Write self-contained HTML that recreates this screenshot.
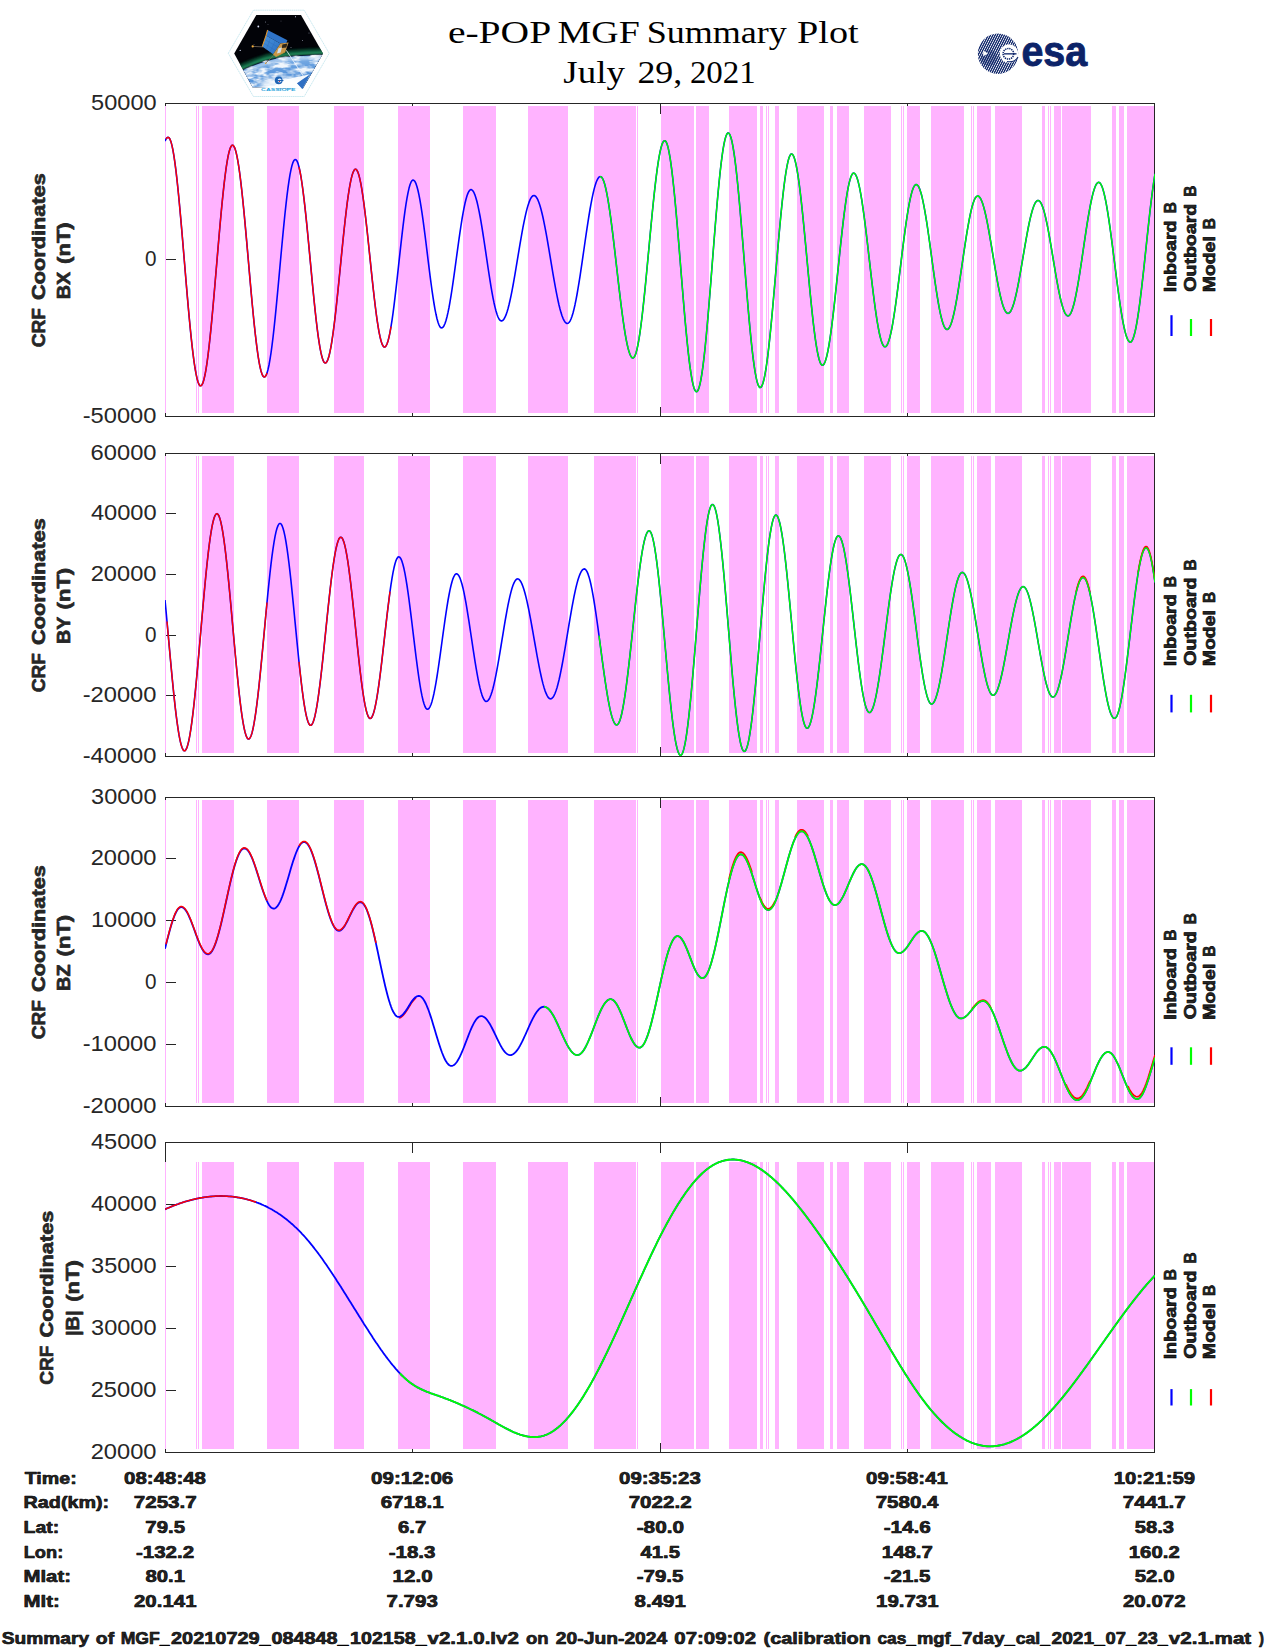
<!DOCTYPE html>
<html lang="en"><head><meta charset="utf-8"><title>e-POP MGF Summary Plot</title>
<style>html,body{margin:0;padding:0;background:#fff}body{width:1275px;height:1650px;overflow:hidden}svg{display:block}text{font-family:"Liberation Sans",sans-serif;fill:#262626}.b{font-weight:bold}.ser{font-family:"Liberation Serif",serif;fill:#000}.c{fill:none;stroke-linejoin:round;stroke-linecap:butt}</style></head><body>
<svg width="1275" height="1650" viewBox="0 0 1275 1650">
<rect width="1275" height="1650" fill="#fff"/>
<defs>
<clipPath id="cp0"><rect x="165" y="103.0" width="990" height="314.0"/></clipPath>
<clipPath id="cp1"><rect x="165" y="453.0" width="990" height="304.0"/></clipPath>
<clipPath id="cp2"><rect x="165" y="797.0" width="990" height="310.0"/></clipPath>
<clipPath id="cp3"><rect x="165" y="1142.0" width="990" height="311.0"/></clipPath>
</defs>
<g id="panel1">
<g stroke="#262626" stroke-width="1" fill="none" shape-rendering="crispEdges"><rect x="165.5" y="103.5" width="989.0" height="313.0"/><path d="M412.5,103.5v10M412.5,416.5v-10M660.5,103.5v10M660.5,416.5v-10M907.5,103.5v10M907.5,416.5v-10M165.5,259.5h10.5"/></g>
<path d="M165,106.0h1V413.0h-1zM196,106.0h1V413.0h-1zM198,106.0h1V413.0h-1zM202,106.0h32V413.0h-32zM267,106.0h32V413.0h-32zM334,106.0h30V413.0h-30zM398,106.0h32V413.0h-32zM463,106.0h33V413.0h-33zM528,106.0h40V413.0h-40zM594,106.0h42V413.0h-42zM637,106.0h1V413.0h-1zM661,106.0h33V413.0h-33zM696,106.0h13V413.0h-13zM729,106.0h28V413.0h-28zM760,106.0h3V413.0h-3zM766,106.0h1V413.0h-1zM768,106.0h1V413.0h-1zM775,106.0h4V413.0h-4zM797,106.0h27V413.0h-27zM830,106.0h3V413.0h-3zM837,106.0h12V413.0h-12zM864,106.0h27V413.0h-27zM901,106.0h1V413.0h-1zM903,106.0h1V413.0h-1zM907,106.0h13V413.0h-13zM931,106.0h33V413.0h-33zM971,106.0h1V413.0h-1zM973,106.0h1V413.0h-1zM977,106.0h14V413.0h-14zM995,106.0h27V413.0h-27zM1042,106.0h3V413.0h-3zM1048,106.0h1V413.0h-1zM1050,106.0h1V413.0h-1zM1054,106.0h7V413.0h-7zM1062,106.0h29V413.0h-29zM1112,106.0h4V413.0h-4zM1119,106.0h5V413.0h-5zM1127,106.0h27V413.0h-27z" fill="#ffb3ff" shape-rendering="crispEdges"/>
<g clip-path="url(#cp0)">
<path class="c" stroke="#0000ff" stroke-width="1.6" d="M165.0,141.1 L166.0,139.1 L167.0,137.8 L168.0,137.3 L169.0,137.7 L170.0,139.2 L171.0,141.9 L172.0,145.6 L173.0,150.5 L174.0,156.4 L175.0,163.4 L176.0,171.2 L177.0,179.9 L178.0,189.3 L179.0,199.5 L180.0,210.2 L181.0,221.4 L182.0,232.9 L183.0,244.8 L184.0,256.8 L185.0,268.8 L186.0,280.8 L187.0,292.6 L188.0,304.1 L189.0,315.2 L190.0,325.8 L191.0,335.8 L192.0,345.1 L193.0,353.6 L194.0,361.3 L195.0,368.0 L196.0,373.7 L197.0,378.4 L198.0,382.0 L199.0,384.4 L200.0,385.7 L201.0,385.8 L202.0,384.8 L203.0,382.6 L204.0,379.2 L205.0,374.8 L206.0,369.3 L207.0,362.8 L208.0,355.3 L209.0,347.0 L210.0,337.9 L211.0,328.1 L212.0,317.7 L213.0,306.7 L214.0,295.4 L215.0,283.8 L216.0,272.0 L217.0,260.2 L218.0,248.4 L219.0,236.7 L220.0,225.4 L221.0,214.4 L222.0,203.9 L223.0,194.1 L224.0,184.9 L225.0,176.5 L226.0,168.9 L227.0,162.3 L228.0,156.7 L229.0,152.2 L230.0,148.7 L231.0,146.4 L232.0,145.2 L233.0,145.2 L234.0,146.4 L235.0,148.6 L236.0,152.0 L237.0,156.4 L238.0,161.8 L239.0,168.2 L240.0,175.5 L241.0,183.7 L242.0,192.5 L243.0,202.1 L244.0,212.2 L245.0,222.9 L246.0,233.9 L247.0,245.1 L248.0,256.5 L249.0,268.0 L250.0,279.4 L251.0,290.6 L252.0,301.5 L253.0,312.0 L254.0,322.1 L255.0,331.5 L256.0,340.2 L257.0,348.2 L258.0,355.3 L259.0,361.6 L260.0,366.8 L261.0,371.0 L262.0,374.1 L263.0,376.1 L264.0,377.0 L265.0,376.8 L266.0,375.5 L267.0,373.1 L268.0,369.5 L269.0,365.0 L270.0,359.4 L271.0,353.0 L272.0,345.6 L273.0,337.5 L274.0,328.6 L275.0,319.1 L276.0,309.1 L277.0,298.7 L278.0,288.0 L279.0,277.1 L280.0,266.0 L281.0,255.0 L282.0,244.2 L283.0,233.6 L284.0,223.3 L285.0,213.5 L286.0,204.3 L287.0,195.7 L288.0,187.9 L289.0,180.8 L290.0,174.7 L291.0,169.6 L292.0,165.4 L293.0,162.3 L294.0,160.3 L295.0,159.5 L296.0,159.7 L297.0,161.0 L298.0,163.4 L299.0,167.0 L300.0,171.5 L301.0,177.0 L302.0,183.5 L303.0,190.8 L304.0,198.8 L305.0,207.6 L306.0,216.9 L307.0,226.7 L308.0,237.0 L309.0,247.4 L310.0,258.1 L311.0,268.7 L312.0,279.3 L313.0,289.7 L314.0,299.7 L315.0,309.4 L316.0,318.5 L317.0,327.0 L318.0,334.8 L319.0,341.7 L320.0,347.8 L321.0,352.9 L322.0,357.1 L323.0,360.2 L324.0,362.2 L325.0,363.0 L326.0,362.8 L327.0,361.6 L328.0,359.3 L329.0,356.0 L330.0,351.7 L331.0,346.6 L332.0,340.5 L333.0,333.6 L334.0,326.0 L335.0,317.8 L336.0,309.0 L337.0,299.7 L338.0,290.1 L339.0,280.2 L340.0,270.2 L341.0,260.1 L342.0,250.1 L343.0,240.2 L344.0,230.7 L345.0,221.5 L346.0,212.8 L347.0,204.7 L348.0,197.2 L349.0,190.5 L350.0,184.6 L351.0,179.6 L352.0,175.6 L353.0,172.5 L354.0,170.4 L355.0,169.3 L356.0,169.3 L357.0,170.4 L358.0,172.4 L359.0,175.5 L360.0,179.6 L361.0,184.5 L362.0,190.4 L363.0,197.0 L364.0,204.3 L365.0,212.3 L366.0,220.8 L367.0,229.7 L368.0,239.0 L369.0,248.5 L370.0,258.1 L371.0,267.8 L372.0,277.3 L373.0,286.6 L374.0,295.5 L375.0,304.0 L376.0,312.0 L377.0,319.3 L378.0,325.9 L379.0,331.8 L380.0,336.7 L381.0,340.8 L382.0,343.9 L383.0,345.9 L384.0,347.0 L385.0,347.0 L386.0,346.0 L387.0,344.0 L388.0,341.0 L389.0,337.1 L390.0,332.3 L391.0,326.7 L392.0,320.3 L393.0,313.3 L394.0,305.6 L395.0,297.4 L396.0,288.8 L397.0,280.0 L398.0,270.9 L399.0,261.7 L400.0,252.6 L401.0,243.6 L402.0,234.8 L403.0,226.4 L404.0,218.4 L405.0,210.9 L406.0,204.1 L407.0,198.1 L408.0,192.8 L409.0,188.3 L410.0,184.8 L411.0,182.2 L412.0,180.6 L413.0,180.0 L414.0,180.4 L415.0,181.6 L416.0,183.7 L417.0,186.7 L418.0,190.5 L419.0,195.1 L420.0,200.4 L421.0,206.3 L422.0,212.8 L423.0,219.9 L424.0,227.3 L425.0,235.0 L426.0,243.0 L427.0,251.1 L428.0,259.3 L429.0,267.4 L430.0,275.3 L431.0,283.0 L432.0,290.3 L433.0,297.2 L434.0,303.5 L435.0,309.3 L436.0,314.3 L437.0,318.7 L438.0,322.2 L439.0,325.0 L440.0,326.9 L441.0,327.8 L442.0,327.9 L443.0,327.2 L444.0,325.7 L445.0,323.5 L446.0,320.5 L447.0,316.8 L448.0,312.4 L449.0,307.5 L450.0,301.9 L451.0,295.9 L452.0,289.5 L453.0,282.7 L454.0,275.6 L455.0,268.4 L456.0,261.0 L457.0,253.6 L458.0,246.3 L459.0,239.1 L460.0,232.1 L461.0,225.5 L462.0,219.2 L463.0,213.4 L464.0,208.1 L465.0,203.3 L466.0,199.2 L467.0,195.8 L468.0,193.1 L469.0,191.2 L470.0,190.0 L471.0,189.6 L472.0,190.0 L473.0,191.0 L474.0,192.7 L475.0,195.1 L476.0,198.2 L477.0,201.8 L478.0,206.1 L479.0,210.8 L480.0,216.0 L481.0,221.7 L482.0,227.7 L483.0,234.0 L484.0,240.5 L485.0,247.2 L486.0,253.9 L487.0,260.7 L488.0,267.5 L489.0,274.0 L490.0,280.4 L491.0,286.6 L492.0,292.4 L493.0,297.8 L494.0,302.7 L495.0,307.1 L496.0,311.0 L497.0,314.3 L498.0,317.0 L499.0,319.0 L500.0,320.3 L501.0,320.9 L502.0,320.9 L503.0,320.3 L504.0,319.0 L505.0,317.2 L506.0,314.9 L507.0,312.0 L508.0,308.7 L509.0,304.8 L510.0,300.5 L511.0,295.9 L512.0,290.8 L513.0,285.5 L514.0,279.9 L515.0,274.1 L516.0,268.2 L517.0,262.2 L518.0,256.1 L519.0,250.1 L520.0,244.1 L521.0,238.3 L522.0,232.6 L523.0,227.2 L524.0,222.1 L525.0,217.3 L526.0,212.9 L527.0,208.9 L528.0,205.4 L529.0,202.4 L530.0,199.9 L531.0,197.9 L532.0,196.6 L533.0,195.7 L534.0,195.5 L535.0,195.8 L536.0,196.7 L537.0,198.2 L538.0,200.2 L539.0,202.7 L540.0,205.7 L541.0,209.2 L542.0,213.2 L543.0,217.5 L544.0,222.3 L545.0,227.3 L546.0,232.7 L547.0,238.2 L548.0,244.0 L549.0,249.9 L550.0,255.9 L551.0,261.9 L552.0,267.9 L553.0,273.8 L554.0,279.6 L555.0,285.2 L556.0,290.6 L557.0,295.7 L558.0,300.5 L559.0,305.0 L560.0,309.0 L561.0,312.6 L562.0,315.7 L563.0,318.3 L564.0,320.4 L565.0,322.0 L566.0,323.0 L567.0,323.5 L568.0,323.3 L569.0,322.5 L570.0,321.1 L571.0,319.0 L572.0,316.3 L573.0,313.0 L574.0,309.1 L575.0,304.7 L576.0,299.8 L577.0,294.5 L578.0,288.7 L579.0,282.7 L580.0,276.3 L581.0,269.6 L582.0,262.8 L583.0,255.9 L584.0,249.0 L585.0,242.0 L586.0,235.1 L587.0,228.4 L588.0,221.8 L589.0,215.5 L590.0,209.5 L591.0,203.9 L592.0,198.6 L593.0,193.9 L594.0,189.6 L595.0,185.9 L596.0,182.8 L597.0,180.3 L598.0,178.4 L599.0,177.1 L600.0,176.6 L601.0,176.7 L602.0,177.6 L603.0,179.4 L604.0,181.9 L605.0,185.3 L606.0,189.5 L607.0,194.4 L608.0,199.9 L609.0,206.1 L610.0,212.8 L611.0,220.1 L612.0,227.8 L613.0,235.9 L614.0,244.3 L615.0,252.8 L616.0,261.6 L617.0,270.3 L618.0,279.1 L619.0,287.7 L620.0,296.1 L621.0,304.3 L622.0,312.1 L623.0,319.5 L624.0,326.4 L625.0,332.8 L626.0,338.6 L627.0,343.6 L628.0,348.0 L629.0,351.6 L630.0,354.5 L631.0,356.5 L632.0,357.7 L633.0,358.0 L634.0,357.4 L635.0,355.7 L636.0,352.9 L637.0,349.2 L638.0,344.5 L639.0,338.9 L640.0,332.3 L641.0,325.0 L642.0,317.0 L643.0,308.2 L644.0,298.9 L645.0,289.2 L646.0,279.0 L647.0,268.5 L648.0,257.9 L649.0,247.2 L650.0,236.4 L651.0,225.9 L652.0,215.5 L653.0,205.5 L654.0,195.9 L655.0,186.8 L656.0,178.3 L657.0,170.6 L658.0,163.6 L659.0,157.4 L660.0,152.1 L661.0,147.8 L662.0,144.4 L663.0,142.1 L664.0,140.9 L665.0,140.7 L666.0,141.6 L667.0,143.8 L668.0,147.2 L669.0,151.8 L670.0,157.4 L671.0,164.2 L672.0,171.9 L673.0,180.5 L674.0,190.0 L675.0,200.2 L676.0,211.1 L677.0,222.5 L678.0,234.3 L679.0,246.4 L680.0,258.8 L681.0,271.2 L682.0,283.5 L683.0,295.7 L684.0,307.6 L685.0,319.1 L686.0,330.1 L687.0,340.4 L688.0,350.1 L689.0,358.9 L690.0,366.8 L691.0,373.7 L692.0,379.6 L693.0,384.4 L694.0,388.0 L695.0,390.4 L696.0,391.6 L697.0,391.6 L698.0,390.4 L699.0,387.8 L700.0,384.1 L701.0,379.1 L702.0,373.0 L703.0,365.9 L704.0,357.7 L705.0,348.5 L706.0,338.5 L707.0,327.8 L708.0,316.4 L709.0,304.5 L710.0,292.2 L711.0,279.6 L712.0,266.8 L713.0,254.0 L714.0,241.3 L715.0,228.7 L716.0,216.5 L717.0,204.8 L718.0,193.6 L719.0,183.1 L720.0,173.3 L721.0,164.5 L722.0,156.6 L723.0,149.7 L724.0,144.0 L725.0,139.4 L726.0,136.0 L727.0,133.8 L728.0,132.9 L729.0,133.3 L730.0,134.9 L731.0,137.7 L732.0,141.7 L733.0,146.8 L734.0,153.0 L735.0,160.2 L736.0,168.4 L737.0,177.5 L738.0,187.4 L739.0,198.0 L740.0,209.2 L741.0,220.9 L742.0,233.0 L743.0,245.3 L744.0,257.7 L745.0,270.2 L746.0,282.6 L747.0,294.8 L748.0,306.7 L749.0,318.1 L750.0,328.9 L751.0,339.1 L752.0,348.5 L753.0,357.1 L754.0,364.7 L755.0,371.4 L756.0,376.9 L757.0,381.4 L758.0,384.6 L759.0,386.7 L760.0,387.6 L761.0,387.2 L762.0,385.7 L763.0,383.0 L764.0,379.3 L765.0,374.4 L766.0,368.5 L767.0,361.6 L768.0,353.8 L769.0,345.2 L770.0,335.8 L771.0,325.8 L772.0,315.2 L773.0,304.2 L774.0,292.8 L775.0,281.3 L776.0,269.6 L777.0,257.9 L778.0,246.4 L779.0,235.1 L780.0,224.2 L781.0,213.7 L782.0,203.8 L783.0,194.6 L784.0,186.1 L785.0,178.5 L786.0,171.8 L787.0,166.1 L788.0,161.4 L789.0,157.8 L790.0,155.4 L791.0,154.1 L792.0,154.0 L793.0,155.0 L794.0,157.1 L795.0,160.2 L796.0,164.4 L797.0,169.5 L798.0,175.6 L799.0,182.6 L800.0,190.4 L801.0,198.9 L802.0,208.0 L803.0,217.7 L804.0,227.8 L805.0,238.2 L806.0,248.8 L807.0,259.6 L808.0,270.4 L809.0,281.0 L810.0,291.4 L811.0,301.5 L812.0,311.2 L813.0,320.3 L814.0,328.8 L815.0,336.6 L816.0,343.6 L817.0,349.7 L818.0,354.8 L819.0,359.0 L820.0,362.1 L821.0,364.2 L822.0,365.2 L823.0,365.1 L824.0,364.1 L825.0,362.0 L826.0,359.1 L827.0,355.2 L828.0,350.5 L829.0,345.0 L830.0,338.7 L831.0,331.7 L832.0,324.0 L833.0,315.9 L834.0,307.2 L835.0,298.2 L836.0,288.8 L837.0,279.3 L838.0,269.7 L839.0,260.1 L840.0,250.5 L841.0,241.2 L842.0,232.1 L843.0,223.4 L844.0,215.2 L845.0,207.5 L846.0,200.4 L847.0,194.0 L848.0,188.4 L849.0,183.6 L850.0,179.7 L851.0,176.6 L852.0,174.5 L853.0,173.3 L854.0,173.1 L855.0,173.8 L856.0,175.4 L857.0,177.8 L858.0,181.1 L859.0,185.1 L860.0,189.9 L861.0,195.4 L862.0,201.5 L863.0,208.3 L864.0,215.5 L865.0,223.2 L866.0,231.3 L867.0,239.7 L868.0,248.2 L869.0,256.9 L870.0,265.6 L871.0,274.3 L872.0,282.8 L873.0,291.1 L874.0,299.0 L875.0,306.6 L876.0,313.7 L877.0,320.3 L878.0,326.2 L879.0,331.5 L880.0,336.1 L881.0,339.9 L882.0,342.9 L883.0,345.1 L884.0,346.4 L885.0,346.8 L886.0,346.4 L887.0,345.2 L888.0,343.1 L889.0,340.3 L890.0,336.7 L891.0,332.4 L892.0,327.5 L893.0,321.9 L894.0,315.7 L895.0,309.0 L896.0,301.9 L897.0,294.4 L898.0,286.7 L899.0,278.7 L900.0,270.5 L901.0,262.4 L902.0,254.2 L903.0,246.2 L904.0,238.4 L905.0,230.9 L906.0,223.7 L907.0,216.9 L908.0,210.6 L909.0,204.9 L910.0,199.8 L911.0,195.4 L912.0,191.6 L913.0,188.7 L914.0,186.5 L915.0,185.1 L916.0,184.5 L917.0,184.7 L918.0,185.7 L919.0,187.4 L920.0,189.9 L921.0,193.0 L922.0,196.8 L923.0,201.3 L924.0,206.3 L925.0,211.8 L926.0,217.8 L927.0,224.2 L928.0,231.0 L929.0,238.0 L930.0,245.2 L931.0,252.6 L932.0,260.0 L933.0,267.3 L934.0,274.6 L935.0,281.6 L936.0,288.5 L937.0,294.9 L938.0,301.0 L939.0,306.7 L940.0,311.8 L941.0,316.3 L942.0,320.3 L943.0,323.5 L944.0,326.1 L945.0,328.0 L946.0,329.1 L947.0,329.5 L948.0,329.2 L949.0,328.1 L950.0,326.4 L951.0,324.0 L952.0,321.0 L953.0,317.3 L954.0,313.1 L955.0,308.4 L956.0,303.1 L957.0,297.5 L958.0,291.5 L959.0,285.2 L960.0,278.6 L961.0,271.9 L962.0,265.1 L963.0,258.3 L964.0,251.5 L965.0,244.9 L966.0,238.4 L967.0,232.2 L968.0,226.3 L969.0,220.8 L970.0,215.7 L971.0,211.1 L972.0,207.0 L973.0,203.6 L974.0,200.7 L975.0,198.5 L976.0,197.0 L977.0,196.2 L978.0,196.0 L979.0,196.5 L980.0,197.7 L981.0,199.4 L982.0,201.7 L983.0,204.6 L984.0,208.1 L985.0,212.0 L986.0,216.4 L987.0,221.2 L988.0,226.4 L989.0,231.9 L990.0,237.6 L991.0,243.5 L992.0,249.5 L993.0,255.6 L994.0,261.7 L995.0,267.7 L996.0,273.5 L997.0,279.2 L998.0,284.6 L999.0,289.6 L1000.0,294.3 L1001.0,298.6 L1002.0,302.4 L1003.0,305.7 L1004.0,308.4 L1005.0,310.6 L1006.0,312.1 L1007.0,313.1 L1008.0,313.4 L1009.0,313.1 L1010.0,312.2 L1011.0,310.7 L1012.0,308.5 L1013.0,305.9 L1014.0,302.7 L1015.0,299.0 L1016.0,294.8 L1017.0,290.3 L1018.0,285.3 L1019.0,280.1 L1020.0,274.6 L1021.0,268.9 L1022.0,263.1 L1023.0,257.2 L1024.0,251.3 L1025.0,245.5 L1026.0,239.8 L1027.0,234.3 L1028.0,229.0 L1029.0,224.0 L1030.0,219.4 L1031.0,215.2 L1032.0,211.5 L1033.0,208.2 L1034.0,205.5 L1035.0,203.3 L1036.0,201.8 L1037.0,200.8 L1038.0,200.4 L1039.0,200.7 L1040.0,201.5 L1041.0,203.1 L1042.0,205.2 L1043.0,207.9 L1044.0,211.1 L1045.0,214.9 L1046.0,219.2 L1047.0,223.9 L1048.0,228.9 L1049.0,234.3 L1050.0,240.0 L1051.0,245.8 L1052.0,251.8 L1053.0,257.8 L1054.0,263.9 L1055.0,269.9 L1056.0,275.8 L1057.0,281.4 L1058.0,286.8 L1059.0,291.9 L1060.0,296.7 L1061.0,301.0 L1062.0,304.8 L1063.0,308.1 L1064.0,310.9 L1065.0,313.1 L1066.0,314.6 L1067.0,315.6 L1068.0,315.9 L1069.0,315.6 L1070.0,314.5 L1071.0,312.8 L1072.0,310.4 L1073.0,307.3 L1074.0,303.7 L1075.0,299.5 L1076.0,294.7 L1077.0,289.5 L1078.0,283.9 L1079.0,277.9 L1080.0,271.6 L1081.0,265.0 L1082.0,258.3 L1083.0,251.5 L1084.0,244.7 L1085.0,237.9 L1086.0,231.2 L1087.0,224.7 L1088.0,218.5 L1089.0,212.6 L1090.0,207.1 L1091.0,202.0 L1092.0,197.4 L1093.0,193.3 L1094.0,189.9 L1095.0,187.0 L1096.0,184.8 L1097.0,183.3 L1098.0,182.5 L1099.0,182.3 L1100.0,183.0 L1101.0,184.4 L1102.0,186.6 L1103.0,189.5 L1104.0,193.1 L1105.0,197.5 L1106.0,202.4 L1107.0,208.0 L1108.0,214.1 L1109.0,220.7 L1110.0,227.7 L1111.0,235.0 L1112.0,242.6 L1113.0,250.4 L1114.0,258.3 L1115.0,266.2 L1116.0,274.1 L1117.0,281.9 L1118.0,289.5 L1119.0,296.8 L1120.0,303.8 L1121.0,310.4 L1122.0,316.5 L1123.0,322.1 L1124.0,327.0 L1125.0,331.4 L1126.0,335.0 L1127.0,337.9 L1128.0,340.1 L1129.0,341.5 L1130.0,342.2 L1131.0,342.0 L1132.0,340.8 L1133.0,338.8 L1134.0,335.8 L1135.0,332.0 L1136.0,327.3 L1137.0,321.8 L1138.0,315.6 L1139.0,308.8 L1140.0,301.3 L1141.0,293.2 L1142.0,284.7 L1143.0,275.9 L1144.0,266.8 L1145.0,257.4 L1146.0,248.0 L1147.0,238.6 L1148.0,229.3 L1149.0,220.1 L1150.0,211.2 L1151.0,202.7 L1152.0,194.6 L1153.0,187.1 L1154.0,180.1 L1155.0,173.8"/>
<path class="c" stroke="#ff0000" stroke-width="1.4" d="M166.0,139.1 L167.0,137.8 L168.0,137.3 L169.0,137.7 L170.0,139.2 L171.0,141.9 L172.0,145.6 L173.0,150.5 L174.0,156.4 L175.0,163.4 L176.0,171.2 L177.0,179.9 L178.0,189.3 L179.0,199.5 L180.0,210.2 L181.0,221.4 L182.0,232.9 L183.0,244.8 L184.0,256.8 L185.0,268.8 L186.0,280.8 L187.0,292.6 L188.0,304.1 L189.0,315.2 L190.0,325.8 L191.0,335.8 L192.0,345.1 L193.0,353.6 L194.0,361.3 L195.0,368.0 L196.0,373.7 L197.0,378.4 L198.0,382.0 L199.0,384.4 L200.0,385.7 L201.0,385.8 L202.0,384.8 L203.0,382.6 L204.0,379.2 L205.0,374.8 L206.0,369.3 L207.0,362.8 L208.0,355.3 L209.0,347.0 L210.0,337.9 L211.0,328.1 L212.0,317.7 L213.0,306.7 L214.0,295.4 L215.0,283.8 L216.0,272.0 L217.0,260.2 L218.0,248.4 L219.0,236.7 L220.0,225.4 L221.0,214.4 L222.0,203.9 L223.0,194.1 L224.0,184.9 L225.0,176.5 L226.0,168.9 L227.0,162.3 L228.0,156.7 L229.0,152.2 L230.0,148.7 L231.0,146.4 L232.0,145.2 L233.0,145.2 L234.0,146.4 L235.0,148.6 L236.0,152.0 L237.0,156.4 L238.0,161.8 L239.0,168.2 L240.0,175.5 L241.0,183.7 L242.0,192.5 L243.0,202.1 L244.0,212.2 L245.0,222.9 L246.0,233.9 L247.0,245.1 L248.0,256.5 L249.0,268.0 L250.0,279.4 L251.0,290.6 L252.0,301.5 L253.0,312.0 L254.0,322.1 L255.0,331.5 L256.0,340.2 L257.0,348.2 L258.0,355.3 L259.0,361.6 L260.0,366.8 L261.0,371.0 L262.0,374.1 L263.0,376.1 L264.0,377.0 L265.0,376.8 L266.0,375.5 L267.0,373.1"/>
<path class="c" stroke="#ff0000" stroke-width="1.4" d="M299.0,167.0 L300.0,171.5 L301.0,177.0 L302.0,183.5 L303.0,190.8 L304.0,198.8 L305.0,207.6 L306.0,216.9 L307.0,226.7 L308.0,237.0 L309.0,247.4 L310.0,258.1 L311.0,268.7 L312.0,279.3 L313.0,289.7 L314.0,299.7 L315.0,309.4 L316.0,318.5 L317.0,327.0 L318.0,334.8 L319.0,341.7 L320.0,347.8 L321.0,352.9 L322.0,357.1 L323.0,360.2 L324.0,362.2 L325.0,363.0 L326.0,362.8 L327.0,361.6 L328.0,359.3 L329.0,356.0 L330.0,351.7 L331.0,346.6 L332.0,340.5 L333.0,333.6 L334.0,326.0 L335.0,317.8 L336.0,309.0 L337.0,299.7 L338.0,290.1 L339.0,280.2 L340.0,270.2 L341.0,260.1 L342.0,250.1 L343.0,240.2 L344.0,230.7 L345.0,221.5 L346.0,212.8 L347.0,204.7 L348.0,197.2 L349.0,190.5 L350.0,184.6 L351.0,179.6 L352.0,175.6 L353.0,172.5 L354.0,170.4 L355.0,169.3 L356.0,169.3 L357.0,170.4 L358.0,172.4 L359.0,175.5 L360.0,179.6 L361.0,184.5 L362.0,190.4 L363.0,197.0 L364.0,204.3 L365.0,212.3 L366.0,220.8 L367.0,229.7 L368.0,239.0 L369.0,248.5 L370.0,258.1 L371.0,267.8 L372.0,277.3 L373.0,286.6 L374.0,295.5 L375.0,304.0 L376.0,312.0 L377.0,319.3 L378.0,325.9 L379.0,331.8 L380.0,336.7 L381.0,340.8 L382.0,343.9 L383.0,345.9 L384.0,347.0 L385.0,347.0 L386.0,346.0 L387.0,344.0 L388.0,341.0 L389.0,337.1 L390.0,332.3 L391.0,326.7"/>
<path class="c" stroke="#00ff00" stroke-width="1.4" d="M600.0,176.6 L601.0,176.7 L602.0,177.6 L603.0,179.4 L604.0,181.9 L605.0,185.3 L606.0,189.5 L607.0,194.4 L608.0,199.9 L609.0,206.1 L610.0,212.8 L611.0,220.1 L612.0,227.8 L613.0,235.9 L614.0,244.3 L615.0,252.8 L616.0,261.6 L617.0,270.3 L618.0,279.1 L619.0,287.7 L620.0,296.1 L621.0,304.3 L622.0,312.1 L623.0,319.5 L624.0,326.4 L625.0,332.8 L626.0,338.6 L627.0,343.6 L628.0,348.0 L629.0,351.6 L630.0,354.5 L631.0,356.5 L632.0,357.7 L633.0,358.0 L634.0,357.4 L635.0,355.7 L636.0,352.9 L637.0,349.2 L638.0,344.5 L639.0,338.9 L640.0,332.3 L641.0,325.0 L642.0,317.0 L643.0,308.2 L644.0,298.9 L645.0,289.2 L646.0,279.0 L647.0,268.5 L648.0,257.9 L649.0,247.2 L650.0,236.4 L651.0,225.9 L652.0,215.5 L653.0,205.5 L654.0,195.9 L655.0,186.8 L656.0,178.3 L657.0,170.6 L658.0,163.6 L659.0,157.4 L660.0,152.1 L661.0,147.8 L662.0,144.4 L663.0,142.1 L664.0,140.9 L665.0,140.7 L666.0,141.6 L667.0,143.8 L668.0,147.2 L669.0,151.8 L670.0,157.4 L671.0,164.2 L672.0,171.9 L673.0,180.5 L674.0,190.0 L675.0,200.2 L676.0,211.1 L677.0,222.5 L678.0,234.3 L679.0,246.4 L680.0,258.8 L681.0,271.2 L682.0,283.5 L683.0,295.7 L684.0,307.6 L685.0,319.1 L686.0,330.1 L687.0,340.4 L688.0,350.1 L689.0,358.9 L690.0,366.8 L691.0,373.7 L692.0,379.6 L693.0,384.4 L694.0,388.0 L695.0,390.4 L696.0,391.6 L697.0,391.6 L698.0,390.4 L699.0,387.8 L700.0,384.1 L701.0,379.1 L702.0,373.0 L703.0,365.9 L704.0,357.7 L705.0,348.5 L706.0,338.5 L707.0,327.8 L708.0,316.4 L709.0,304.5 L710.0,292.2 L711.0,279.6 L712.0,266.8 L713.0,254.0 L714.0,241.3 L715.0,228.7 L716.0,216.5 L717.0,204.8 L718.0,193.6 L719.0,183.1 L720.0,173.3 L721.0,164.5 L722.0,156.6 L723.0,149.7 L724.0,144.0 L725.0,139.4 L726.0,136.0 L727.0,133.8 L728.0,132.9 L729.0,133.3 L730.0,134.9 L731.0,137.7 L732.0,141.7 L733.0,146.8 L734.0,153.0 L735.0,160.2 L736.0,168.4 L737.0,177.5 L738.0,187.4 L739.0,198.0 L740.0,209.2 L741.0,220.9 L742.0,233.0 L743.0,245.3 L744.0,257.7 L745.0,270.2 L746.0,282.6 L747.0,294.8 L748.0,306.7 L749.0,318.1 L750.0,328.9 L751.0,339.1 L752.0,348.5 L753.0,357.1 L754.0,364.7 L755.0,371.4 L756.0,376.9 L757.0,381.4 L758.0,384.6 L759.0,386.7 L760.0,387.6 L761.0,387.2 L762.0,385.7 L763.0,383.0 L764.0,379.3 L765.0,374.4 L766.0,368.5 L767.0,361.6 L768.0,353.8 L769.0,345.2 L770.0,335.8 L771.0,325.8 L772.0,315.2 L773.0,304.2 L774.0,292.8 L775.0,281.3 L776.0,269.6 L777.0,257.9 L778.0,246.4 L779.0,235.1 L780.0,224.2 L781.0,213.7 L782.0,203.8 L783.0,194.6 L784.0,186.1 L785.0,178.5 L786.0,171.8 L787.0,166.1 L788.0,161.4 L789.0,157.8 L790.0,155.4 L791.0,154.1 L792.0,154.0 L793.0,155.0 L794.0,157.1 L795.0,160.2 L796.0,164.4 L797.0,169.5 L798.0,175.6 L799.0,182.6 L800.0,190.4 L801.0,198.9 L802.0,208.0 L803.0,217.7 L804.0,227.8 L805.0,238.2 L806.0,248.8 L807.0,259.6 L808.0,270.4 L809.0,281.0 L810.0,291.4 L811.0,301.5 L812.0,311.2 L813.0,320.3 L814.0,328.8 L815.0,336.6 L816.0,343.6 L817.0,349.7 L818.0,354.8 L819.0,359.0 L820.0,362.1 L821.0,364.2 L822.0,365.2 L823.0,365.1 L824.0,364.1 L825.0,362.0 L826.0,359.1 L827.0,355.2 L828.0,350.5 L829.0,345.0 L830.0,338.7 L831.0,331.7 L832.0,324.0 L833.0,315.9 L834.0,307.2 L835.0,298.2 L836.0,288.8 L837.0,279.3 L838.0,269.7 L839.0,260.1 L840.0,250.5 L841.0,241.2 L842.0,232.1 L843.0,223.4 L844.0,215.2 L845.0,207.5 L846.0,200.4 L847.0,194.0 L848.0,188.4 L849.0,183.6 L850.0,179.7 L851.0,176.6 L852.0,174.5 L853.0,173.3 L854.0,173.1 L855.0,173.8 L856.0,175.4 L857.0,177.8 L858.0,181.1 L859.0,185.1 L860.0,189.9 L861.0,195.4 L862.0,201.5 L863.0,208.3 L864.0,215.5 L865.0,223.2 L866.0,231.3 L867.0,239.7 L868.0,248.2 L869.0,256.9 L870.0,265.6 L871.0,274.3 L872.0,282.8 L873.0,291.1 L874.0,299.0 L875.0,306.6 L876.0,313.7 L877.0,320.3 L878.0,326.2 L879.0,331.5 L880.0,336.1 L881.0,339.9 L882.0,342.9 L883.0,345.1 L884.0,346.4 L885.0,346.8 L886.0,346.4 L887.0,345.2 L888.0,343.1 L889.0,340.3 L890.0,336.7 L891.0,332.4 L892.0,327.5 L893.0,321.9 L894.0,315.7 L895.0,309.0 L896.0,301.9 L897.0,294.4 L898.0,286.7 L899.0,278.7 L900.0,270.5 L901.0,262.4 L902.0,254.2 L903.0,246.2 L904.0,238.4 L905.0,230.9 L906.0,223.7 L907.0,216.9 L908.0,210.6 L909.0,204.9 L910.0,199.8 L911.0,195.4 L912.0,191.6 L913.0,188.7 L914.0,186.5 L915.0,185.1 L916.0,184.5 L917.0,184.7 L918.0,185.7 L919.0,187.4 L920.0,189.9 L921.0,193.0 L922.0,196.8 L923.0,201.3 L924.0,206.3 L925.0,211.8 L926.0,217.8 L927.0,224.2 L928.0,231.0 L929.0,238.0 L930.0,245.2 L931.0,252.6 L932.0,260.0 L933.0,267.3 L934.0,274.6 L935.0,281.6 L936.0,288.5 L937.0,294.9 L938.0,301.0 L939.0,306.7 L940.0,311.8 L941.0,316.3 L942.0,320.3 L943.0,323.5 L944.0,326.1 L945.0,328.0 L946.0,329.1 L947.0,329.5 L948.0,329.2 L949.0,328.1 L950.0,326.4 L951.0,324.0 L952.0,321.0 L953.0,317.3 L954.0,313.1 L955.0,308.4 L956.0,303.1 L957.0,297.5 L958.0,291.5 L959.0,285.2 L960.0,278.6 L961.0,271.9 L962.0,265.1 L963.0,258.3 L964.0,251.5 L965.0,244.9 L966.0,238.4 L967.0,232.2 L968.0,226.3 L969.0,220.8 L970.0,215.7 L971.0,211.1 L972.0,207.0 L973.0,203.6 L974.0,200.7 L975.0,198.5 L976.0,197.0 L977.0,196.2 L978.0,196.0 L979.0,196.5 L980.0,197.7 L981.0,199.4 L982.0,201.7 L983.0,204.6 L984.0,208.1 L985.0,212.0 L986.0,216.4 L987.0,221.2 L988.0,226.4 L989.0,231.9 L990.0,237.6 L991.0,243.5 L992.0,249.5 L993.0,255.6 L994.0,261.7 L995.0,267.7 L996.0,273.5 L997.0,279.2 L998.0,284.6 L999.0,289.6 L1000.0,294.3 L1001.0,298.6 L1002.0,302.4 L1003.0,305.7 L1004.0,308.4 L1005.0,310.6 L1006.0,312.1 L1007.0,313.1 L1008.0,313.4 L1009.0,313.1 L1010.0,312.2 L1011.0,310.7 L1012.0,308.5 L1013.0,305.9 L1014.0,302.7 L1015.0,299.0 L1016.0,294.8 L1017.0,290.3 L1018.0,285.3 L1019.0,280.1 L1020.0,274.6 L1021.0,268.9 L1022.0,263.1 L1023.0,257.2 L1024.0,251.3 L1025.0,245.5 L1026.0,239.8 L1027.0,234.3 L1028.0,229.0 L1029.0,224.0 L1030.0,219.4 L1031.0,215.2 L1032.0,211.5 L1033.0,208.2 L1034.0,205.5 L1035.0,203.3 L1036.0,201.8 L1037.0,200.8 L1038.0,200.4 L1039.0,200.7 L1040.0,201.5 L1041.0,203.1 L1042.0,205.2 L1043.0,207.9 L1044.0,211.1 L1045.0,214.9 L1046.0,219.2 L1047.0,223.9 L1048.0,228.9 L1049.0,234.3 L1050.0,240.0 L1051.0,245.8 L1052.0,251.8 L1053.0,257.8 L1054.0,263.9 L1055.0,269.9 L1056.0,275.8 L1057.0,281.4 L1058.0,286.8 L1059.0,291.9 L1060.0,296.7 L1061.0,301.0 L1062.0,304.8 L1063.0,308.1 L1064.0,310.9 L1065.0,313.1 L1066.0,314.6 L1067.0,315.6 L1068.0,315.9 L1069.0,315.6 L1070.0,314.5 L1071.0,312.8 L1072.0,310.4 L1073.0,307.3 L1074.0,303.7 L1075.0,299.5 L1076.0,294.7 L1077.0,289.5 L1078.0,283.9 L1079.0,277.9 L1080.0,271.6 L1081.0,265.0 L1082.0,258.3 L1083.0,251.5 L1084.0,244.7 L1085.0,237.9 L1086.0,231.2 L1087.0,224.7 L1088.0,218.5 L1089.0,212.6 L1090.0,207.1 L1091.0,202.0 L1092.0,197.4 L1093.0,193.3 L1094.0,189.9 L1095.0,187.0 L1096.0,184.8 L1097.0,183.3 L1098.0,182.5 L1099.0,182.3 L1100.0,183.0 L1101.0,184.4 L1102.0,186.6 L1103.0,189.5 L1104.0,193.1 L1105.0,197.5 L1106.0,202.4 L1107.0,208.0 L1108.0,214.1 L1109.0,220.7 L1110.0,227.7 L1111.0,235.0 L1112.0,242.6 L1113.0,250.4 L1114.0,258.3 L1115.0,266.2 L1116.0,274.1 L1117.0,281.9 L1118.0,289.5 L1119.0,296.8 L1120.0,303.8 L1121.0,310.4 L1122.0,316.5 L1123.0,322.1 L1124.0,327.0 L1125.0,331.4 L1126.0,335.0 L1127.0,337.9 L1128.0,340.1 L1129.0,341.5 L1130.0,342.2 L1131.0,342.0 L1132.0,340.8 L1133.0,338.8 L1134.0,335.8 L1135.0,332.0 L1136.0,327.3 L1137.0,321.8 L1138.0,315.6 L1139.0,308.8 L1140.0,301.3 L1141.0,293.2 L1142.0,284.7 L1143.0,275.9 L1144.0,266.8 L1145.0,257.4 L1146.0,248.0 L1147.0,238.6 L1148.0,229.3 L1149.0,220.1 L1150.0,211.2 L1151.0,202.7 L1152.0,194.6 L1153.0,187.1 L1154.0,180.1 L1155.0,173.8"/>
</g>
<text x="91.1" y="109.9" font-size="22.47" textLength="65.5" lengthAdjust="spacingAndGlyphs">50000</text>
<text x="144.9" y="265.9" font-size="22.47" textLength="11.5" lengthAdjust="spacingAndGlyphs">0</text>
<text x="82.7" y="422.9" font-size="22.47" textLength="73.8" lengthAdjust="spacingAndGlyphs">-50000</text>
<g transform="translate(44.5,260.3) rotate(-90)"><text x="-87.0" y="0.0" font-size="18.75" textLength="39.3" lengthAdjust="spacingAndGlyphs" class="b" stroke="#262626" stroke-width="0.67" stroke-linejoin="round">CRF</text><text x="-39.6" y="0.0" font-size="18.75" textLength="126.7" lengthAdjust="spacingAndGlyphs" class="b" stroke="#262626" stroke-width="0.67" stroke-linejoin="round">Coordinates</text></g>
<g transform="translate(70.3,260.8) rotate(-90)"><text x="-38.5" y="0.0" font-size="18.75" textLength="27.5" lengthAdjust="spacingAndGlyphs" class="b" stroke="#262626" stroke-width="0.67" stroke-linejoin="round">BX</text><text x="-3.1" y="0.0" font-size="18.75" textLength="41.6" lengthAdjust="spacingAndGlyphs" class="b" stroke="#262626" stroke-width="0.67" stroke-linejoin="round">(nT)</text></g>
<g transform="translate(1176.2,292.8) rotate(-90)"><text x="0.5" y="0.0" font-size="16.67" textLength="71.9" lengthAdjust="spacingAndGlyphs" class="b" fill="#000" stroke="#000" stroke-width="0.60" stroke-linejoin="round">Inboard</text><text x="79.5" y="0.0" font-size="16.67" textLength="11.1" lengthAdjust="spacingAndGlyphs" class="b" fill="#000" stroke="#000" stroke-width="0.60" stroke-linejoin="round">B</text></g>
<g transform="translate(1196.2,292.1) rotate(-90)"><text x="0.3" y="0.0" font-size="16.67" textLength="88.1" lengthAdjust="spacingAndGlyphs" class="b" fill="#000" stroke="#000" stroke-width="0.60" stroke-linejoin="round">Outboard</text><text x="95.4" y="0.0" font-size="16.67" textLength="11.1" lengthAdjust="spacingAndGlyphs" class="b" fill="#000" stroke="#000" stroke-width="0.60" stroke-linejoin="round">B</text></g>
<g transform="translate(1215.4,292.8) rotate(-90)"><text x="0.5" y="0.0" font-size="16.67" textLength="56.1" lengthAdjust="spacingAndGlyphs" class="b" fill="#000" stroke="#000" stroke-width="0.60" stroke-linejoin="round">Model</text><text x="63.6" y="0.0" font-size="16.67" textLength="11.1" lengthAdjust="spacingAndGlyphs" class="b" fill="#000" stroke="#000" stroke-width="0.60" stroke-linejoin="round">B</text></g>
<path d="M1171.5,315.2V336.0" stroke="#0000ff" stroke-width="2.2"/>
<path d="M1191,319.0V336.0" stroke="#00ff00" stroke-width="2.2"/>
<path d="M1211,319.0V336.0" stroke="#ff0000" stroke-width="2.2"/>
</g>
<g id="panel2">
<g stroke="#262626" stroke-width="1" fill="none" shape-rendering="crispEdges"><rect x="165.5" y="453.5" width="989.0" height="303.0"/><path d="M412.5,453.5v10M412.5,756.5v-10M660.5,453.5v10M660.5,756.5v-10M907.5,453.5v10M907.5,756.5v-10M165.5,513.5h10.5M165.5,574.5h10.5M165.5,635.5h10.5M165.5,695.5h10.5"/></g>
<path d="M165,456.0h1V753.0h-1zM196,456.0h1V753.0h-1zM198,456.0h1V753.0h-1zM202,456.0h32V753.0h-32zM267,456.0h32V753.0h-32zM334,456.0h30V753.0h-30zM398,456.0h32V753.0h-32zM463,456.0h33V753.0h-33zM528,456.0h40V753.0h-40zM594,456.0h42V753.0h-42zM637,456.0h1V753.0h-1zM661,456.0h33V753.0h-33zM696,456.0h13V753.0h-13zM729,456.0h28V753.0h-28zM760,456.0h3V753.0h-3zM766,456.0h1V753.0h-1zM768,456.0h1V753.0h-1zM775,456.0h4V753.0h-4zM797,456.0h27V753.0h-27zM830,456.0h3V753.0h-3zM837,456.0h12V753.0h-12zM864,456.0h27V753.0h-27zM901,456.0h1V753.0h-1zM903,456.0h1V753.0h-1zM907,456.0h13V753.0h-13zM931,456.0h33V753.0h-33zM971,456.0h1V753.0h-1zM973,456.0h1V753.0h-1zM977,456.0h14V753.0h-14zM995,456.0h27V753.0h-27zM1042,456.0h3V753.0h-3zM1048,456.0h1V753.0h-1zM1050,456.0h1V753.0h-1zM1054,456.0h7V753.0h-7zM1062,456.0h29V753.0h-29zM1112,456.0h4V753.0h-4zM1119,456.0h5V753.0h-5zM1127,456.0h27V753.0h-27z" fill="#ffb3ff" shape-rendering="crispEdges"/>
<g clip-path="url(#cp1)">
<path class="c" stroke="#0000ff" stroke-width="1.6" d="M165.0,600.1 L166.0,610.7 L167.0,621.5 L168.0,632.6 L169.0,643.6 L170.0,654.7 L171.0,665.5 L172.0,676.1 L173.0,686.3 L174.0,696.1 L175.0,705.3 L176.0,713.9 L177.0,721.7 L178.0,728.7 L179.0,734.9 L180.0,740.1 L181.0,744.3 L182.0,747.5 L183.0,749.7 L184.0,750.8 L185.0,750.8 L186.0,749.6 L187.0,747.4 L188.0,744.1 L189.0,739.8 L190.0,734.4 L191.0,728.1 L192.0,720.9 L193.0,712.8 L194.0,704.0 L195.0,694.5 L196.0,684.5 L197.0,673.9 L198.0,663.0 L199.0,651.7 L200.0,640.3 L201.0,628.8 L202.0,617.3 L203.0,606.0 L204.0,594.9 L205.0,584.2 L206.0,573.9 L207.0,564.2 L208.0,555.1 L209.0,546.7 L210.0,539.2 L211.0,532.5 L212.0,526.7 L213.0,522.0 L214.0,518.3 L215.0,515.6 L216.0,514.1 L217.0,513.6 L218.0,514.3 L219.0,516.0 L220.0,518.9 L221.0,522.8 L222.0,527.7 L223.0,533.6 L224.0,540.4 L225.0,548.0 L226.0,556.4 L227.0,565.5 L228.0,575.2 L229.0,585.4 L230.0,596.0 L231.0,606.9 L232.0,618.0 L233.0,629.1 L234.0,640.3 L235.0,651.3 L236.0,662.0 L237.0,672.4 L238.0,682.4 L239.0,691.8 L240.0,700.6 L241.0,708.6 L242.0,715.8 L243.0,722.2 L244.0,727.6 L245.0,732.0 L246.0,735.4 L247.0,737.7 L248.0,738.9 L249.0,739.0 L250.0,738.0 L251.0,736.0 L252.0,732.9 L253.0,728.8 L254.0,723.7 L255.0,717.7 L256.0,710.9 L257.0,703.2 L258.0,694.8 L259.0,685.8 L260.0,676.2 L261.0,666.2 L262.0,655.8 L263.0,645.2 L264.0,634.5 L265.0,623.7 L266.0,613.0 L267.0,602.5 L268.0,592.2 L269.0,582.4 L270.0,573.0 L271.0,564.2 L272.0,556.1 L273.0,548.8 L274.0,542.3 L275.0,536.6 L276.0,531.9 L277.0,528.2 L278.0,525.6 L279.0,523.9 L280.0,523.4 L281.0,523.9 L282.0,525.5 L283.0,528.2 L284.0,531.8 L285.0,536.4 L286.0,542.0 L287.0,548.4 L288.0,555.6 L289.0,563.5 L290.0,572.1 L291.0,581.2 L292.0,590.8 L293.0,600.8 L294.0,611.0 L295.0,621.3 L296.0,631.7 L297.0,641.9 L298.0,652.0 L299.0,661.9 L300.0,671.3 L301.0,680.2 L302.0,688.5 L303.0,696.2 L304.0,703.1 L305.0,709.2 L306.0,714.3 L307.0,718.6 L308.0,721.8 L309.0,724.0 L310.0,725.2 L311.0,725.3 L312.0,724.4 L313.0,722.5 L314.0,719.6 L315.0,715.7 L316.0,710.9 L317.0,705.3 L318.0,698.9 L319.0,691.7 L320.0,683.9 L321.0,675.5 L322.0,666.6 L323.0,657.4 L324.0,647.9 L325.0,638.1 L326.0,628.4 L327.0,618.6 L328.0,609.0 L329.0,599.6 L330.0,590.6 L331.0,582.0 L332.0,574.0 L333.0,566.5 L334.0,559.8 L335.0,553.8 L336.0,548.7 L337.0,544.5 L338.0,541.2 L339.0,538.8 L340.0,537.5 L341.0,537.2 L342.0,537.9 L343.0,539.7 L344.0,542.4 L345.0,546.2 L346.0,550.8 L347.0,556.4 L348.0,562.7 L349.0,569.8 L350.0,577.6 L351.0,585.9 L352.0,594.7 L353.0,603.9 L354.0,613.4 L355.0,623.0 L356.0,632.7 L357.0,642.3 L358.0,651.8 L359.0,661.0 L360.0,669.8 L361.0,678.1 L362.0,685.9 L363.0,693.0 L364.0,699.3 L365.0,704.9 L366.0,709.5 L367.0,713.3 L368.0,716.0 L369.0,717.8 L370.0,718.5 L371.0,718.2 L372.0,716.9 L373.0,714.7 L374.0,711.6 L375.0,707.5 L376.0,702.6 L377.0,697.0 L378.0,690.6 L379.0,683.6 L380.0,676.0 L381.0,668.0 L382.0,659.6 L383.0,650.9 L384.0,642.1 L385.0,633.2 L386.0,624.4 L387.0,615.7 L388.0,607.3 L389.0,599.3 L390.0,591.7 L391.0,584.7 L392.0,578.3 L393.0,572.7 L394.0,567.8 L395.0,563.7 L396.0,560.6 L397.0,558.4 L398.0,557.1 L399.0,556.8 L400.0,557.5 L401.0,559.0 L402.0,561.4 L403.0,564.7 L404.0,568.8 L405.0,573.7 L406.0,579.3 L407.0,585.5 L408.0,592.3 L409.0,599.6 L410.0,607.3 L411.0,615.3 L412.0,623.5 L413.0,631.8 L414.0,640.1 L415.0,648.4 L416.0,656.5 L417.0,664.2 L418.0,671.7 L419.0,678.6 L420.0,685.0 L421.0,690.8 L422.0,695.9 L423.0,700.2 L424.0,703.8 L425.0,706.5 L426.0,708.3 L427.0,709.2 L428.0,709.2 L429.0,708.4 L430.0,706.8 L431.0,704.5 L432.0,701.4 L433.0,697.6 L434.0,693.2 L435.0,688.1 L436.0,682.6 L437.0,676.5 L438.0,670.0 L439.0,663.2 L440.0,656.1 L441.0,648.9 L442.0,641.5 L443.0,634.2 L444.0,627.0 L445.0,619.9 L446.0,613.1 L447.0,606.6 L448.0,600.5 L449.0,595.0 L450.0,589.9 L451.0,585.5 L452.0,581.7 L453.0,578.6 L454.0,576.3 L455.0,574.7 L456.0,573.9 L457.0,573.9 L458.0,574.6 L459.0,576.0 L460.0,578.1 L461.0,580.9 L462.0,584.2 L463.0,588.2 L464.0,592.7 L465.0,597.8 L466.0,603.2 L467.0,609.1 L468.0,615.3 L469.0,621.7 L470.0,628.3 L471.0,635.0 L472.0,641.7 L473.0,648.4 L474.0,654.9 L475.0,661.3 L476.0,667.4 L477.0,673.2 L478.0,678.6 L479.0,683.5 L480.0,687.9 L481.0,691.8 L482.0,695.1 L483.0,697.7 L484.0,699.6 L485.0,700.9 L486.0,701.5 L487.0,701.3 L488.0,700.6 L489.0,699.3 L490.0,697.3 L491.0,694.8 L492.0,691.7 L493.0,688.2 L494.0,684.1 L495.0,679.6 L496.0,674.7 L497.0,669.4 L498.0,663.9 L499.0,658.1 L500.0,652.1 L501.0,646.0 L502.0,639.9 L503.0,633.8 L504.0,627.7 L505.0,621.7 L506.0,616.0 L507.0,610.4 L508.0,605.2 L509.0,600.4 L510.0,595.9 L511.0,591.9 L512.0,588.3 L513.0,585.3 L514.0,582.9 L515.0,581.0 L516.0,579.7 L517.0,579.0 L518.0,578.9 L519.0,579.4 L520.0,580.5 L521.0,582.0 L522.0,584.1 L523.0,586.7 L524.0,589.7 L525.0,593.2 L526.0,597.1 L527.0,601.4 L528.0,606.0 L529.0,610.9 L530.0,616.1 L531.0,621.4 L532.0,627.0 L533.0,632.6 L534.0,638.3 L535.0,644.0 L536.0,649.7 L537.0,655.3 L538.0,660.7 L539.0,665.9 L540.0,670.9 L541.0,675.5 L542.0,679.9 L543.0,683.9 L544.0,687.4 L545.0,690.6 L546.0,693.2 L547.0,695.4 L548.0,697.1 L549.0,698.2 L550.0,698.8 L551.0,698.9 L552.0,698.3 L553.0,697.3 L554.0,695.7 L555.0,693.5 L556.0,690.8 L557.0,687.7 L558.0,684.0 L559.0,680.0 L560.0,675.5 L561.0,670.7 L562.0,665.5 L563.0,660.1 L564.0,654.4 L565.0,648.6 L566.0,642.7 L567.0,636.6 L568.0,630.6 L569.0,624.5 L570.0,618.6 L571.0,612.8 L572.0,607.1 L573.0,601.8 L574.0,596.6 L575.0,591.8 L576.0,587.4 L577.0,583.4 L578.0,579.8 L579.0,576.7 L580.0,574.1 L581.0,572.0 L582.0,570.4 L583.0,569.4 L584.0,568.9 L585.0,569.1 L586.0,570.0 L587.0,571.6 L588.0,573.9 L589.0,576.9 L590.0,580.5 L591.0,584.8 L592.0,589.7 L593.0,595.1 L594.0,601.0 L595.0,607.3 L596.0,614.0 L597.0,621.0 L598.0,628.2 L599.0,635.6 L600.0,643.2 L601.0,650.7 L602.0,658.3 L603.0,665.7 L604.0,672.9 L605.0,679.9 L606.0,686.6 L607.0,692.9 L608.0,698.8 L609.0,704.2 L610.0,709.1 L611.0,713.4 L612.0,717.0 L613.0,720.0 L614.0,722.3 L615.0,723.9 L616.0,724.8 L617.0,725.0 L618.0,724.2 L619.0,722.6 L620.0,720.1 L621.0,716.7 L622.0,712.5 L623.0,707.4 L624.0,701.7 L625.0,695.2 L626.0,688.1 L627.0,680.4 L628.0,672.3 L629.0,663.7 L630.0,654.8 L631.0,645.6 L632.0,636.3 L633.0,626.9 L634.0,617.5 L635.0,608.2 L636.0,599.1 L637.0,590.2 L638.0,581.7 L639.0,573.7 L640.0,566.1 L641.0,559.2 L642.0,552.8 L643.0,547.2 L644.0,542.3 L645.0,538.3 L646.0,535.1 L647.0,532.7 L648.0,531.3 L649.0,530.7 L650.0,531.2 L651.0,532.7 L652.0,535.4 L653.0,539.1 L654.0,543.9 L655.0,549.6 L656.0,556.3 L657.0,563.8 L658.0,572.1 L659.0,581.2 L660.0,590.8 L661.0,601.0 L662.0,611.5 L663.0,622.4 L664.0,633.5 L665.0,644.7 L666.0,655.9 L667.0,667.0 L668.0,677.8 L669.0,688.2 L670.0,698.3 L671.0,707.7 L672.0,716.5 L673.0,724.6 L674.0,731.9 L675.0,738.3 L676.0,743.8 L677.0,748.2 L678.0,751.6 L679.0,754.0 L680.0,755.2 L681.0,755.3 L682.0,754.2 L683.0,751.9 L684.0,748.4 L685.0,743.8 L686.0,738.1 L687.0,731.3 L688.0,723.5 L689.0,714.9 L690.0,705.4 L691.0,695.1 L692.0,684.3 L693.0,672.9 L694.0,661.1 L695.0,649.0 L696.0,636.7 L697.0,624.3 L698.0,612.0 L699.0,599.9 L700.0,588.1 L701.0,576.6 L702.0,565.7 L703.0,555.4 L704.0,545.9 L705.0,537.1 L706.0,529.2 L707.0,522.4 L708.0,516.5 L709.0,511.8 L710.0,508.2 L711.0,505.8 L712.0,504.6 L713.0,504.6 L714.0,505.8 L715.0,508.1 L716.0,511.7 L717.0,516.4 L718.0,522.2 L719.0,529.0 L720.0,536.8 L721.0,545.5 L722.0,554.9 L723.0,565.1 L724.0,575.9 L725.0,587.2 L726.0,598.9 L727.0,610.9 L728.0,623.1 L729.0,635.3 L730.0,647.4 L731.0,659.3 L732.0,671.0 L733.0,682.2 L734.0,692.9 L735.0,702.9 L736.0,712.2 L737.0,720.7 L738.0,728.3 L739.0,734.9 L740.0,740.5 L741.0,745.0 L742.0,748.3 L743.0,750.5 L744.0,751.4 L745.0,751.2 L746.0,749.8 L747.0,747.3 L748.0,743.6 L749.0,738.8 L750.0,733.0 L751.0,726.2 L752.0,718.5 L753.0,710.0 L754.0,700.6 L755.0,690.7 L756.0,680.1 L757.0,669.1 L758.0,657.8 L759.0,646.2 L760.0,634.4 L761.0,622.7 L762.0,611.0 L763.0,599.6 L764.0,588.5 L765.0,577.9 L766.0,567.8 L767.0,558.3 L768.0,549.6 L769.0,541.7 L770.0,534.8 L771.0,528.8 L772.0,523.8 L773.0,519.9 L774.0,517.1 L775.0,515.5 L776.0,515.0 L777.0,515.7 L778.0,517.4 L779.0,520.2 L780.0,524.0 L781.0,528.8 L782.0,534.5 L783.0,541.1 L784.0,548.5 L785.0,556.7 L786.0,565.6 L787.0,575.0 L788.0,584.8 L789.0,595.1 L790.0,605.6 L791.0,616.3 L792.0,627.0 L793.0,637.7 L794.0,648.2 L795.0,658.5 L796.0,668.3 L797.0,677.7 L798.0,686.6 L799.0,694.8 L800.0,702.2 L801.0,708.8 L802.0,714.5 L803.0,719.3 L804.0,723.1 L805.0,725.9 L806.0,727.6 L807.0,728.3 L808.0,727.9 L809.0,726.6 L810.0,724.3 L811.0,721.0 L812.0,716.9 L813.0,711.9 L814.0,706.1 L815.0,699.6 L816.0,692.4 L817.0,684.6 L818.0,676.2 L819.0,667.4 L820.0,658.3 L821.0,648.9 L822.0,639.3 L823.0,629.6 L824.0,620.0 L825.0,610.5 L826.0,601.2 L827.0,592.2 L828.0,583.6 L829.0,575.6 L830.0,568.0 L831.0,561.2 L832.0,555.0 L833.0,549.6 L834.0,545.0 L835.0,541.4 L836.0,538.6 L837.0,536.7 L838.0,535.9 L839.0,536.0 L840.0,537.0 L841.0,538.9 L842.0,541.6 L843.0,545.2 L844.0,549.7 L845.0,554.8 L846.0,560.7 L847.0,567.3 L848.0,574.4 L849.0,582.1 L850.0,590.2 L851.0,598.6 L852.0,607.3 L853.0,616.1 L854.0,625.1 L855.0,634.0 L856.0,642.9 L857.0,651.5 L858.0,659.9 L859.0,667.9 L860.0,675.4 L861.0,682.5 L862.0,688.9 L863.0,694.6 L864.0,699.7 L865.0,704.0 L866.0,707.4 L867.0,710.0 L868.0,711.7 L869.0,712.5 L870.0,712.5 L871.0,711.6 L872.0,710.0 L873.0,707.6 L874.0,704.4 L875.0,700.6 L876.0,696.1 L877.0,690.9 L878.0,685.2 L879.0,679.0 L880.0,672.4 L881.0,665.3 L882.0,657.9 L883.0,650.3 L884.0,642.6 L885.0,634.7 L886.0,626.8 L887.0,619.0 L888.0,611.3 L889.0,603.9 L890.0,596.7 L891.0,589.9 L892.0,583.6 L893.0,577.7 L894.0,572.4 L895.0,567.7 L896.0,563.7 L897.0,560.3 L898.0,557.7 L899.0,555.8 L900.0,554.7 L901.0,554.4 L902.0,554.9 L903.0,556.1 L904.0,558.1 L905.0,560.9 L906.0,564.4 L907.0,568.5 L908.0,573.3 L909.0,578.7 L910.0,584.6 L911.0,590.9 L912.0,597.7 L913.0,604.8 L914.0,612.2 L915.0,619.7 L916.0,627.3 L917.0,635.0 L918.0,642.6 L919.0,650.0 L920.0,657.3 L921.0,664.2 L922.0,670.8 L923.0,676.9 L924.0,682.6 L925.0,687.7 L926.0,692.1 L927.0,696.0 L928.0,699.1 L929.0,701.5 L930.0,703.1 L931.0,704.0 L932.0,704.0 L933.0,703.4 L934.0,702.1 L935.0,700.2 L936.0,697.5 L937.0,694.3 L938.0,690.5 L939.0,686.1 L940.0,681.2 L941.0,675.9 L942.0,670.2 L943.0,664.1 L944.0,657.8 L945.0,651.3 L946.0,644.6 L947.0,637.9 L948.0,631.2 L949.0,624.5 L950.0,618.0 L951.0,611.7 L952.0,605.7 L953.0,600.0 L954.0,594.8 L955.0,589.9 L956.0,585.6 L957.0,581.8 L958.0,578.7 L959.0,576.1 L960.0,574.2 L961.0,573.0 L962.0,572.4 L963.0,572.6 L964.0,573.3 L965.0,574.7 L966.0,576.7 L967.0,579.3 L968.0,582.5 L969.0,586.2 L970.0,590.4 L971.0,595.0 L972.0,600.1 L973.0,605.5 L974.0,611.2 L975.0,617.1 L976.0,623.2 L977.0,629.5 L978.0,635.7 L979.0,642.0 L980.0,648.1 L981.0,654.1 L982.0,659.9 L983.0,665.5 L984.0,670.7 L985.0,675.5 L986.0,679.9 L987.0,683.8 L988.0,687.2 L989.0,690.0 L990.0,692.3 L991.0,693.9 L992.0,694.9 L993.0,695.3 L994.0,695.1 L995.0,694.2 L996.0,692.8 L997.0,690.9 L998.0,688.3 L999.0,685.3 L1000.0,681.8 L1001.0,677.8 L1002.0,673.5 L1003.0,668.8 L1004.0,663.8 L1005.0,658.5 L1006.0,653.0 L1007.0,647.5 L1008.0,641.8 L1009.0,636.1 L1010.0,630.5 L1011.0,625.0 L1012.0,619.7 L1013.0,614.6 L1014.0,609.8 L1015.0,605.3 L1016.0,601.2 L1017.0,597.6 L1018.0,594.4 L1019.0,591.7 L1020.0,589.6 L1021.0,588.0 L1022.0,587.0 L1023.0,586.6 L1024.0,586.8 L1025.0,587.6 L1026.0,589.0 L1027.0,591.0 L1028.0,593.5 L1029.0,596.6 L1030.0,600.2 L1031.0,604.3 L1032.0,608.7 L1033.0,613.6 L1034.0,618.7 L1035.0,624.1 L1036.0,629.7 L1037.0,635.5 L1038.0,641.3 L1039.0,647.1 L1040.0,652.8 L1041.0,658.5 L1042.0,663.9 L1043.0,669.1 L1044.0,674.0 L1045.0,678.6 L1046.0,682.7 L1047.0,686.4 L1048.0,689.6 L1049.0,692.3 L1050.0,694.4 L1051.0,695.9 L1052.0,696.8 L1053.0,697.1 L1054.0,696.8 L1055.0,695.8 L1056.0,694.2 L1057.0,692.0 L1058.0,689.1 L1059.0,685.7 L1060.0,681.8 L1061.0,677.4 L1062.0,672.6 L1063.0,667.4 L1064.0,661.8 L1065.0,656.0 L1066.0,650.0 L1067.0,643.8 L1068.0,637.6 L1069.0,631.3 L1070.0,625.2 L1071.0,619.1 L1072.0,613.3 L1073.0,607.7 L1074.0,602.4 L1075.0,597.5 L1076.0,593.1 L1077.0,589.1 L1078.0,585.7 L1079.0,582.8 L1080.0,580.5 L1081.0,578.8 L1082.0,577.8 L1083.0,577.4 L1084.0,577.7 L1085.0,578.7 L1086.0,580.3 L1087.0,582.7 L1088.0,585.7 L1089.0,589.3 L1090.0,593.5 L1091.0,598.3 L1092.0,603.6 L1093.0,609.2 L1094.0,615.3 L1095.0,621.7 L1096.0,628.4 L1097.0,635.3 L1098.0,642.3 L1099.0,649.3 L1100.0,656.3 L1101.0,663.3 L1102.0,670.1 L1103.0,676.7 L1104.0,682.9 L1105.0,688.9 L1106.0,694.4 L1107.0,699.5 L1108.0,704.0 L1109.0,708.0 L1110.0,711.4 L1111.0,714.1 L1112.0,716.2 L1113.0,717.6 L1114.0,718.3 L1115.0,718.3 L1116.0,717.5 L1117.0,715.8 L1118.0,713.3 L1119.0,710.0 L1120.0,706.0 L1121.0,701.2 L1122.0,695.8 L1123.0,689.7 L1124.0,683.1 L1125.0,676.0 L1126.0,668.5 L1127.0,660.6 L1128.0,652.4 L1129.0,644.1 L1130.0,635.6 L1131.0,627.2 L1132.0,618.8 L1133.0,610.5 L1134.0,602.4 L1135.0,594.7 L1136.0,587.3 L1137.0,580.4 L1138.0,574.0 L1139.0,568.2 L1140.0,563.0 L1141.0,558.5 L1142.0,554.8 L1143.0,551.8 L1144.0,549.7 L1145.0,548.3 L1146.0,547.8 L1147.0,548.2 L1148.0,549.5 L1149.0,551.7 L1150.0,554.8 L1151.0,558.8 L1152.0,563.7 L1153.0,569.2 L1154.0,575.6 L1155.0,582.6"/>
<path class="c" stroke="#ff0000" stroke-width="1.4" d="M167.0,621.5 L168.0,632.6 L169.0,643.6 L170.0,654.7 L171.0,665.5 L172.0,676.1 L173.0,686.3 L174.0,696.1 L175.0,705.3 L176.0,713.9 L177.0,721.7 L178.0,728.7 L179.0,734.9 L180.0,740.1 L181.0,744.3 L182.0,747.5 L183.0,749.7 L184.0,750.8 L185.0,750.8 L186.0,749.6 L187.0,747.4 L188.0,744.1 L189.0,739.8 L190.0,734.4 L191.0,728.1 L192.0,720.9 L193.0,712.8 L194.0,704.0 L195.0,694.5 L196.0,684.5 L197.0,673.9 L198.0,663.0 L199.0,651.7 L200.0,640.3 L201.0,628.8 L202.0,617.3 L203.0,606.0 L204.0,594.9 L205.0,584.2 L206.0,573.9 L207.0,564.2 L208.0,555.1 L209.0,546.7 L210.0,539.2 L211.0,532.5 L212.0,526.7 L213.0,522.0 L214.0,518.3 L215.0,515.6 L216.0,514.1 L217.0,513.6 L218.0,514.3 L219.0,516.0 L220.0,518.9 L221.0,522.8 L222.0,527.7 L223.0,533.6 L224.0,540.4 L225.0,548.0 L226.0,556.4 L227.0,565.5 L228.0,575.2 L229.0,585.4 L230.0,596.0 L231.0,606.9 L232.0,618.0 L233.0,629.1 L234.0,640.3 L235.0,651.3 L236.0,662.0 L237.0,672.4 L238.0,682.4 L239.0,691.8 L240.0,700.6 L241.0,708.6 L242.0,715.8 L243.0,722.2 L244.0,727.6 L245.0,732.0 L246.0,735.4 L247.0,737.7 L248.0,738.9 L249.0,739.0 L250.0,738.0 L251.0,736.0 L252.0,732.9 L253.0,728.8 L254.0,723.7 L255.0,717.7 L256.0,710.9 L257.0,703.2 L258.0,694.8 L259.0,685.8 L260.0,676.2 L261.0,666.2 L262.0,655.8 L263.0,645.2 L264.0,634.5 L265.0,623.7 L266.0,613.0 L267.0,602.5"/>
<path class="c" stroke="#ff0000" stroke-width="1.4" d="M299.0,661.9 L300.0,671.3 L301.0,680.2 L302.0,688.5 L303.0,696.2 L304.0,703.1 L305.0,709.2 L306.0,714.3 L307.0,718.6 L308.0,721.8 L309.0,724.0 L310.0,725.2 L311.0,725.3 L312.0,724.4 L313.0,722.5 L314.0,719.6 L315.0,715.7 L316.0,710.9 L317.0,705.3 L318.0,698.9 L319.0,691.7 L320.0,683.9 L321.0,675.5 L322.0,666.6 L323.0,657.4 L324.0,647.9 L325.0,638.1 L326.0,628.4 L327.0,618.6 L328.0,609.0 L329.0,599.6 L330.0,590.6 L331.0,582.0 L332.0,574.0 L333.0,566.5 L334.0,559.8 L335.0,553.8 L336.0,548.7 L337.0,544.5 L338.0,541.2 L339.0,538.8 L340.0,537.5 L341.0,537.2 L342.0,537.9 L343.0,539.7 L344.0,542.4 L345.0,546.2 L346.0,550.8 L347.0,556.4 L348.0,562.7 L349.0,569.8 L350.0,577.6 L351.0,585.9 L352.0,594.7 L353.0,603.9 L354.0,613.4 L355.0,623.0 L356.0,632.7 L357.0,642.3 L358.0,651.8 L359.0,661.0 L360.0,669.8 L361.0,678.1 L362.0,685.9 L363.0,693.0 L364.0,699.3 L365.0,704.9 L366.0,709.5 L367.0,713.3 L368.0,716.0 L369.0,717.8 L370.0,718.5 L371.0,718.2 L372.0,716.9 L373.0,714.7 L374.0,711.6 L375.0,707.5 L376.0,702.6 L377.0,697.0 L378.0,690.6 L379.0,683.6 L380.0,676.0 L381.0,668.0 L382.0,659.6 L383.0,650.9 L384.0,642.1 L385.0,633.2 L386.0,624.4 L387.0,615.7 L388.0,607.3 L389.0,599.3 L390.0,591.7"/>
<path class="c" stroke="#ff0000" stroke-width="1.5" d="M1076.0,591.9 L1077.0,587.9 L1078.0,584.5 L1079.0,581.6 L1080.0,579.3 L1081.0,577.6 L1082.0,576.6 L1083.0,576.2 L1084.0,576.5 L1085.0,577.5 L1086.0,579.1 L1087.0,581.5 L1088.0,584.5 L1089.0,588.1 L1090.0,592.3"/>
<path class="c" stroke="#ff0000" stroke-width="1.5" d="M1138.0,572.6 L1139.0,566.8 L1140.0,561.6 L1141.0,557.1 L1142.0,553.4 L1143.0,550.4 L1144.0,548.3 L1145.0,546.9 L1146.0,546.4 L1147.0,546.8 L1148.0,548.1 L1149.0,550.3 L1150.0,553.4 L1151.0,557.4 L1152.0,562.3 L1153.0,567.8 L1154.0,574.2 L1155.0,581.2"/>
<path class="c" stroke="#00ff00" stroke-width="1.4" d="M599.0,635.6 L600.0,643.2 L601.0,650.7 L602.0,658.3 L603.0,665.7 L604.0,672.9 L605.0,679.9 L606.0,686.6 L607.0,692.9 L608.0,698.8 L609.0,704.2 L610.0,709.1 L611.0,713.4 L612.0,717.0 L613.0,720.0 L614.0,722.3 L615.0,723.9 L616.0,724.8 L617.0,725.0 L618.0,724.2 L619.0,722.6 L620.0,720.1 L621.0,716.7 L622.0,712.5 L623.0,707.4 L624.0,701.7 L625.0,695.2 L626.0,688.1 L627.0,680.4 L628.0,672.3 L629.0,663.7 L630.0,654.8 L631.0,645.6 L632.0,636.3 L633.0,626.9 L634.0,617.5 L635.0,608.2 L636.0,599.1 L637.0,590.2 L638.0,581.7 L639.0,573.7 L640.0,566.1 L641.0,559.2 L642.0,552.8 L643.0,547.2 L644.0,542.3 L645.0,538.3 L646.0,535.1 L647.0,532.7 L648.0,531.3 L649.0,530.7 L650.0,531.2 L651.0,532.7 L652.0,535.4 L653.0,539.1 L654.0,543.9 L655.0,549.6 L656.0,556.3 L657.0,563.8 L658.0,572.1 L659.0,581.2 L660.0,590.8 L661.0,601.0 L662.0,611.5 L663.0,622.4 L664.0,633.5 L665.0,644.7 L666.0,655.9 L667.0,667.0 L668.0,677.8 L669.0,688.2 L670.0,698.3 L671.0,707.7 L672.0,716.5 L673.0,724.6 L674.0,731.9 L675.0,738.3 L676.0,743.8 L677.0,748.2 L678.0,751.6 L679.0,754.0 L680.0,755.2 L681.0,755.3 L682.0,754.2 L683.0,751.9 L684.0,748.4 L685.0,743.8 L686.0,738.1 L687.0,731.3 L688.0,723.5 L689.0,714.9 L690.0,705.4 L691.0,695.1 L692.0,684.3 L693.0,672.9 L694.0,661.1 L695.0,649.0 L696.0,636.7 L697.0,624.3 L698.0,612.0 L699.0,599.9 L700.0,588.1 L701.0,576.6 L702.0,565.7 L703.0,555.4 L704.0,545.9 L705.0,537.1 L706.0,529.2 L707.0,522.4 L708.0,516.5 L709.0,511.8 L710.0,508.2 L711.0,505.8 L712.0,504.6 L713.0,504.6 L714.0,505.8 L715.0,508.1 L716.0,511.7 L717.0,516.4 L718.0,522.2 L719.0,529.0 L720.0,536.8 L721.0,545.5 L722.0,554.9 L723.0,565.1 L724.0,575.9 L725.0,587.2 L726.0,598.9 L727.0,610.9 L728.0,623.1 L729.0,635.3 L730.0,647.4 L731.0,659.3 L732.0,671.0 L733.0,682.2 L734.0,692.9 L735.0,702.9 L736.0,712.2 L737.0,720.7 L738.0,728.3 L739.0,734.9 L740.0,740.5 L741.0,745.0 L742.0,748.3 L743.0,750.5 L744.0,751.4 L745.0,751.2 L746.0,749.8 L747.0,747.3 L748.0,743.6 L749.0,738.8 L750.0,733.0 L751.0,726.2 L752.0,718.5 L753.0,710.0 L754.0,700.6 L755.0,690.7 L756.0,680.1 L757.0,669.1 L758.0,657.8 L759.0,646.2 L760.0,634.4 L761.0,622.7 L762.0,611.0 L763.0,599.6 L764.0,588.5 L765.0,577.9 L766.0,567.8 L767.0,558.3 L768.0,549.6 L769.0,541.7 L770.0,534.8 L771.0,528.8 L772.0,523.8 L773.0,519.9 L774.0,517.1 L775.0,515.5 L776.0,515.0 L777.0,515.7 L778.0,517.4 L779.0,520.2 L780.0,524.0 L781.0,528.8 L782.0,534.5 L783.0,541.1 L784.0,548.5 L785.0,556.7 L786.0,565.6 L787.0,575.0 L788.0,584.8 L789.0,595.1 L790.0,605.6 L791.0,616.3 L792.0,627.0 L793.0,637.7 L794.0,648.2 L795.0,658.5 L796.0,668.3 L797.0,677.7 L798.0,686.6 L799.0,694.8 L800.0,702.2 L801.0,708.8 L802.0,714.5 L803.0,719.3 L804.0,723.1 L805.0,725.9 L806.0,727.6 L807.0,728.3 L808.0,727.9 L809.0,726.6 L810.0,724.3 L811.0,721.0 L812.0,716.9 L813.0,711.9 L814.0,706.1 L815.0,699.6 L816.0,692.4 L817.0,684.6 L818.0,676.2 L819.0,667.4 L820.0,658.3 L821.0,648.9 L822.0,639.3 L823.0,629.6 L824.0,620.0 L825.0,610.5 L826.0,601.2 L827.0,592.2 L828.0,583.6 L829.0,575.6 L830.0,568.0 L831.0,561.2 L832.0,555.0 L833.0,549.6 L834.0,545.0 L835.0,541.4 L836.0,538.6 L837.0,536.7 L838.0,535.9 L839.0,536.0 L840.0,537.0 L841.0,538.9 L842.0,541.6 L843.0,545.2 L844.0,549.7 L845.0,554.8 L846.0,560.7 L847.0,567.3 L848.0,574.4 L849.0,582.1 L850.0,590.2 L851.0,598.6 L852.0,607.3 L853.0,616.1 L854.0,625.1 L855.0,634.0 L856.0,642.9 L857.0,651.5 L858.0,659.9 L859.0,667.9 L860.0,675.4 L861.0,682.5 L862.0,688.9 L863.0,694.6 L864.0,699.7 L865.0,704.0 L866.0,707.4 L867.0,710.0 L868.0,711.7 L869.0,712.5 L870.0,712.5 L871.0,711.6 L872.0,710.0 L873.0,707.6 L874.0,704.4 L875.0,700.6 L876.0,696.1 L877.0,690.9 L878.0,685.2 L879.0,679.0 L880.0,672.4 L881.0,665.3 L882.0,657.9 L883.0,650.3 L884.0,642.6 L885.0,634.7 L886.0,626.8 L887.0,619.0 L888.0,611.3 L889.0,603.9 L890.0,596.7 L891.0,589.9 L892.0,583.6 L893.0,577.7 L894.0,572.4 L895.0,567.7 L896.0,563.7 L897.0,560.3 L898.0,557.7 L899.0,555.8 L900.0,554.7 L901.0,554.4 L902.0,554.9 L903.0,556.1 L904.0,558.1 L905.0,560.9 L906.0,564.4 L907.0,568.5 L908.0,573.3 L909.0,578.7 L910.0,584.6 L911.0,590.9 L912.0,597.7 L913.0,604.8 L914.0,612.2 L915.0,619.7 L916.0,627.3 L917.0,635.0 L918.0,642.6 L919.0,650.0 L920.0,657.3 L921.0,664.2 L922.0,670.8 L923.0,676.9 L924.0,682.6 L925.0,687.7 L926.0,692.1 L927.0,696.0 L928.0,699.1 L929.0,701.5 L930.0,703.1 L931.0,704.0 L932.0,704.0 L933.0,703.4 L934.0,702.1 L935.0,700.2 L936.0,697.5 L937.0,694.3 L938.0,690.5 L939.0,686.1 L940.0,681.2 L941.0,675.9 L942.0,670.2 L943.0,664.1 L944.0,657.8 L945.0,651.3 L946.0,644.6 L947.0,637.9 L948.0,631.2 L949.0,624.5 L950.0,618.0 L951.0,611.7 L952.0,605.7 L953.0,600.0 L954.0,594.8 L955.0,589.9 L956.0,585.6 L957.0,581.8 L958.0,578.7 L959.0,576.1 L960.0,574.2 L961.0,573.0 L962.0,572.4 L963.0,572.6 L964.0,573.3 L965.0,574.7 L966.0,576.7 L967.0,579.3 L968.0,582.5 L969.0,586.2 L970.0,590.4 L971.0,595.0 L972.0,600.1 L973.0,605.5 L974.0,611.2 L975.0,617.1 L976.0,623.2 L977.0,629.5 L978.0,635.7 L979.0,642.0 L980.0,648.1 L981.0,654.1 L982.0,659.9 L983.0,665.5 L984.0,670.7 L985.0,675.5 L986.0,679.9 L987.0,683.8 L988.0,687.2 L989.0,690.0 L990.0,692.3 L991.0,693.9 L992.0,694.9 L993.0,695.3 L994.0,695.1 L995.0,694.2 L996.0,692.8 L997.0,690.9 L998.0,688.3 L999.0,685.3 L1000.0,681.8 L1001.0,677.8 L1002.0,673.5 L1003.0,668.8 L1004.0,663.8 L1005.0,658.5 L1006.0,653.0 L1007.0,647.5 L1008.0,641.8 L1009.0,636.1 L1010.0,630.5 L1011.0,625.0 L1012.0,619.7 L1013.0,614.6 L1014.0,609.8 L1015.0,605.3 L1016.0,601.2 L1017.0,597.6 L1018.0,594.4 L1019.0,591.7 L1020.0,589.6 L1021.0,588.0 L1022.0,587.0 L1023.0,586.6 L1024.0,586.8 L1025.0,587.6 L1026.0,589.0 L1027.0,591.0 L1028.0,593.5 L1029.0,596.6 L1030.0,600.2 L1031.0,604.3 L1032.0,608.7 L1033.0,613.6 L1034.0,618.7 L1035.0,624.1 L1036.0,629.7 L1037.0,635.5 L1038.0,641.3 L1039.0,647.1 L1040.0,652.8 L1041.0,658.5 L1042.0,663.9 L1043.0,669.1 L1044.0,674.0 L1045.0,678.6 L1046.0,682.7 L1047.0,686.4 L1048.0,689.6 L1049.0,692.3 L1050.0,694.4 L1051.0,695.9 L1052.0,696.8 L1053.0,697.1 L1054.0,696.8 L1055.0,695.8 L1056.0,694.2 L1057.0,692.0 L1058.0,689.1 L1059.0,685.7 L1060.0,681.8 L1061.0,677.4 L1062.0,672.6 L1063.0,667.4 L1064.0,661.8 L1065.0,656.0 L1066.0,650.0 L1067.0,643.8 L1068.0,637.6 L1069.0,631.3 L1070.0,625.2 L1071.0,619.1 L1072.0,613.3 L1073.0,607.7 L1074.0,602.4 L1075.0,597.5 L1076.0,593.1 L1077.0,589.1 L1078.0,585.7 L1079.0,582.8 L1080.0,580.5 L1081.0,578.8 L1082.0,577.8 L1083.0,577.4 L1084.0,577.7 L1085.0,578.7 L1086.0,580.3 L1087.0,582.7 L1088.0,585.7 L1089.0,589.3 L1090.0,593.5 L1091.0,598.3 L1092.0,603.6 L1093.0,609.2 L1094.0,615.3 L1095.0,621.7 L1096.0,628.4 L1097.0,635.3 L1098.0,642.3 L1099.0,649.3 L1100.0,656.3 L1101.0,663.3 L1102.0,670.1 L1103.0,676.7 L1104.0,682.9 L1105.0,688.9 L1106.0,694.4 L1107.0,699.5 L1108.0,704.0 L1109.0,708.0 L1110.0,711.4 L1111.0,714.1 L1112.0,716.2 L1113.0,717.6 L1114.0,718.3 L1115.0,718.3 L1116.0,717.5 L1117.0,715.8 L1118.0,713.3 L1119.0,710.0 L1120.0,706.0 L1121.0,701.2 L1122.0,695.8 L1123.0,689.7 L1124.0,683.1 L1125.0,676.0 L1126.0,668.5 L1127.0,660.6 L1128.0,652.4 L1129.0,644.1 L1130.0,635.6 L1131.0,627.2 L1132.0,618.8 L1133.0,610.5 L1134.0,602.4 L1135.0,594.7 L1136.0,587.3 L1137.0,580.4 L1138.0,574.0 L1139.0,568.2 L1140.0,563.0 L1141.0,558.5 L1142.0,554.8 L1143.0,551.8 L1144.0,549.7 L1145.0,548.3 L1146.0,547.8 L1147.0,548.2 L1148.0,549.5 L1149.0,551.7 L1150.0,554.8 L1151.0,558.8 L1152.0,563.7 L1153.0,569.2 L1154.0,575.6 L1155.0,582.6"/>
</g>
<text x="90.6" y="459.9" font-size="22.47" textLength="65.9" lengthAdjust="spacingAndGlyphs">60000</text>
<text x="90.9" y="519.9" font-size="22.47" textLength="65.7" lengthAdjust="spacingAndGlyphs">40000</text>
<text x="90.7" y="580.9" font-size="22.47" textLength="65.8" lengthAdjust="spacingAndGlyphs">20000</text>
<text x="144.9" y="641.9" font-size="22.47" textLength="11.5" lengthAdjust="spacingAndGlyphs">0</text>
<text x="82.7" y="701.9" font-size="22.47" textLength="73.8" lengthAdjust="spacingAndGlyphs">-20000</text>
<text x="82.7" y="762.9" font-size="22.47" textLength="73.8" lengthAdjust="spacingAndGlyphs">-40000</text>
<g transform="translate(44.5,605.3) rotate(-90)"><text x="-87.0" y="0.0" font-size="18.75" textLength="39.3" lengthAdjust="spacingAndGlyphs" class="b" stroke="#262626" stroke-width="0.67" stroke-linejoin="round">CRF</text><text x="-39.6" y="0.0" font-size="18.75" textLength="126.7" lengthAdjust="spacingAndGlyphs" class="b" stroke="#262626" stroke-width="0.67" stroke-linejoin="round">Coordinates</text></g>
<g transform="translate(70.3,605.8) rotate(-90)"><text x="-38.1" y="0.0" font-size="18.75" textLength="27.3" lengthAdjust="spacingAndGlyphs" class="b" stroke="#262626" stroke-width="0.67" stroke-linejoin="round">BY</text><text x="-3.6" y="0.0" font-size="18.75" textLength="41.6" lengthAdjust="spacingAndGlyphs" class="b" stroke="#262626" stroke-width="0.67" stroke-linejoin="round">(nT)</text></g>
<g transform="translate(1176.2,666.7) rotate(-90)"><text x="0.5" y="0.0" font-size="16.67" textLength="71.9" lengthAdjust="spacingAndGlyphs" class="b" fill="#000" stroke="#000" stroke-width="0.60" stroke-linejoin="round">Inboard</text><text x="79.5" y="0.0" font-size="16.67" textLength="11.1" lengthAdjust="spacingAndGlyphs" class="b" fill="#000" stroke="#000" stroke-width="0.60" stroke-linejoin="round">B</text></g>
<g transform="translate(1196.2,666.0) rotate(-90)"><text x="0.3" y="0.0" font-size="16.67" textLength="88.1" lengthAdjust="spacingAndGlyphs" class="b" fill="#000" stroke="#000" stroke-width="0.60" stroke-linejoin="round">Outboard</text><text x="95.4" y="0.0" font-size="16.67" textLength="11.1" lengthAdjust="spacingAndGlyphs" class="b" fill="#000" stroke="#000" stroke-width="0.60" stroke-linejoin="round">B</text></g>
<g transform="translate(1215.4,666.7) rotate(-90)"><text x="0.5" y="0.0" font-size="16.67" textLength="56.1" lengthAdjust="spacingAndGlyphs" class="b" fill="#000" stroke="#000" stroke-width="0.60" stroke-linejoin="round">Model</text><text x="63.6" y="0.0" font-size="16.67" textLength="11.1" lengthAdjust="spacingAndGlyphs" class="b" fill="#000" stroke="#000" stroke-width="0.60" stroke-linejoin="round">B</text></g>
<path d="M1171.5,694.8V712.4" stroke="#0000ff" stroke-width="2.2"/>
<path d="M1191,694.8V712.4" stroke="#00ff00" stroke-width="2.2"/>
<path d="M1211,694.8V712.4" stroke="#ff0000" stroke-width="2.2"/>
</g>
<g id="panel3">
<g stroke="#262626" stroke-width="1" fill="none" shape-rendering="crispEdges"><rect x="165.5" y="797.5" width="989.0" height="309.0"/><path d="M412.5,797.5v10M412.5,1106.5v-10M660.5,797.5v10M660.5,1106.5v-10M907.5,797.5v10M907.5,1106.5v-10M165.5,858.5h10.5M165.5,920.5h10.5M165.5,982.5h10.5M165.5,1044.5h10.5"/></g>
<path d="M165,800.0h1V1103.0h-1zM196,800.0h1V1103.0h-1zM198,800.0h1V1103.0h-1zM202,800.0h32V1103.0h-32zM267,800.0h32V1103.0h-32zM334,800.0h30V1103.0h-30zM398,800.0h32V1103.0h-32zM463,800.0h33V1103.0h-33zM528,800.0h40V1103.0h-40zM594,800.0h42V1103.0h-42zM637,800.0h1V1103.0h-1zM661,800.0h33V1103.0h-33zM696,800.0h13V1103.0h-13zM729,800.0h28V1103.0h-28zM760,800.0h3V1103.0h-3zM766,800.0h1V1103.0h-1zM768,800.0h1V1103.0h-1zM775,800.0h4V1103.0h-4zM797,800.0h27V1103.0h-27zM830,800.0h3V1103.0h-3zM837,800.0h12V1103.0h-12zM864,800.0h27V1103.0h-27zM901,800.0h1V1103.0h-1zM903,800.0h1V1103.0h-1zM907,800.0h13V1103.0h-13zM931,800.0h33V1103.0h-33zM971,800.0h1V1103.0h-1zM973,800.0h1V1103.0h-1zM977,800.0h14V1103.0h-14zM995,800.0h27V1103.0h-27zM1042,800.0h3V1103.0h-3zM1048,800.0h1V1103.0h-1zM1050,800.0h1V1103.0h-1zM1054,800.0h7V1103.0h-7zM1062,800.0h29V1103.0h-29zM1112,800.0h4V1103.0h-4zM1119,800.0h5V1103.0h-5zM1127,800.0h27V1103.0h-27z" fill="#ffb3ff" shape-rendering="crispEdges"/>
<g clip-path="url(#cp2)">
<path class="c" stroke="#ff0000" stroke-width="1.8" d="M399.0,1017.9 L400.0,1017.6 L401.0,1017.1 L402.0,1016.3 L403.0,1015.4 L404.0,1014.2 L405.0,1012.9 L406.0,1011.5 L407.0,1010.0 L408.0,1008.4 L409.0,1006.8 L410.0,1005.2 L411.0,1003.6 L412.0,1002.1 L413.0,1000.8 L414.0,999.6 L415.0,998.6 L416.0,997.9"/>
<path class="c" stroke="#0000ff" stroke-width="1.8" d="M165.0,948.8 L166.0,944.8 L167.0,940.9 L168.0,937.0 L169.0,933.2 L170.0,929.6 L171.0,926.1 L172.0,922.8 L173.0,919.8 L174.0,917.0 L175.0,914.5 L176.0,912.4 L177.0,910.6 L178.0,909.1 L179.0,908.1 L180.0,907.4 L181.0,907.1 L182.0,907.2 L183.0,907.6 L184.0,908.4 L185.0,909.4 L186.0,910.7 L187.0,912.3 L188.0,914.2 L189.0,916.3 L190.0,918.6 L191.0,921.0 L192.0,923.6 L193.0,926.3 L194.0,929.0 L195.0,931.8 L196.0,934.6 L197.0,937.3 L198.0,939.9 L199.0,942.3 L200.0,944.7 L201.0,946.8 L202.0,948.7 L203.0,950.4 L204.0,951.8 L205.0,952.9 L206.0,953.7 L207.0,954.1 L208.0,954.3 L209.0,954.1 L210.0,953.5 L211.0,952.5 L212.0,951.2 L213.0,949.4 L214.0,947.3 L215.0,944.9 L216.0,942.1 L217.0,939.0 L218.0,935.7 L219.0,932.1 L220.0,928.2 L221.0,924.2 L222.0,920.0 L223.0,915.6 L224.0,911.1 L225.0,906.6 L226.0,902.0 L227.0,897.5 L228.0,892.9 L229.0,888.4 L230.0,884.0 L231.0,879.8 L232.0,875.7 L233.0,871.8 L234.0,868.1 L235.0,864.6 L236.0,861.5 L237.0,858.6 L238.0,856.1 L239.0,853.9 L240.0,852.0 L241.0,850.5 L242.0,849.4 L243.0,848.7 L244.0,848.4 L245.0,848.5 L246.0,848.9 L247.0,849.6 L248.0,850.7 L249.0,852.1 L250.0,853.8 L251.0,855.8 L252.0,858.0 L253.0,860.5 L254.0,863.2 L255.0,866.0 L256.0,869.0 L257.0,872.1 L258.0,875.3 L259.0,878.5 L260.0,881.7 L261.0,884.9 L262.0,888.0 L263.0,891.0 L264.0,893.8 L265.0,896.5 L266.0,899.0 L267.0,901.2 L268.0,903.2 L269.0,904.9 L270.0,906.3 L271.0,907.4 L272.0,908.1 L273.0,908.5 L274.0,908.6 L275.0,908.3 L276.0,907.7 L277.0,906.7 L278.0,905.4 L279.0,903.7 L280.0,901.8 L281.0,899.6 L282.0,897.1 L283.0,894.4 L284.0,891.5 L285.0,888.4 L286.0,885.1 L287.0,881.8 L288.0,878.4 L289.0,875.0 L290.0,871.5 L291.0,868.1 L292.0,864.8 L293.0,861.6 L294.0,858.6 L295.0,855.7 L296.0,853.0 L297.0,850.6 L298.0,848.4 L299.0,846.5 L300.0,844.9 L301.0,843.7 L302.0,842.8 L303.0,842.2 L304.0,842.0 L305.0,842.1 L306.0,842.7 L307.0,843.5 L308.0,844.7 L309.0,846.3 L310.0,848.2 L311.0,850.4 L312.0,852.9 L313.0,855.7 L314.0,858.7 L315.0,861.9 L316.0,865.4 L317.0,869.0 L318.0,872.8 L319.0,876.6 L320.0,880.6 L321.0,884.6 L322.0,888.6 L323.0,892.6 L324.0,896.6 L325.0,900.4 L326.0,904.2 L327.0,907.8 L328.0,911.2 L329.0,914.4 L330.0,917.4 L331.0,920.2 L332.0,922.6 L333.0,924.8 L334.0,926.7 L335.0,928.2 L336.0,929.4 L337.0,930.2 L338.0,930.7 L339.0,930.8 L340.0,930.6 L341.0,930.1 L342.0,929.3 L343.0,928.2 L344.0,926.9 L345.0,925.4 L346.0,923.6 L347.0,921.8 L348.0,919.8 L349.0,917.7 L350.0,915.7 L351.0,913.6 L352.0,911.6 L353.0,909.7 L354.0,908.0 L355.0,906.4 L356.0,905.0 L357.0,903.9 L358.0,903.1 L359.0,902.5 L360.0,902.2 L361.0,902.3 L362.0,902.7 L363.0,903.5 L364.0,904.7 L365.0,906.3 L366.0,908.2 L367.0,910.5 L368.0,913.2 L369.0,916.1 L370.0,919.3 L371.0,922.8 L372.0,926.6 L373.0,930.6 L374.0,934.8 L375.0,939.1 L376.0,943.6 L377.0,948.2 L378.0,952.9 L379.0,957.7 L380.0,962.4 L381.0,967.1 L382.0,971.8 L383.0,976.4 L384.0,980.8 L385.0,985.2 L386.0,989.3 L387.0,993.3 L388.0,997.0 L389.0,1000.4 L390.0,1003.6 L391.0,1006.5 L392.0,1009.1 L393.0,1011.3 L394.0,1013.1 L395.0,1014.6 L396.0,1015.8 L397.0,1016.5 L398.0,1016.9 L399.0,1016.9 L400.0,1016.6 L401.0,1016.1 L402.0,1015.3 L403.0,1014.4 L404.0,1013.2 L405.0,1011.9 L406.0,1010.5 L407.0,1009.0 L408.0,1007.4 L409.0,1005.8 L410.0,1004.2 L411.0,1002.6 L412.0,1001.1 L413.0,999.8 L414.0,998.6 L415.0,997.6 L416.0,996.9 L417.0,996.3 L418.0,996.0 L419.0,995.9 L420.0,996.1 L421.0,996.7 L422.0,997.6 L423.0,998.7 L424.0,1000.2 L425.0,1002.0 L426.0,1004.0 L427.0,1006.3 L428.0,1008.8 L429.0,1011.5 L430.0,1014.4 L431.0,1017.4 L432.0,1020.6 L433.0,1023.9 L434.0,1027.2 L435.0,1030.6 L436.0,1033.9 L437.0,1037.3 L438.0,1040.6 L439.0,1043.7 L440.0,1046.8 L441.0,1049.7 L442.0,1052.5 L443.0,1055.0 L444.0,1057.4 L445.0,1059.5 L446.0,1061.3 L447.0,1062.8 L448.0,1064.0 L449.0,1065.0 L450.0,1065.6 L451.0,1065.9 L452.0,1065.9 L453.0,1065.5 L454.0,1065.0 L455.0,1064.1 L456.0,1063.0 L457.0,1061.7 L458.0,1060.1 L459.0,1058.3 L460.0,1056.3 L461.0,1054.2 L462.0,1051.9 L463.0,1049.5 L464.0,1047.0 L465.0,1044.4 L466.0,1041.8 L467.0,1039.2 L468.0,1036.6 L469.0,1034.0 L470.0,1031.5 L471.0,1029.2 L472.0,1026.9 L473.0,1024.8 L474.0,1022.9 L475.0,1021.2 L476.0,1019.7 L477.0,1018.5 L478.0,1017.5 L479.0,1016.8 L480.0,1016.3 L481.0,1016.1 L482.0,1016.2 L483.0,1016.5 L484.0,1017.0 L485.0,1017.7 L486.0,1018.7 L487.0,1019.8 L488.0,1021.2 L489.0,1022.7 L490.0,1024.3 L491.0,1026.1 L492.0,1028.0 L493.0,1030.0 L494.0,1032.0 L495.0,1034.1 L496.0,1036.2 L497.0,1038.3 L498.0,1040.4 L499.0,1042.4 L500.0,1044.4 L501.0,1046.2 L502.0,1047.9 L503.0,1049.5 L504.0,1050.9 L505.0,1052.1 L506.0,1053.1 L507.0,1053.9 L508.0,1054.5 L509.0,1054.9 L510.0,1055.1 L511.0,1055.0 L512.0,1054.8 L513.0,1054.3 L514.0,1053.6 L515.0,1052.7 L516.0,1051.6 L517.0,1050.4 L518.0,1049.0 L519.0,1047.4 L520.0,1045.7 L521.0,1043.8 L522.0,1041.9 L523.0,1039.8 L524.0,1037.7 L525.0,1035.5 L526.0,1033.3 L527.0,1031.0 L528.0,1028.8 L529.0,1026.5 L530.0,1024.3 L531.0,1022.2 L532.0,1020.1 L533.0,1018.2 L534.0,1016.3 L535.0,1014.6 L536.0,1013.0 L537.0,1011.5 L538.0,1010.3 L539.0,1009.2 L540.0,1008.3 L541.0,1007.6 L542.0,1007.1 L543.0,1006.8 L544.0,1006.7 L545.0,1006.8 L546.0,1007.2 L547.0,1007.7 L548.0,1008.5 L549.0,1009.4 L550.0,1010.6 L551.0,1011.9 L552.0,1013.4 L553.0,1015.0 L554.0,1016.8 L555.0,1018.7 L556.0,1020.8 L557.0,1022.9 L558.0,1025.0 L559.0,1027.3 L560.0,1029.5 L561.0,1031.8 L562.0,1034.1 L563.0,1036.3 L564.0,1038.5 L565.0,1040.6 L566.0,1042.7 L567.0,1044.6 L568.0,1046.4 L569.0,1048.1 L570.0,1049.6 L571.0,1051.0 L572.0,1052.2 L573.0,1053.1 L574.0,1053.9 L575.0,1054.5 L576.0,1054.9 L577.0,1055.1 L578.0,1055.0 L579.0,1054.7 L580.0,1054.2 L581.0,1053.4 L582.0,1052.4 L583.0,1051.2 L584.0,1049.7 L585.0,1048.0 L586.0,1046.2 L587.0,1044.2 L588.0,1042.0 L589.0,1039.7 L590.0,1037.3 L591.0,1034.8 L592.0,1032.3 L593.0,1029.7 L594.0,1027.0 L595.0,1024.4 L596.0,1021.8 L597.0,1019.2 L598.0,1016.7 L599.0,1014.3 L600.0,1012.0 L601.0,1009.9 L602.0,1007.9 L603.0,1006.1 L604.0,1004.4 L605.0,1003.0 L606.0,1001.8 L607.0,1000.8 L608.0,1000.0 L609.0,999.5 L610.0,999.2 L611.0,999.2 L612.0,999.5 L613.0,1000.0 L614.0,1000.8 L615.0,1001.9 L616.0,1003.3 L617.0,1004.8 L618.0,1006.6 L619.0,1008.6 L620.0,1010.8 L621.0,1013.1 L622.0,1015.5 L623.0,1018.1 L624.0,1020.6 L625.0,1023.3 L626.0,1025.9 L627.0,1028.5 L628.0,1031.0 L629.0,1033.5 L630.0,1035.8 L631.0,1038.0 L632.0,1040.0 L633.0,1041.8 L634.0,1043.4 L635.0,1044.8 L636.0,1045.9 L637.0,1046.7 L638.0,1047.3 L639.0,1047.6 L640.0,1047.6 L641.0,1047.2 L642.0,1046.4 L643.0,1045.3 L644.0,1043.8 L645.0,1041.9 L646.0,1039.7 L647.0,1037.2 L648.0,1034.4 L649.0,1031.3 L650.0,1027.9 L651.0,1024.2 L652.0,1020.4 L653.0,1016.3 L654.0,1012.1 L655.0,1007.8 L656.0,1003.3 L657.0,998.7 L658.0,994.2 L659.0,989.5 L660.0,985.0 L661.0,980.4 L662.0,975.9 L663.0,971.6 L664.0,967.4 L665.0,963.3 L666.0,959.5 L667.0,955.8 L668.0,952.4 L669.0,949.3 L670.0,946.5 L671.0,944.0 L672.0,941.8 L673.0,939.9 L674.0,938.4 L675.0,937.3 L676.0,936.5 L677.0,936.1 L678.0,936.1 L679.0,936.5 L680.0,937.1 L681.0,938.1 L682.0,939.4 L683.0,940.9 L684.0,942.7 L685.0,944.8 L686.0,947.0 L687.0,949.4 L688.0,951.9 L689.0,954.5 L690.0,957.1 L691.0,959.8 L692.0,962.4 L693.0,964.9 L694.0,967.3 L695.0,969.5 L696.0,971.6 L697.0,973.4 L698.0,974.9 L699.0,976.2 L700.0,977.2 L701.0,977.8 L702.0,978.2 L703.0,978.1 L704.0,977.7 L705.0,976.9 L706.0,975.7 L707.0,974.0 L708.0,972.0 L709.0,969.6 L710.0,966.8 L711.0,963.7 L712.0,960.3 L713.0,956.6 L714.0,952.6 L715.0,948.4 L716.0,943.9 L717.0,939.3 L718.0,934.5 L719.0,929.6 L720.0,924.6 L721.0,919.6 L722.0,914.5 L723.0,909.4 L724.0,904.4 L725.0,899.4 L726.0,894.6 L727.0,889.9 L728.0,885.4 L729.0,881.1 L730.0,877.1 L731.0,873.3 L732.0,869.8 L733.0,866.6 L734.0,863.7 L735.0,861.2 L736.0,859.0 L737.0,857.3 L738.0,855.9 L739.0,855.0 L740.0,854.4 L741.0,854.3 L742.0,854.6 L743.0,855.2 L744.0,856.2 L745.0,857.5 L746.0,859.1 L747.0,861.0 L748.0,863.3 L749.0,865.7 L750.0,868.4 L751.0,871.3 L752.0,874.3 L753.0,877.4 L754.0,880.6 L755.0,883.7 L756.0,886.9 L757.0,890.0 L758.0,893.0 L759.0,895.9 L760.0,898.6 L761.0,901.0 L762.0,903.3 L763.0,905.2 L764.0,906.8 L765.0,908.1 L766.0,909.1 L767.0,909.7 L768.0,910.0 L769.0,909.9 L770.0,909.4 L771.0,908.6 L772.0,907.5 L773.0,906.1 L774.0,904.3 L775.0,902.2 L776.0,899.9 L777.0,897.3 L778.0,894.4 L779.0,891.4 L780.0,888.1 L781.0,884.7 L782.0,881.2 L783.0,877.6 L784.0,873.9 L785.0,870.2 L786.0,866.5 L787.0,862.9 L788.0,859.3 L789.0,855.8 L790.0,852.4 L791.0,849.2 L792.0,846.2 L793.0,843.4 L794.0,840.8 L795.0,838.6 L796.0,836.5 L797.0,834.8 L798.0,833.4 L799.0,832.4 L800.0,831.6 L801.0,831.3 L802.0,831.2 L803.0,831.5 L804.0,832.1 L805.0,833.1 L806.0,834.3 L807.0,835.9 L808.0,837.7 L809.0,839.8 L810.0,842.2 L811.0,844.8 L812.0,847.6 L813.0,850.6 L814.0,853.7 L815.0,857.0 L816.0,860.4 L817.0,863.8 L818.0,867.3 L819.0,870.8 L820.0,874.2 L821.0,877.6 L822.0,881.0 L823.0,884.2 L824.0,887.2 L825.0,890.1 L826.0,892.8 L827.0,895.3 L828.0,897.5 L829.0,899.5 L830.0,901.2 L831.0,902.6 L832.0,903.7 L833.0,904.5 L834.0,905.0 L835.0,905.1 L836.0,904.9 L837.0,904.5 L838.0,903.8 L839.0,902.8 L840.0,901.6 L841.0,900.1 L842.0,898.4 L843.0,896.6 L844.0,894.6 L845.0,892.4 L846.0,890.2 L847.0,887.8 L848.0,885.4 L849.0,883.0 L850.0,880.7 L851.0,878.4 L852.0,876.1 L853.0,874.0 L854.0,872.0 L855.0,870.2 L856.0,868.6 L857.0,867.2 L858.0,866.1 L859.0,865.2 L860.0,864.6 L861.0,864.2 L862.0,864.1 L863.0,864.3 L864.0,864.9 L865.0,865.7 L866.0,866.9 L867.0,868.3 L868.0,870.0 L869.0,872.0 L870.0,874.3 L871.0,876.8 L872.0,879.6 L873.0,882.5 L874.0,885.6 L875.0,888.9 L876.0,892.3 L877.0,895.9 L878.0,899.5 L879.0,903.2 L880.0,907.0 L881.0,910.7 L882.0,914.4 L883.0,918.1 L884.0,921.8 L885.0,925.3 L886.0,928.7 L887.0,932.0 L888.0,935.1 L889.0,938.0 L890.0,940.7 L891.0,943.2 L892.0,945.5 L893.0,947.4 L894.0,949.2 L895.0,950.6 L896.0,951.7 L897.0,952.5 L898.0,953.0 L899.0,953.2 L900.0,953.1 L901.0,952.8 L902.0,952.3 L903.0,951.6 L904.0,950.7 L905.0,949.7 L906.0,948.5 L907.0,947.2 L908.0,945.8 L909.0,944.3 L910.0,942.7 L911.0,941.2 L912.0,939.7 L913.0,938.2 L914.0,936.8 L915.0,935.5 L916.0,934.3 L917.0,933.3 L918.0,932.4 L919.0,931.7 L920.0,931.2 L921.0,931.0 L922.0,930.9 L923.0,931.1 L924.0,931.6 L925.0,932.3 L926.0,933.4 L927.0,934.7 L928.0,936.2 L929.0,938.0 L930.0,940.1 L931.0,942.3 L932.0,944.8 L933.0,947.5 L934.0,950.3 L935.0,953.3 L936.0,956.4 L937.0,959.7 L938.0,963.0 L939.0,966.4 L940.0,969.9 L941.0,973.4 L942.0,976.9 L943.0,980.4 L944.0,983.9 L945.0,987.3 L946.0,990.6 L947.0,993.8 L948.0,996.9 L949.0,999.9 L950.0,1002.7 L951.0,1005.3 L952.0,1007.7 L953.0,1009.9 L954.0,1011.8 L955.0,1013.6 L956.0,1015.1 L957.0,1016.3 L958.0,1017.2 L959.0,1017.9 L960.0,1018.3 L961.0,1018.4 L962.0,1018.3 L963.0,1018.0 L964.0,1017.6 L965.0,1017.0 L966.0,1016.2 L967.0,1015.3 L968.0,1014.3 L969.0,1013.2 L970.0,1012.0 L971.0,1010.8 L972.0,1009.6 L973.0,1008.3 L974.0,1007.1 L975.0,1006.0 L976.0,1004.9 L977.0,1003.9 L978.0,1003.0 L979.0,1002.3 L980.0,1001.7 L981.0,1001.3 L982.0,1001.0 L983.0,1000.9 L984.0,1001.0 L985.0,1001.4 L986.0,1002.0 L987.0,1002.9 L988.0,1004.0 L989.0,1005.3 L990.0,1006.9 L991.0,1008.6 L992.0,1010.6 L993.0,1012.7 L994.0,1015.0 L995.0,1017.5 L996.0,1020.1 L997.0,1022.8 L998.0,1025.6 L999.0,1028.4 L1000.0,1031.4 L1001.0,1034.3 L1002.0,1037.3 L1003.0,1040.2 L1004.0,1043.2 L1005.0,1046.0 L1006.0,1048.8 L1007.0,1051.5 L1008.0,1054.1 L1009.0,1056.6 L1010.0,1058.9 L1011.0,1061.0 L1012.0,1063.0 L1013.0,1064.7 L1014.0,1066.3 L1015.0,1067.6 L1016.0,1068.7 L1017.0,1069.6 L1018.0,1070.2 L1019.0,1070.6 L1020.0,1070.7 L1021.0,1070.6 L1022.0,1070.3 L1023.0,1069.8 L1024.0,1069.1 L1025.0,1068.3 L1026.0,1067.3 L1027.0,1066.1 L1028.0,1064.9 L1029.0,1063.5 L1030.0,1062.0 L1031.0,1060.5 L1032.0,1059.0 L1033.0,1057.4 L1034.0,1055.9 L1035.0,1054.4 L1036.0,1053.0 L1037.0,1051.7 L1038.0,1050.5 L1039.0,1049.5 L1040.0,1048.6 L1041.0,1047.9 L1042.0,1047.3 L1043.0,1047.0 L1044.0,1046.8 L1045.0,1046.9 L1046.0,1047.1 L1047.0,1047.7 L1048.0,1048.4 L1049.0,1049.4 L1050.0,1050.6 L1051.0,1052.0 L1052.0,1053.7 L1053.0,1055.4 L1054.0,1057.4 L1055.0,1059.5 L1056.0,1061.7 L1057.0,1064.1 L1058.0,1066.5 L1059.0,1068.9 L1060.0,1071.5 L1061.0,1074.0 L1062.0,1076.5 L1063.0,1079.1 L1064.0,1081.5 L1065.0,1083.9 L1066.0,1086.2 L1067.0,1088.4 L1068.0,1090.4 L1069.0,1092.3 L1070.0,1094.0 L1071.0,1095.5 L1072.0,1096.9 L1073.0,1098.0 L1074.0,1098.9 L1075.0,1099.6 L1076.0,1100.0 L1077.0,1100.2 L1078.0,1100.1 L1079.0,1099.8 L1080.0,1099.3 L1081.0,1098.5 L1082.0,1097.5 L1083.0,1096.2 L1084.0,1094.8 L1085.0,1093.1 L1086.0,1091.3 L1087.0,1089.3 L1088.0,1087.1 L1089.0,1084.9 L1090.0,1082.6 L1091.0,1080.1 L1092.0,1077.7 L1093.0,1075.2 L1094.0,1072.8 L1095.0,1070.4 L1096.0,1068.0 L1097.0,1065.7 L1098.0,1063.6 L1099.0,1061.5 L1100.0,1059.6 L1101.0,1057.9 L1102.0,1056.4 L1103.0,1055.1 L1104.0,1054.0 L1105.0,1053.1 L1106.0,1052.5 L1107.0,1052.1 L1108.0,1052.0 L1109.0,1052.1 L1110.0,1052.5 L1111.0,1053.2 L1112.0,1054.2 L1113.0,1055.3 L1114.0,1056.8 L1115.0,1058.4 L1116.0,1060.3 L1117.0,1062.3 L1118.0,1064.4 L1119.0,1066.7 L1120.0,1069.1 L1121.0,1071.6 L1122.0,1074.2 L1123.0,1076.7 L1124.0,1079.2 L1125.0,1081.7 L1126.0,1084.1 L1127.0,1086.4 L1128.0,1088.6 L1129.0,1090.7 L1130.0,1092.5 L1131.0,1094.2 L1132.0,1095.6 L1133.0,1096.8 L1134.0,1097.8 L1135.0,1098.5 L1136.0,1098.9 L1137.0,1099.1 L1138.0,1099.0 L1139.0,1098.5 L1140.0,1097.6 L1141.0,1096.5 L1142.0,1095.0 L1143.0,1093.2 L1144.0,1091.1 L1145.0,1088.7 L1146.0,1086.1 L1147.0,1083.3 L1148.0,1080.4 L1149.0,1077.2 L1150.0,1074.0 L1151.0,1070.7 L1152.0,1067.4 L1153.0,1064.0 L1154.0,1060.7 L1155.0,1057.5"/>
<path class="c" stroke="#ff0000" stroke-width="1.5" d="M166.0,944.2 L167.0,940.3 L168.0,936.4 L169.0,932.6 L170.0,929.0 L171.0,925.5 L172.0,922.2 L173.0,919.2 L174.0,916.4 L175.0,913.9 L176.0,911.8 L177.0,910.0 L178.0,908.5 L179.0,907.5 L180.0,906.8 L181.0,906.5 L182.0,906.6 L183.0,907.0 L184.0,907.8 L185.0,908.8 L186.0,910.1 L187.0,911.7 L188.0,913.6 L189.0,915.7 L190.0,918.0 L191.0,920.4 L192.0,923.0 L193.0,925.7 L194.0,928.4 L195.0,931.2 L196.0,934.0 L197.0,936.7 L198.0,939.3 L199.0,941.7 L200.0,944.1 L201.0,946.2 L202.0,948.1 L203.0,949.8 L204.0,951.2 L205.0,952.3 L206.0,953.1 L207.0,953.5 L208.0,953.7 L209.0,953.5 L210.0,952.9 L211.0,951.9 L212.0,950.6 L213.0,948.8 L214.0,946.7 L215.0,944.3 L216.0,941.5 L217.0,938.4 L218.0,935.1 L219.0,931.5 L220.0,927.6 L221.0,923.6 L222.0,919.4 L223.0,915.0 L224.0,910.5 L225.0,906.0 L226.0,901.4 L227.0,896.9 L228.0,892.3 L229.0,887.8 L230.0,883.4 L231.0,879.2 L232.0,875.1 L233.0,871.2 L234.0,867.5 L235.0,864.0 L236.0,860.9 L237.0,858.0 L238.0,855.5 L239.0,853.3 L240.0,851.4 L241.0,849.9 L242.0,848.8 L243.0,848.1 L244.0,847.8 L245.0,847.9 L246.0,848.3 L247.0,849.0 L248.0,850.1 L249.0,851.5 L250.0,853.2 L251.0,855.2 L252.0,857.4 L253.0,859.9 L254.0,862.6 L255.0,865.4 L256.0,868.4 L257.0,871.5 L258.0,874.7 L259.0,877.9 L260.0,881.1 L261.0,884.3 L262.0,887.4 L263.0,890.4 L264.0,893.2 L265.0,895.9 L266.0,898.4 L267.0,900.6"/>
<path class="c" stroke="#ff0000" stroke-width="1.5" d="M299.0,845.9 L300.0,844.3 L301.0,843.1 L302.0,842.2 L303.0,841.6 L304.0,841.4 L305.0,841.5 L306.0,842.1 L307.0,842.9 L308.0,844.1 L309.0,845.7 L310.0,847.6 L311.0,849.8 L312.0,852.3 L313.0,855.1 L314.0,858.1 L315.0,861.3 L316.0,864.8 L317.0,868.4 L318.0,872.2 L319.0,876.0 L320.0,880.0 L321.0,884.0 L322.0,888.0 L323.0,892.0 L324.0,896.0 L325.0,899.8 L326.0,903.6 L327.0,907.2 L328.0,910.6 L329.0,913.8 L330.0,916.8 L331.0,919.6 L332.0,922.0 L333.0,924.2 L334.0,926.1 L335.0,927.6 L336.0,928.8 L337.0,929.6 L338.0,930.1 L339.0,930.2 L340.0,930.0 L341.0,929.5 L342.0,928.7 L343.0,927.6 L344.0,926.3 L345.0,924.8 L346.0,923.0 L347.0,921.2 L348.0,919.2 L349.0,917.1 L350.0,915.1 L351.0,913.0 L352.0,911.0 L353.0,909.1 L354.0,907.4 L355.0,905.8 L356.0,904.4 L357.0,903.3 L358.0,902.5 L359.0,901.9 L360.0,901.6 L361.0,901.7 L362.0,902.1 L363.0,902.9 L364.0,904.1 L365.0,905.7 L366.0,907.6 L367.0,909.9 L368.0,912.6 L369.0,915.5 L370.0,918.7 L371.0,922.2 L372.0,926.0 L373.0,930.0 L374.0,934.2 L375.0,938.5 L376.0,943.0"/>
<path class="c" stroke="#ff0000" stroke-width="1.6" d="M729.0,878.9 L730.0,874.9 L731.0,871.1 L732.0,867.6 L733.0,864.4 L734.0,861.5 L735.0,859.0 L736.0,856.8 L737.0,855.1 L738.0,853.7 L739.0,852.8 L740.0,852.2 L741.0,852.1 L742.0,852.4 L743.0,853.0 L744.0,854.0 L745.0,855.3 L746.0,856.9 L747.0,858.8 L748.0,861.1 L749.0,863.5 L750.0,866.2 L751.0,869.1 L752.0,872.1"/>
<path class="c" stroke="#ff0000" stroke-width="1.6" d="M760.0,897.4 L761.0,899.8 L762.0,902.1 L763.0,904.0 L764.0,905.6 L765.0,906.9 L766.0,907.9 L767.0,908.5 L768.0,908.8 L769.0,908.7 L770.0,908.2 L771.0,907.4 L772.0,906.3 L773.0,904.9 L774.0,903.1 L775.0,901.0"/>
<path class="c" stroke="#ff0000" stroke-width="1.6" d="M795.0,837.1 L796.0,835.0 L797.0,833.3 L798.0,831.9 L799.0,830.9 L800.0,830.1 L801.0,829.8 L802.0,829.7 L803.0,830.0 L804.0,830.6 L805.0,831.6 L806.0,832.8 L807.0,834.4 L808.0,836.2"/>
<path class="c" stroke="#ff0000" stroke-width="1.6" d="M1066.0,1084.4 L1067.0,1086.6 L1068.0,1088.6 L1069.0,1090.5 L1070.0,1092.2 L1071.0,1093.7 L1072.0,1095.1 L1073.0,1096.2 L1074.0,1097.1 L1075.0,1097.8 L1076.0,1098.2 L1077.0,1098.4 L1078.0,1098.3 L1079.0,1098.0 L1080.0,1097.5 L1081.0,1096.7 L1082.0,1095.7 L1083.0,1094.4 L1084.0,1093.0 L1085.0,1091.3 L1086.0,1089.5 L1087.0,1087.5 L1088.0,1085.3 L1089.0,1083.1 L1090.0,1080.8"/>
<path class="c" stroke="#ff0000" stroke-width="1.6" d="M1128.0,1086.2 L1129.0,1088.3 L1130.0,1090.1 L1131.0,1091.8 L1132.0,1093.2 L1133.0,1094.4 L1134.0,1095.4 L1135.0,1096.1 L1136.0,1096.5 L1137.0,1096.7 L1138.0,1096.6 L1139.0,1096.1 L1140.0,1095.2 L1141.0,1094.1 L1142.0,1092.6 L1143.0,1090.8 L1144.0,1088.7 L1145.0,1086.3 L1146.0,1083.7 L1147.0,1080.9 L1148.0,1078.0 L1149.0,1074.8 L1150.0,1071.6 L1151.0,1068.3 L1152.0,1065.0 L1153.0,1061.6 L1154.0,1058.3 L1155.0,1055.1"/>
<path class="c" stroke="#ff0000" stroke-width="1.6" d="M972.0,1008.8 L973.0,1007.5 L974.0,1006.3 L975.0,1005.2 L976.0,1004.1 L977.0,1003.1 L978.0,1002.2 L979.0,1001.5 L980.0,1000.9 L981.0,1000.5 L982.0,1000.2 L983.0,1000.1 L984.0,1000.2 L985.0,1000.6 L986.0,1001.2 L987.0,1002.1 L988.0,1003.2 L989.0,1004.5 L990.0,1006.1 L991.0,1007.8"/>
<path class="c" stroke="#00ff00" stroke-width="1.7" d="M544.0,1006.7 L545.0,1006.8 L546.0,1007.2 L547.0,1007.7 L548.0,1008.5 L549.0,1009.4 L550.0,1010.6 L551.0,1011.9 L552.0,1013.4 L553.0,1015.0 L554.0,1016.8 L555.0,1018.7 L556.0,1020.8 L557.0,1022.9 L558.0,1025.0 L559.0,1027.3 L560.0,1029.5 L561.0,1031.8 L562.0,1034.1 L563.0,1036.3 L564.0,1038.5 L565.0,1040.6 L566.0,1042.7 L567.0,1044.6 L568.0,1046.4 L569.0,1048.1 L570.0,1049.6 L571.0,1051.0 L572.0,1052.2 L573.0,1053.1 L574.0,1053.9 L575.0,1054.5 L576.0,1054.9 L577.0,1055.1 L578.0,1055.0 L579.0,1054.7 L580.0,1054.2 L581.0,1053.4 L582.0,1052.4 L583.0,1051.2 L584.0,1049.7 L585.0,1048.0 L586.0,1046.2 L587.0,1044.2 L588.0,1042.0 L589.0,1039.7 L590.0,1037.3 L591.0,1034.8 L592.0,1032.3 L593.0,1029.7 L594.0,1027.0 L595.0,1024.4 L596.0,1021.8 L597.0,1019.2 L598.0,1016.7 L599.0,1014.3 L600.0,1012.0 L601.0,1009.9 L602.0,1007.9 L603.0,1006.1 L604.0,1004.4 L605.0,1003.0 L606.0,1001.8 L607.0,1000.8 L608.0,1000.0 L609.0,999.5 L610.0,999.2 L611.0,999.2 L612.0,999.5 L613.0,1000.0 L614.0,1000.8 L615.0,1001.9 L616.0,1003.3 L617.0,1004.8 L618.0,1006.6 L619.0,1008.6 L620.0,1010.8 L621.0,1013.1 L622.0,1015.5 L623.0,1018.1 L624.0,1020.6 L625.0,1023.3 L626.0,1025.9 L627.0,1028.5 L628.0,1031.0 L629.0,1033.5 L630.0,1035.8 L631.0,1038.0 L632.0,1040.0 L633.0,1041.8 L634.0,1043.4 L635.0,1044.8 L636.0,1045.9 L637.0,1046.7 L638.0,1047.3 L639.0,1047.6 L640.0,1047.6 L641.0,1047.2 L642.0,1046.4 L643.0,1045.3 L644.0,1043.8 L645.0,1041.9 L646.0,1039.7 L647.0,1037.2 L648.0,1034.4 L649.0,1031.3 L650.0,1027.9 L651.0,1024.2 L652.0,1020.4 L653.0,1016.3 L654.0,1012.1 L655.0,1007.8 L656.0,1003.3 L657.0,998.7 L658.0,994.2 L659.0,989.5 L660.0,985.0 L661.0,980.4 L662.0,975.9 L663.0,971.6 L664.0,967.4 L665.0,963.3 L666.0,959.5 L667.0,955.8 L668.0,952.4 L669.0,949.3 L670.0,946.5 L671.0,944.0 L672.0,941.8 L673.0,939.9 L674.0,938.4 L675.0,937.3 L676.0,936.5 L677.0,936.1 L678.0,936.1 L679.0,936.5 L680.0,937.1 L681.0,938.1 L682.0,939.4 L683.0,940.9 L684.0,942.7 L685.0,944.8 L686.0,947.0 L687.0,949.4 L688.0,951.9 L689.0,954.5 L690.0,957.1 L691.0,959.8 L692.0,962.4 L693.0,964.9 L694.0,967.3 L695.0,969.5 L696.0,971.6 L697.0,973.4 L698.0,974.9 L699.0,976.2 L700.0,977.2 L701.0,977.8 L702.0,978.2 L703.0,978.1 L704.0,977.7 L705.0,976.9 L706.0,975.7 L707.0,974.0 L708.0,972.0 L709.0,969.6 L710.0,966.8 L711.0,963.7 L712.0,960.3 L713.0,956.6 L714.0,952.6 L715.0,948.4 L716.0,943.9 L717.0,939.3 L718.0,934.5 L719.0,929.6 L720.0,924.6 L721.0,919.6 L722.0,914.5 L723.0,909.4 L724.0,904.4 L725.0,899.4 L726.0,894.6 L727.0,889.9 L728.0,885.4 L729.0,881.1 L730.0,877.1 L731.0,873.3 L732.0,869.8 L733.0,866.6 L734.0,863.7 L735.0,861.2 L736.0,859.0 L737.0,857.3 L738.0,855.9 L739.0,855.0 L740.0,854.4 L741.0,854.3 L742.0,854.6 L743.0,855.2 L744.0,856.2 L745.0,857.5 L746.0,859.1 L747.0,861.0 L748.0,863.3 L749.0,865.7 L750.0,868.4 L751.0,871.3 L752.0,874.3 L753.0,877.4 L754.0,880.6 L755.0,883.7 L756.0,886.9 L757.0,890.0 L758.0,893.0 L759.0,895.9 L760.0,898.6 L761.0,901.0 L762.0,903.3 L763.0,905.2 L764.0,906.8 L765.0,908.1 L766.0,909.1 L767.0,909.7 L768.0,910.0 L769.0,909.9 L770.0,909.4 L771.0,908.6 L772.0,907.5 L773.0,906.1 L774.0,904.3 L775.0,902.2 L776.0,899.9 L777.0,897.3 L778.0,894.4 L779.0,891.4 L780.0,888.1 L781.0,884.7 L782.0,881.2 L783.0,877.6 L784.0,873.9 L785.0,870.2 L786.0,866.5 L787.0,862.9 L788.0,859.3 L789.0,855.8 L790.0,852.4 L791.0,849.2 L792.0,846.2 L793.0,843.4 L794.0,840.8 L795.0,838.6 L796.0,836.5 L797.0,834.8 L798.0,833.4 L799.0,832.4 L800.0,831.6 L801.0,831.3 L802.0,831.2 L803.0,831.5 L804.0,832.1 L805.0,833.1 L806.0,834.3 L807.0,835.9 L808.0,837.7 L809.0,839.8 L810.0,842.2 L811.0,844.8 L812.0,847.6 L813.0,850.6 L814.0,853.7 L815.0,857.0 L816.0,860.4 L817.0,863.8 L818.0,867.3 L819.0,870.8 L820.0,874.2 L821.0,877.6 L822.0,881.0 L823.0,884.2 L824.0,887.2 L825.0,890.1 L826.0,892.8 L827.0,895.3 L828.0,897.5 L829.0,899.5 L830.0,901.2 L831.0,902.6 L832.0,903.7 L833.0,904.5 L834.0,905.0 L835.0,905.1 L836.0,904.9 L837.0,904.5 L838.0,903.8 L839.0,902.8 L840.0,901.6 L841.0,900.1 L842.0,898.4 L843.0,896.6 L844.0,894.6 L845.0,892.4 L846.0,890.2 L847.0,887.8 L848.0,885.4 L849.0,883.0 L850.0,880.7 L851.0,878.4 L852.0,876.1 L853.0,874.0 L854.0,872.0 L855.0,870.2 L856.0,868.6 L857.0,867.2 L858.0,866.1 L859.0,865.2 L860.0,864.6 L861.0,864.2 L862.0,864.1 L863.0,864.3 L864.0,864.9 L865.0,865.7 L866.0,866.9 L867.0,868.3 L868.0,870.0 L869.0,872.0 L870.0,874.3 L871.0,876.8 L872.0,879.6 L873.0,882.5 L874.0,885.6 L875.0,888.9 L876.0,892.3 L877.0,895.9 L878.0,899.5 L879.0,903.2 L880.0,907.0 L881.0,910.7 L882.0,914.4 L883.0,918.1 L884.0,921.8 L885.0,925.3 L886.0,928.7 L887.0,932.0 L888.0,935.1 L889.0,938.0 L890.0,940.7 L891.0,943.2 L892.0,945.5 L893.0,947.4 L894.0,949.2 L895.0,950.6 L896.0,951.7 L897.0,952.5 L898.0,953.0 L899.0,953.2 L900.0,953.1 L901.0,952.8 L902.0,952.3 L903.0,951.6 L904.0,950.7 L905.0,949.7 L906.0,948.5 L907.0,947.2 L908.0,945.8 L909.0,944.3 L910.0,942.7 L911.0,941.2 L912.0,939.7 L913.0,938.2 L914.0,936.8 L915.0,935.5 L916.0,934.3 L917.0,933.3 L918.0,932.4 L919.0,931.7 L920.0,931.2 L921.0,931.0 L922.0,930.9 L923.0,931.1 L924.0,931.6 L925.0,932.3 L926.0,933.4 L927.0,934.7 L928.0,936.2 L929.0,938.0 L930.0,940.1 L931.0,942.3 L932.0,944.8 L933.0,947.5 L934.0,950.3 L935.0,953.3 L936.0,956.4 L937.0,959.7 L938.0,963.0 L939.0,966.4 L940.0,969.9 L941.0,973.4 L942.0,976.9 L943.0,980.4 L944.0,983.9 L945.0,987.3 L946.0,990.6 L947.0,993.8 L948.0,996.9 L949.0,999.9 L950.0,1002.7 L951.0,1005.3 L952.0,1007.7 L953.0,1009.9 L954.0,1011.8 L955.0,1013.6 L956.0,1015.1 L957.0,1016.3 L958.0,1017.2 L959.0,1017.9 L960.0,1018.3 L961.0,1018.4 L962.0,1018.3 L963.0,1018.0 L964.0,1017.6 L965.0,1017.0 L966.0,1016.2 L967.0,1015.3 L968.0,1014.3 L969.0,1013.2 L970.0,1012.0 L971.0,1010.8 L972.0,1009.6 L973.0,1008.3 L974.0,1007.1 L975.0,1006.0 L976.0,1004.9 L977.0,1003.9 L978.0,1003.0 L979.0,1002.3 L980.0,1001.7 L981.0,1001.3 L982.0,1001.0 L983.0,1000.9 L984.0,1001.0 L985.0,1001.4 L986.0,1002.0 L987.0,1002.9 L988.0,1004.0 L989.0,1005.3 L990.0,1006.9 L991.0,1008.6 L992.0,1010.6 L993.0,1012.7 L994.0,1015.0 L995.0,1017.5 L996.0,1020.1 L997.0,1022.8 L998.0,1025.6 L999.0,1028.4 L1000.0,1031.4 L1001.0,1034.3 L1002.0,1037.3 L1003.0,1040.2 L1004.0,1043.2 L1005.0,1046.0 L1006.0,1048.8 L1007.0,1051.5 L1008.0,1054.1 L1009.0,1056.6 L1010.0,1058.9 L1011.0,1061.0 L1012.0,1063.0 L1013.0,1064.7 L1014.0,1066.3 L1015.0,1067.6 L1016.0,1068.7 L1017.0,1069.6 L1018.0,1070.2 L1019.0,1070.6 L1020.0,1070.7 L1021.0,1070.6 L1022.0,1070.3 L1023.0,1069.8 L1024.0,1069.1 L1025.0,1068.3 L1026.0,1067.3 L1027.0,1066.1 L1028.0,1064.9 L1029.0,1063.5 L1030.0,1062.0 L1031.0,1060.5 L1032.0,1059.0 L1033.0,1057.4 L1034.0,1055.9 L1035.0,1054.4 L1036.0,1053.0 L1037.0,1051.7 L1038.0,1050.5 L1039.0,1049.5 L1040.0,1048.6 L1041.0,1047.9 L1042.0,1047.3 L1043.0,1047.0 L1044.0,1046.8 L1045.0,1046.9 L1046.0,1047.1 L1047.0,1047.7 L1048.0,1048.4 L1049.0,1049.4 L1050.0,1050.6 L1051.0,1052.0 L1052.0,1053.7 L1053.0,1055.4 L1054.0,1057.4 L1055.0,1059.5 L1056.0,1061.7 L1057.0,1064.1 L1058.0,1066.5 L1059.0,1068.9 L1060.0,1071.5 L1061.0,1074.0 L1062.0,1076.5 L1063.0,1079.1 L1064.0,1081.5 L1065.0,1083.9 L1066.0,1086.2 L1067.0,1088.4 L1068.0,1090.4 L1069.0,1092.3 L1070.0,1094.0 L1071.0,1095.5 L1072.0,1096.9 L1073.0,1098.0 L1074.0,1098.9 L1075.0,1099.6 L1076.0,1100.0 L1077.0,1100.2 L1078.0,1100.1 L1079.0,1099.8 L1080.0,1099.3 L1081.0,1098.5 L1082.0,1097.5 L1083.0,1096.2 L1084.0,1094.8 L1085.0,1093.1 L1086.0,1091.3 L1087.0,1089.3 L1088.0,1087.1 L1089.0,1084.9 L1090.0,1082.6 L1091.0,1080.1 L1092.0,1077.7 L1093.0,1075.2 L1094.0,1072.8 L1095.0,1070.4 L1096.0,1068.0 L1097.0,1065.7 L1098.0,1063.6 L1099.0,1061.5 L1100.0,1059.6 L1101.0,1057.9 L1102.0,1056.4 L1103.0,1055.1 L1104.0,1054.0 L1105.0,1053.1 L1106.0,1052.5 L1107.0,1052.1 L1108.0,1052.0 L1109.0,1052.1 L1110.0,1052.5 L1111.0,1053.2 L1112.0,1054.2 L1113.0,1055.3 L1114.0,1056.8 L1115.0,1058.4 L1116.0,1060.3 L1117.0,1062.3 L1118.0,1064.4 L1119.0,1066.7 L1120.0,1069.1 L1121.0,1071.6 L1122.0,1074.2 L1123.0,1076.7 L1124.0,1079.2 L1125.0,1081.7 L1126.0,1084.1 L1127.0,1086.4 L1128.0,1088.6 L1129.0,1090.7 L1130.0,1092.5 L1131.0,1094.2 L1132.0,1095.6 L1133.0,1096.8 L1134.0,1097.8 L1135.0,1098.5 L1136.0,1098.9 L1137.0,1099.1 L1138.0,1099.0 L1139.0,1098.5 L1140.0,1097.6 L1141.0,1096.5 L1142.0,1095.0 L1143.0,1093.2 L1144.0,1091.1 L1145.0,1088.7 L1146.0,1086.1 L1147.0,1083.3 L1148.0,1080.4 L1149.0,1077.2 L1150.0,1074.0 L1151.0,1070.7 L1152.0,1067.4 L1153.0,1064.0 L1154.0,1060.7 L1155.0,1057.5"/>
</g>
<text x="91.1" y="803.9" font-size="22.47" textLength="65.4" lengthAdjust="spacingAndGlyphs">30000</text>
<text x="90.7" y="864.9" font-size="22.47" textLength="65.8" lengthAdjust="spacingAndGlyphs">20000</text>
<text x="90.9" y="926.9" font-size="22.47" textLength="65.6" lengthAdjust="spacingAndGlyphs">10000</text>
<text x="144.9" y="988.9" font-size="22.47" textLength="11.5" lengthAdjust="spacingAndGlyphs">0</text>
<text x="82.7" y="1050.9" font-size="22.47" textLength="73.8" lengthAdjust="spacingAndGlyphs">-10000</text>
<text x="82.7" y="1112.9" font-size="22.47" textLength="73.8" lengthAdjust="spacingAndGlyphs">-20000</text>
<g transform="translate(44.5,952.3) rotate(-90)"><text x="-87.0" y="0.0" font-size="18.75" textLength="39.3" lengthAdjust="spacingAndGlyphs" class="b" stroke="#262626" stroke-width="0.67" stroke-linejoin="round">CRF</text><text x="-39.6" y="0.0" font-size="18.75" textLength="126.7" lengthAdjust="spacingAndGlyphs" class="b" stroke="#262626" stroke-width="0.67" stroke-linejoin="round">Coordinates</text></g>
<g transform="translate(70.3,952.8) rotate(-90)"><text x="-38.1" y="0.0" font-size="18.75" textLength="26.6" lengthAdjust="spacingAndGlyphs" class="b" stroke="#262626" stroke-width="0.67" stroke-linejoin="round">BZ</text><text x="-3.6" y="0.0" font-size="18.75" textLength="41.6" lengthAdjust="spacingAndGlyphs" class="b" stroke="#262626" stroke-width="0.67" stroke-linejoin="round">(nT)</text></g>
<g transform="translate(1176.2,1020.3) rotate(-90)"><text x="0.5" y="0.0" font-size="16.67" textLength="71.9" lengthAdjust="spacingAndGlyphs" class="b" fill="#000" stroke="#000" stroke-width="0.60" stroke-linejoin="round">Inboard</text><text x="79.5" y="0.0" font-size="16.67" textLength="11.1" lengthAdjust="spacingAndGlyphs" class="b" fill="#000" stroke="#000" stroke-width="0.60" stroke-linejoin="round">B</text></g>
<g transform="translate(1196.2,1019.6) rotate(-90)"><text x="0.3" y="0.0" font-size="16.67" textLength="88.1" lengthAdjust="spacingAndGlyphs" class="b" fill="#000" stroke="#000" stroke-width="0.60" stroke-linejoin="round">Outboard</text><text x="95.4" y="0.0" font-size="16.67" textLength="11.1" lengthAdjust="spacingAndGlyphs" class="b" fill="#000" stroke="#000" stroke-width="0.60" stroke-linejoin="round">B</text></g>
<g transform="translate(1215.4,1020.3) rotate(-90)"><text x="0.5" y="0.0" font-size="16.67" textLength="56.1" lengthAdjust="spacingAndGlyphs" class="b" fill="#000" stroke="#000" stroke-width="0.60" stroke-linejoin="round">Model</text><text x="63.6" y="0.0" font-size="16.67" textLength="11.1" lengthAdjust="spacingAndGlyphs" class="b" fill="#000" stroke="#000" stroke-width="0.60" stroke-linejoin="round">B</text></g>
<path d="M1171.5,1047.3V1064.8" stroke="#0000ff" stroke-width="2.2"/>
<path d="M1191,1047.3V1064.8" stroke="#00ff00" stroke-width="2.2"/>
<path d="M1211,1047.3V1064.8" stroke="#ff0000" stroke-width="2.2"/>
</g>
<g id="panel4">
<g stroke="#262626" stroke-width="1" fill="none" shape-rendering="crispEdges"><rect x="165.5" y="1142.5" width="989.0" height="310.0"/><path d="M412.5,1142.5v10M412.5,1452.5v-10M660.5,1142.5v10M660.5,1452.5v-10M907.5,1142.5v10M907.5,1452.5v-10M165.5,1204.5h10.5M165.5,1266.5h10.5M165.5,1328.5h10.5M165.5,1390.5h10.5"/></g>
<path d="M165,1162.0h1V1449.0h-1zM196,1162.0h1V1449.0h-1zM198,1162.0h1V1449.0h-1zM202,1162.0h32V1449.0h-32zM267,1162.0h32V1449.0h-32zM334,1162.0h30V1449.0h-30zM398,1162.0h32V1449.0h-32zM463,1162.0h33V1449.0h-33zM528,1162.0h40V1449.0h-40zM594,1162.0h42V1449.0h-42zM637,1162.0h1V1449.0h-1zM661,1162.0h33V1449.0h-33zM696,1162.0h13V1449.0h-13zM729,1162.0h28V1449.0h-28zM760,1162.0h3V1449.0h-3zM766,1162.0h1V1449.0h-1zM768,1162.0h1V1449.0h-1zM775,1162.0h4V1449.0h-4zM797,1162.0h27V1449.0h-27zM830,1162.0h3V1449.0h-3zM837,1162.0h12V1449.0h-12zM864,1162.0h27V1449.0h-27zM901,1162.0h1V1449.0h-1zM903,1162.0h1V1449.0h-1zM907,1162.0h13V1449.0h-13zM931,1162.0h33V1449.0h-33zM971,1162.0h1V1449.0h-1zM973,1162.0h1V1449.0h-1zM977,1162.0h14V1449.0h-14zM995,1162.0h27V1449.0h-27zM1042,1162.0h3V1449.0h-3zM1048,1162.0h1V1449.0h-1zM1050,1162.0h1V1449.0h-1zM1054,1162.0h7V1449.0h-7zM1062,1162.0h29V1449.0h-29zM1112,1162.0h4V1449.0h-4zM1119,1162.0h5V1449.0h-5zM1127,1162.0h27V1449.0h-27z" fill="#ffb3ff" shape-rendering="crispEdges"/>
<g clip-path="url(#cp3)">
<path class="c" stroke="#0000ff" stroke-width="1.8" d="M165.0,1209.3 L166.0,1208.9 L167.0,1208.4 L168.0,1208.0 L169.0,1207.6 L170.0,1207.2 L171.0,1206.7 L172.0,1206.3 L173.0,1205.9 L174.0,1205.5 L175.0,1205.2 L176.0,1204.8 L177.0,1204.4 L178.0,1204.1 L179.0,1203.7 L180.0,1203.3 L181.0,1203.0 L182.0,1202.7 L183.0,1202.3 L184.0,1202.0 L185.0,1201.7 L186.0,1201.4 L187.0,1201.1 L188.0,1200.8 L189.0,1200.6 L190.0,1200.3 L191.0,1200.0 L192.0,1199.8 L193.0,1199.5 L194.0,1199.3 L195.0,1199.0 L196.0,1198.8 L197.0,1198.6 L198.0,1198.4 L199.0,1198.2 L200.0,1198.0 L201.0,1197.8 L202.0,1197.7 L203.0,1197.5 L204.0,1197.3 L205.0,1197.2 L206.0,1197.1 L207.0,1196.9 L208.0,1196.8 L209.0,1196.7 L210.0,1196.6 L211.0,1196.5 L212.0,1196.4 L213.0,1196.3 L214.0,1196.3 L215.0,1196.2 L216.0,1196.1 L217.0,1196.1 L218.0,1196.1 L219.0,1196.1 L220.0,1196.0 L221.0,1196.0 L222.0,1196.0 L223.0,1196.1 L224.0,1196.1 L225.0,1196.1 L226.0,1196.2 L227.0,1196.2 L228.0,1196.3 L229.0,1196.4 L230.0,1196.4 L231.0,1196.5 L232.0,1196.6 L233.0,1196.7 L234.0,1196.9 L235.0,1197.0 L236.0,1197.1 L237.0,1197.3 L238.0,1197.5 L239.0,1197.6 L240.0,1197.8 L241.0,1198.0 L242.0,1198.2 L243.0,1198.4 L244.0,1198.6 L245.0,1198.9 L246.0,1199.1 L247.0,1199.4 L248.0,1199.7 L249.0,1199.9 L250.0,1200.2 L251.0,1200.5 L252.0,1200.8 L253.0,1201.2 L254.0,1201.5 L255.0,1201.8 L256.0,1202.2 L257.0,1202.6 L258.0,1202.9 L259.0,1203.3 L260.0,1203.7 L261.0,1204.1 L262.0,1204.6 L263.0,1205.0 L264.0,1205.5 L265.0,1205.9 L266.0,1206.4 L267.0,1206.9 L268.0,1207.4 L269.0,1208.0 L270.0,1208.5 L271.0,1209.0 L272.0,1209.6 L273.0,1210.2 L274.0,1210.8 L275.0,1211.4 L276.0,1212.0 L277.0,1212.6 L278.0,1213.3 L279.0,1213.9 L280.0,1214.6 L281.0,1215.3 L282.0,1216.0 L283.0,1216.8 L284.0,1217.5 L285.0,1218.3 L286.0,1219.0 L287.0,1219.8 L288.0,1220.6 L289.0,1221.5 L290.0,1222.3 L291.0,1223.2 L292.0,1224.0 L293.0,1224.9 L294.0,1225.8 L295.0,1226.8 L296.0,1227.7 L297.0,1228.7 L298.0,1229.7 L299.0,1230.7 L300.0,1231.7 L301.0,1232.7 L302.0,1233.8 L303.0,1234.8 L304.0,1235.9 L305.0,1237.0 L306.0,1238.2 L307.0,1239.3 L308.0,1240.5 L309.0,1241.7 L310.0,1242.9 L311.0,1244.1 L312.0,1245.3 L313.0,1246.6 L314.0,1247.9 L315.0,1249.2 L316.0,1250.5 L317.0,1251.8 L318.0,1253.1 L319.0,1254.5 L320.0,1255.8 L321.0,1257.2 L322.0,1258.6 L323.0,1260.0 L324.0,1261.5 L325.0,1262.9 L326.0,1264.3 L327.0,1265.8 L328.0,1267.3 L329.0,1268.7 L330.0,1270.2 L331.0,1271.7 L332.0,1273.2 L333.0,1274.7 L334.0,1276.3 L335.0,1277.8 L336.0,1279.3 L337.0,1280.9 L338.0,1282.4 L339.0,1284.0 L340.0,1285.6 L341.0,1287.1 L342.0,1288.7 L343.0,1290.3 L344.0,1291.9 L345.0,1293.5 L346.0,1295.1 L347.0,1296.7 L348.0,1298.3 L349.0,1299.9 L350.0,1301.5 L351.0,1303.1 L352.0,1304.7 L353.0,1306.3 L354.0,1307.9 L355.0,1309.5 L356.0,1311.1 L357.0,1312.7 L358.0,1314.3 L359.0,1315.9 L360.0,1317.5 L361.0,1319.1 L362.0,1320.7 L363.0,1322.3 L364.0,1323.9 L365.0,1325.4 L366.0,1327.0 L367.0,1328.6 L368.0,1330.1 L369.0,1331.7 L370.0,1333.3 L371.0,1334.8 L372.0,1336.3 L373.0,1337.9 L374.0,1339.4 L375.0,1340.9 L376.0,1342.4 L377.0,1343.8 L378.0,1345.3 L379.0,1346.8 L380.0,1348.2 L381.0,1349.7 L382.0,1351.1 L383.0,1352.5 L384.0,1353.9 L385.0,1355.2 L386.0,1356.6 L387.0,1357.9 L388.0,1359.2 L389.0,1360.5 L390.0,1361.8 L391.0,1363.1 L392.0,1364.3 L393.0,1365.5 L394.0,1366.7 L395.0,1367.9 L396.0,1369.1 L397.0,1370.2 L398.0,1371.3 L399.0,1372.4 L400.0,1373.4 L401.0,1374.5 L402.0,1375.5 L403.0,1376.4 L404.0,1377.4 L405.0,1378.3 L406.0,1379.2 L407.0,1380.1 L408.0,1380.9 L409.0,1381.7 L410.0,1382.5 L411.0,1383.2 L412.0,1383.9 L413.0,1384.6 L414.0,1385.3 L415.0,1385.9 L416.0,1386.5 L417.0,1387.1 L418.0,1387.6 L419.0,1388.1 L420.0,1388.7 L421.0,1389.1 L422.0,1389.6 L423.0,1390.1 L424.0,1390.5 L425.0,1390.9 L426.0,1391.4 L427.0,1391.8 L428.0,1392.2 L429.0,1392.5 L430.0,1392.9 L431.0,1393.3 L432.0,1393.6 L433.0,1394.0 L434.0,1394.3 L435.0,1394.7 L436.0,1395.0 L437.0,1395.4 L438.0,1395.7 L439.0,1396.1 L440.0,1396.4 L441.0,1396.8 L442.0,1397.2 L443.0,1397.5 L444.0,1397.9 L445.0,1398.3 L446.0,1398.7 L447.0,1399.0 L448.0,1399.4 L449.0,1399.8 L450.0,1400.2 L451.0,1400.6 L452.0,1401.0 L453.0,1401.4 L454.0,1401.8 L455.0,1402.2 L456.0,1402.7 L457.0,1403.1 L458.0,1403.5 L459.0,1403.9 L460.0,1404.4 L461.0,1404.8 L462.0,1405.3 L463.0,1405.7 L464.0,1406.2 L465.0,1406.6 L466.0,1407.1 L467.0,1407.5 L468.0,1408.0 L469.0,1408.5 L470.0,1409.0 L471.0,1409.5 L472.0,1409.9 L473.0,1410.4 L474.0,1410.9 L475.0,1411.4 L476.0,1411.9 L477.0,1412.4 L478.0,1412.9 L479.0,1413.5 L480.0,1414.0 L481.0,1414.5 L482.0,1415.0 L483.0,1415.6 L484.0,1416.1 L485.0,1416.7 L486.0,1417.2 L487.0,1417.8 L488.0,1418.3 L489.0,1418.9 L490.0,1419.4 L491.0,1420.0 L492.0,1420.6 L493.0,1421.1 L494.0,1421.7 L495.0,1422.3 L496.0,1422.9 L497.0,1423.4 L498.0,1424.0 L499.0,1424.6 L500.0,1425.1 L501.0,1425.7 L502.0,1426.2 L503.0,1426.8 L504.0,1427.3 L505.0,1427.9 L506.0,1428.4 L507.0,1428.9 L508.0,1429.4 L509.0,1429.9 L510.0,1430.4 L511.0,1430.9 L512.0,1431.4 L513.0,1431.8 L514.0,1432.3 L515.0,1432.7 L516.0,1433.1 L517.0,1433.5 L518.0,1433.9 L519.0,1434.2 L520.0,1434.6 L521.0,1434.9 L522.0,1435.2 L523.0,1435.5 L524.0,1435.7 L525.0,1436.0 L526.0,1436.2 L527.0,1436.4 L528.0,1436.6 L529.0,1436.7 L530.0,1436.9 L531.0,1437.0 L532.0,1437.0 L533.0,1437.1 L534.0,1437.1 L535.0,1437.1 L536.0,1437.0 L537.0,1437.0 L538.0,1436.9 L539.0,1436.7 L540.0,1436.6 L541.0,1436.4 L542.0,1436.1 L543.0,1435.9 L544.0,1435.6 L545.0,1435.2 L546.0,1434.9 L547.0,1434.5 L548.0,1434.0 L549.0,1433.5 L550.0,1433.0 L551.0,1432.4 L552.0,1431.8 L553.0,1431.2 L554.0,1430.5 L555.0,1429.8 L556.0,1429.1 L557.0,1428.3 L558.0,1427.5 L559.0,1426.6 L560.0,1425.8 L561.0,1424.8 L562.0,1423.9 L563.0,1422.9 L564.0,1421.9 L565.0,1420.8 L566.0,1419.8 L567.0,1418.7 L568.0,1417.5 L569.0,1416.3 L570.0,1415.1 L571.0,1413.9 L572.0,1412.6 L573.0,1411.4 L574.0,1410.0 L575.0,1408.7 L576.0,1407.3 L577.0,1405.9 L578.0,1404.5 L579.0,1403.0 L580.0,1401.5 L581.0,1400.0 L582.0,1398.4 L583.0,1396.9 L584.0,1395.3 L585.0,1393.6 L586.0,1392.0 L587.0,1390.3 L588.0,1388.6 L589.0,1386.9 L590.0,1385.2 L591.0,1383.4 L592.0,1381.6 L593.0,1379.8 L594.0,1378.0 L595.0,1376.1 L596.0,1374.2 L597.0,1372.3 L598.0,1370.4 L599.0,1368.5 L600.0,1366.5 L601.0,1364.5 L602.0,1362.5 L603.0,1360.5 L604.0,1358.5 L605.0,1356.4 L606.0,1354.4 L607.0,1352.3 L608.0,1350.2 L609.0,1348.1 L610.0,1345.9 L611.0,1343.8 L612.0,1341.7 L613.0,1339.5 L614.0,1337.3 L615.0,1335.2 L616.0,1333.0 L617.0,1330.8 L618.0,1328.6 L619.0,1326.4 L620.0,1324.1 L621.0,1321.9 L622.0,1319.7 L623.0,1317.4 L624.0,1315.2 L625.0,1312.9 L626.0,1310.7 L627.0,1308.4 L628.0,1306.2 L629.0,1303.9 L630.0,1301.7 L631.0,1299.4 L632.0,1297.2 L633.0,1294.9 L634.0,1292.7 L635.0,1290.4 L636.0,1288.2 L637.0,1285.9 L638.0,1283.7 L639.0,1281.4 L640.0,1279.2 L641.0,1277.0 L642.0,1274.8 L643.0,1272.6 L644.0,1270.4 L645.0,1268.2 L646.0,1266.0 L647.0,1263.8 L648.0,1261.6 L649.0,1259.5 L650.0,1257.3 L651.0,1255.2 L652.0,1253.1 L653.0,1251.0 L654.0,1248.9 L655.0,1246.8 L656.0,1244.8 L657.0,1242.7 L658.0,1240.7 L659.0,1238.7 L660.0,1236.7 L661.0,1234.7 L662.0,1232.8 L663.0,1230.9 L664.0,1228.9 L665.0,1227.1 L666.0,1225.2 L667.0,1223.3 L668.0,1221.5 L669.0,1219.7 L670.0,1217.9 L671.0,1216.1 L672.0,1214.4 L673.0,1212.6 L674.0,1210.9 L675.0,1209.3 L676.0,1207.6 L677.0,1206.0 L678.0,1204.3 L679.0,1202.8 L680.0,1201.2 L681.0,1199.7 L682.0,1198.1 L683.0,1196.7 L684.0,1195.2 L685.0,1193.8 L686.0,1192.3 L687.0,1191.0 L688.0,1189.6 L689.0,1188.3 L690.0,1187.0 L691.0,1185.7 L692.0,1184.4 L693.0,1183.2 L694.0,1182.0 L695.0,1180.9 L696.0,1179.7 L697.0,1178.6 L698.0,1177.5 L699.0,1176.5 L700.0,1175.5 L701.0,1174.5 L702.0,1173.5 L703.0,1172.6 L704.0,1171.7 L705.0,1170.9 L706.0,1170.0 L707.0,1169.2 L708.0,1168.5 L709.0,1167.7 L710.0,1167.0 L711.0,1166.4 L712.0,1165.7 L713.0,1165.1 L714.0,1164.6 L715.0,1164.0 L716.0,1163.5 L717.0,1163.1 L718.0,1162.6 L719.0,1162.2 L720.0,1161.8 L721.0,1161.5 L722.0,1161.1 L723.0,1160.9 L724.0,1160.6 L725.0,1160.4 L726.0,1160.2 L727.0,1160.0 L728.0,1159.8 L729.0,1159.7 L730.0,1159.6 L731.0,1159.6 L732.0,1159.5 L733.0,1159.5 L734.0,1159.5 L735.0,1159.6 L736.0,1159.7 L737.0,1159.8 L738.0,1159.9 L739.0,1160.0 L740.0,1160.2 L741.0,1160.4 L742.0,1160.6 L743.0,1160.9 L744.0,1161.2 L745.0,1161.5 L746.0,1161.8 L747.0,1162.1 L748.0,1162.5 L749.0,1162.9 L750.0,1163.3 L751.0,1163.8 L752.0,1164.2 L753.0,1164.7 L754.0,1165.2 L755.0,1165.8 L756.0,1166.3 L757.0,1166.9 L758.0,1167.5 L759.0,1168.1 L760.0,1168.7 L761.0,1169.4 L762.0,1170.1 L763.0,1170.8 L764.0,1171.5 L765.0,1172.2 L766.0,1173.0 L767.0,1173.8 L768.0,1174.5 L769.0,1175.4 L770.0,1176.2 L771.0,1177.0 L772.0,1177.9 L773.0,1178.8 L774.0,1179.7 L775.0,1180.6 L776.0,1181.5 L777.0,1182.5 L778.0,1183.4 L779.0,1184.4 L780.0,1185.4 L781.0,1186.4 L782.0,1187.5 L783.0,1188.5 L784.0,1189.6 L785.0,1190.6 L786.0,1191.7 L787.0,1192.8 L788.0,1193.9 L789.0,1195.1 L790.0,1196.2 L791.0,1197.4 L792.0,1198.5 L793.0,1199.7 L794.0,1200.9 L795.0,1202.1 L796.0,1203.3 L797.0,1204.5 L798.0,1205.8 L799.0,1207.0 L800.0,1208.3 L801.0,1209.5 L802.0,1210.8 L803.0,1212.1 L804.0,1213.4 L805.0,1214.7 L806.0,1216.0 L807.0,1217.4 L808.0,1218.7 L809.0,1220.0 L810.0,1221.4 L811.0,1222.7 L812.0,1224.1 L813.0,1225.5 L814.0,1226.9 L815.0,1228.3 L816.0,1229.7 L817.0,1231.1 L818.0,1232.5 L819.0,1233.9 L820.0,1235.3 L821.0,1236.8 L822.0,1238.2 L823.0,1239.6 L824.0,1241.1 L825.0,1242.6 L826.0,1244.0 L827.0,1245.5 L828.0,1247.0 L829.0,1248.5 L830.0,1250.0 L831.0,1251.5 L832.0,1253.0 L833.0,1254.5 L834.0,1256.0 L835.0,1257.6 L836.0,1259.1 L837.0,1260.6 L838.0,1262.2 L839.0,1263.7 L840.0,1265.3 L841.0,1266.8 L842.0,1268.4 L843.0,1270.0 L844.0,1271.6 L845.0,1273.2 L846.0,1274.8 L847.0,1276.3 L848.0,1278.0 L849.0,1279.6 L850.0,1281.2 L851.0,1282.8 L852.0,1284.4 L853.0,1286.0 L854.0,1287.7 L855.0,1289.3 L856.0,1291.0 L857.0,1292.6 L858.0,1294.3 L859.0,1295.9 L860.0,1297.6 L861.0,1299.2 L862.0,1300.9 L863.0,1302.6 L864.0,1304.3 L865.0,1305.9 L866.0,1307.6 L867.0,1309.3 L868.0,1311.0 L869.0,1312.7 L870.0,1314.4 L871.0,1316.1 L872.0,1317.8 L873.0,1319.5 L874.0,1321.3 L875.0,1323.0 L876.0,1324.7 L877.0,1326.4 L878.0,1328.1 L879.0,1329.8 L880.0,1331.6 L881.0,1333.3 L882.0,1335.0 L883.0,1336.7 L884.0,1338.4 L885.0,1340.2 L886.0,1341.9 L887.0,1343.6 L888.0,1345.3 L889.0,1347.0 L890.0,1348.7 L891.0,1350.4 L892.0,1352.1 L893.0,1353.7 L894.0,1355.4 L895.0,1357.1 L896.0,1358.8 L897.0,1360.4 L898.0,1362.1 L899.0,1363.7 L900.0,1365.4 L901.0,1367.0 L902.0,1368.6 L903.0,1370.2 L904.0,1371.8 L905.0,1373.4 L906.0,1375.0 L907.0,1376.5 L908.0,1378.1 L909.0,1379.7 L910.0,1381.2 L911.0,1382.7 L912.0,1384.2 L913.0,1385.7 L914.0,1387.2 L915.0,1388.7 L916.0,1390.1 L917.0,1391.6 L918.0,1393.0 L919.0,1394.4 L920.0,1395.8 L921.0,1397.2 L922.0,1398.5 L923.0,1399.9 L924.0,1401.2 L925.0,1402.5 L926.0,1403.8 L927.0,1405.1 L928.0,1406.3 L929.0,1407.6 L930.0,1408.8 L931.0,1410.0 L932.0,1411.2 L933.0,1412.3 L934.0,1413.5 L935.0,1414.6 L936.0,1415.7 L937.0,1416.8 L938.0,1417.9 L939.0,1418.9 L940.0,1420.0 L941.0,1421.0 L942.0,1422.0 L943.0,1423.0 L944.0,1423.9 L945.0,1424.9 L946.0,1425.8 L947.0,1426.7 L948.0,1427.6 L949.0,1428.4 L950.0,1429.3 L951.0,1430.1 L952.0,1430.9 L953.0,1431.7 L954.0,1432.4 L955.0,1433.2 L956.0,1433.9 L957.0,1434.6 L958.0,1435.3 L959.0,1436.0 L960.0,1436.6 L961.0,1437.2 L962.0,1437.8 L963.0,1438.4 L964.0,1439.0 L965.0,1439.5 L966.0,1440.1 L967.0,1440.6 L968.0,1441.0 L969.0,1441.5 L970.0,1442.0 L971.0,1442.4 L972.0,1442.8 L973.0,1443.2 L974.0,1443.5 L975.0,1443.9 L976.0,1444.2 L977.0,1444.5 L978.0,1444.7 L979.0,1445.0 L980.0,1445.2 L981.0,1445.4 L982.0,1445.6 L983.0,1445.8 L984.0,1445.9 L985.0,1446.1 L986.0,1446.2 L987.0,1446.3 L988.0,1446.3 L989.0,1446.4 L990.0,1446.4 L991.0,1446.4 L992.0,1446.3 L993.0,1446.3 L994.0,1446.2 L995.0,1446.1 L996.0,1446.0 L997.0,1445.9 L998.0,1445.7 L999.0,1445.5 L1000.0,1445.3 L1001.0,1445.1 L1002.0,1444.9 L1003.0,1444.6 L1004.0,1444.4 L1005.0,1444.1 L1006.0,1443.7 L1007.0,1443.4 L1008.0,1443.0 L1009.0,1442.7 L1010.0,1442.3 L1011.0,1441.9 L1012.0,1441.4 L1013.0,1441.0 L1014.0,1440.5 L1015.0,1440.0 L1016.0,1439.5 L1017.0,1439.0 L1018.0,1438.4 L1019.0,1437.8 L1020.0,1437.3 L1021.0,1436.7 L1022.0,1436.0 L1023.0,1435.4 L1024.0,1434.7 L1025.0,1434.1 L1026.0,1433.4 L1027.0,1432.7 L1028.0,1431.9 L1029.0,1431.2 L1030.0,1430.4 L1031.0,1429.7 L1032.0,1428.9 L1033.0,1428.1 L1034.0,1427.2 L1035.0,1426.4 L1036.0,1425.5 L1037.0,1424.7 L1038.0,1423.8 L1039.0,1422.9 L1040.0,1421.9 L1041.0,1421.0 L1042.0,1420.1 L1043.0,1419.1 L1044.0,1418.1 L1045.0,1417.1 L1046.0,1416.1 L1047.0,1415.1 L1048.0,1414.0 L1049.0,1413.0 L1050.0,1411.9 L1051.0,1410.8 L1052.0,1409.7 L1053.0,1408.6 L1054.0,1407.5 L1055.0,1406.4 L1056.0,1405.2 L1057.0,1404.1 L1058.0,1402.9 L1059.0,1401.7 L1060.0,1400.5 L1061.0,1399.3 L1062.0,1398.1 L1063.0,1396.9 L1064.0,1395.7 L1065.0,1394.4 L1066.0,1393.2 L1067.0,1391.9 L1068.0,1390.7 L1069.0,1389.4 L1070.0,1388.1 L1071.0,1386.8 L1072.0,1385.5 L1073.0,1384.2 L1074.0,1382.9 L1075.0,1381.5 L1076.0,1380.2 L1077.0,1378.9 L1078.0,1377.5 L1079.0,1376.2 L1080.0,1374.8 L1081.0,1373.4 L1082.0,1372.1 L1083.0,1370.7 L1084.0,1369.3 L1085.0,1367.9 L1086.0,1366.6 L1087.0,1365.2 L1088.0,1363.8 L1089.0,1362.4 L1090.0,1361.0 L1091.0,1359.6 L1092.0,1358.2 L1093.0,1356.8 L1094.0,1355.3 L1095.0,1353.9 L1096.0,1352.5 L1097.0,1351.1 L1098.0,1349.7 L1099.0,1348.3 L1100.0,1346.8 L1101.0,1345.4 L1102.0,1344.0 L1103.0,1342.6 L1104.0,1341.2 L1105.0,1339.7 L1106.0,1338.3 L1107.0,1336.9 L1108.0,1335.5 L1109.0,1334.1 L1110.0,1332.7 L1111.0,1331.3 L1112.0,1329.9 L1113.0,1328.4 L1114.0,1327.0 L1115.0,1325.7 L1116.0,1324.3 L1117.0,1322.9 L1118.0,1321.5 L1119.0,1320.1 L1120.0,1318.7 L1121.0,1317.4 L1122.0,1316.0 L1123.0,1314.6 L1124.0,1313.3 L1125.0,1311.9 L1126.0,1310.6 L1127.0,1309.2 L1128.0,1307.9 L1129.0,1306.6 L1130.0,1305.3 L1131.0,1304.0 L1132.0,1302.7 L1133.0,1301.4 L1134.0,1300.1 L1135.0,1298.8 L1136.0,1297.5 L1137.0,1296.3 L1138.0,1295.0 L1139.0,1293.8 L1140.0,1292.6 L1141.0,1291.3 L1142.0,1290.1 L1143.0,1288.9 L1144.0,1287.7 L1145.0,1286.6 L1146.0,1285.4 L1147.0,1284.2 L1148.0,1283.1 L1149.0,1282.0 L1150.0,1280.9 L1151.0,1279.8 L1152.0,1278.7 L1153.0,1277.6 L1154.0,1276.5 L1155.0,1275.5"/>
<path class="c" stroke="#ff0000" stroke-width="1.5" d="M165.0,1209.3 L166.0,1208.9 L167.0,1208.4 L168.0,1208.0 L169.0,1207.6 L170.0,1207.2 L171.0,1206.7 L172.0,1206.3 L173.0,1205.9 L174.0,1205.5 L175.0,1205.2 L176.0,1204.8 L177.0,1204.4 L178.0,1204.1 L179.0,1203.7 L180.0,1203.3 L181.0,1203.0 L182.0,1202.7 L183.0,1202.3 L184.0,1202.0 L185.0,1201.7 L186.0,1201.4 L187.0,1201.1 L188.0,1200.8 L189.0,1200.6 L190.0,1200.3 L191.0,1200.0 L192.0,1199.8 L193.0,1199.5 L194.0,1199.3 L195.0,1199.0 L196.0,1198.8 L197.0,1198.6 L198.0,1198.4 L199.0,1198.2 L200.0,1198.0 L201.0,1197.8 L202.0,1197.7 L203.0,1197.5 L204.0,1197.3 L205.0,1197.2 L206.0,1197.1 L207.0,1196.9 L208.0,1196.8 L209.0,1196.7 L210.0,1196.6 L211.0,1196.5 L212.0,1196.4 L213.0,1196.3 L214.0,1196.3 L215.0,1196.2 L216.0,1196.1 L217.0,1196.1 L218.0,1196.1 L219.0,1196.1 L220.0,1196.0 L221.0,1196.0 L222.0,1196.0 L223.0,1196.1 L224.0,1196.1 L225.0,1196.1 L226.0,1196.2 L227.0,1196.2 L228.0,1196.3 L229.0,1196.4 L230.0,1196.4 L231.0,1196.5 L232.0,1196.6 L233.0,1196.7 L234.0,1196.9 L235.0,1197.0 L236.0,1197.1 L237.0,1197.3 L238.0,1197.5 L239.0,1197.6 L240.0,1197.8 L241.0,1198.0 L242.0,1198.2 L243.0,1198.4 L244.0,1198.6 L245.0,1198.9 L246.0,1199.1 L247.0,1199.4 L248.0,1199.7 L249.0,1199.9 L250.0,1200.2 L251.0,1200.5 L252.0,1200.8 L253.0,1201.2 L254.0,1201.5 L255.0,1201.8 L256.0,1202.2"/>
<path class="c" stroke="#00ff00" stroke-width="1.9" d="M400.0,1373.4 L401.0,1374.5 L402.0,1375.5 L403.0,1376.4 L404.0,1377.4 L405.0,1378.3 L406.0,1379.2 L407.0,1380.1 L408.0,1380.9 L409.0,1381.7 L410.0,1382.5 L411.0,1383.2 L412.0,1383.9 L413.0,1384.6 L414.0,1385.3 L415.0,1385.9 L416.0,1386.5 L417.0,1387.1 L418.0,1387.6 L419.0,1388.1 L420.0,1388.7 L421.0,1389.1 L422.0,1389.6 L423.0,1390.1 L424.0,1390.5 L425.0,1390.9 L426.0,1391.4 L427.0,1391.8 L428.0,1392.2 L429.0,1392.5 L430.0,1392.9 L431.0,1393.3 L432.0,1393.6 L433.0,1394.0 L434.0,1394.3 L435.0,1394.7 L436.0,1395.0 L437.0,1395.4 L438.0,1395.7 L439.0,1396.1 L440.0,1396.4 L441.0,1396.8 L442.0,1397.2 L443.0,1397.5 L444.0,1397.9 L445.0,1398.3 L446.0,1398.7 L447.0,1399.0 L448.0,1399.4 L449.0,1399.8 L450.0,1400.2 L451.0,1400.6 L452.0,1401.0 L453.0,1401.4 L454.0,1401.8 L455.0,1402.2 L456.0,1402.7 L457.0,1403.1 L458.0,1403.5 L459.0,1403.9 L460.0,1404.4 L461.0,1404.8 L462.0,1405.3 L463.0,1405.7 L464.0,1406.2 L465.0,1406.6 L466.0,1407.1 L467.0,1407.5 L468.0,1408.0 L469.0,1408.5 L470.0,1409.0 L471.0,1409.5 L472.0,1409.9 L473.0,1410.4 L474.0,1410.9 L475.0,1411.4 L476.0,1411.9 L477.0,1412.4 L478.0,1412.9 L479.0,1413.5 L480.0,1414.0 L481.0,1414.5 L482.0,1415.0 L483.0,1415.6 L484.0,1416.1 L485.0,1416.7 L486.0,1417.2 L487.0,1417.8 L488.0,1418.3 L489.0,1418.9 L490.0,1419.4 L491.0,1420.0 L492.0,1420.6 L493.0,1421.1 L494.0,1421.7 L495.0,1422.3 L496.0,1422.9 L497.0,1423.4 L498.0,1424.0 L499.0,1424.6 L500.0,1425.1 L501.0,1425.7 L502.0,1426.2 L503.0,1426.8 L504.0,1427.3 L505.0,1427.9 L506.0,1428.4 L507.0,1428.9 L508.0,1429.4 L509.0,1429.9 L510.0,1430.4 L511.0,1430.9 L512.0,1431.4 L513.0,1431.8 L514.0,1432.3 L515.0,1432.7 L516.0,1433.1 L517.0,1433.5 L518.0,1433.9 L519.0,1434.2 L520.0,1434.6 L521.0,1434.9 L522.0,1435.2 L523.0,1435.5 L524.0,1435.7 L525.0,1436.0 L526.0,1436.2 L527.0,1436.4 L528.0,1436.6 L529.0,1436.7 L530.0,1436.9 L531.0,1437.0 L532.0,1437.0 L533.0,1437.1 L534.0,1437.1 L535.0,1437.1 L536.0,1437.0 L537.0,1437.0 L538.0,1436.9 L539.0,1436.7 L540.0,1436.6 L541.0,1436.4 L542.0,1436.1 L543.0,1435.9 L544.0,1435.6 L545.0,1435.2 L546.0,1434.9 L547.0,1434.5 L548.0,1434.0 L549.0,1433.5 L550.0,1433.0 L551.0,1432.4 L552.0,1431.8 L553.0,1431.2 L554.0,1430.5 L555.0,1429.8 L556.0,1429.1 L557.0,1428.3 L558.0,1427.5 L559.0,1426.6 L560.0,1425.8 L561.0,1424.8 L562.0,1423.9 L563.0,1422.9 L564.0,1421.9 L565.0,1420.8 L566.0,1419.8 L567.0,1418.7 L568.0,1417.5 L569.0,1416.3 L570.0,1415.1 L571.0,1413.9 L572.0,1412.6 L573.0,1411.4 L574.0,1410.0 L575.0,1408.7 L576.0,1407.3 L577.0,1405.9 L578.0,1404.5 L579.0,1403.0 L580.0,1401.5 L581.0,1400.0 L582.0,1398.4 L583.0,1396.9 L584.0,1395.3 L585.0,1393.6 L586.0,1392.0 L587.0,1390.3 L588.0,1388.6 L589.0,1386.9 L590.0,1385.2 L591.0,1383.4 L592.0,1381.6 L593.0,1379.8 L594.0,1378.0 L595.0,1376.1 L596.0,1374.2 L597.0,1372.3 L598.0,1370.4 L599.0,1368.5 L600.0,1366.5 L601.0,1364.5 L602.0,1362.5 L603.0,1360.5 L604.0,1358.5 L605.0,1356.4 L606.0,1354.4 L607.0,1352.3 L608.0,1350.2 L609.0,1348.1 L610.0,1345.9 L611.0,1343.8 L612.0,1341.7 L613.0,1339.5 L614.0,1337.3 L615.0,1335.2 L616.0,1333.0 L617.0,1330.8 L618.0,1328.6 L619.0,1326.4 L620.0,1324.1 L621.0,1321.9 L622.0,1319.7 L623.0,1317.4 L624.0,1315.2 L625.0,1312.9 L626.0,1310.7 L627.0,1308.4 L628.0,1306.2 L629.0,1303.9 L630.0,1301.7 L631.0,1299.4 L632.0,1297.2 L633.0,1294.9 L634.0,1292.7 L635.0,1290.4 L636.0,1288.2 L637.0,1285.9 L638.0,1283.7 L639.0,1281.4 L640.0,1279.2 L641.0,1277.0 L642.0,1274.8 L643.0,1272.6 L644.0,1270.4 L645.0,1268.2 L646.0,1266.0 L647.0,1263.8 L648.0,1261.6 L649.0,1259.5 L650.0,1257.3 L651.0,1255.2 L652.0,1253.1 L653.0,1251.0 L654.0,1248.9 L655.0,1246.8 L656.0,1244.8 L657.0,1242.7 L658.0,1240.7 L659.0,1238.7 L660.0,1236.7 L661.0,1234.7 L662.0,1232.8 L663.0,1230.9 L664.0,1228.9 L665.0,1227.1 L666.0,1225.2 L667.0,1223.3 L668.0,1221.5 L669.0,1219.7 L670.0,1217.9 L671.0,1216.1 L672.0,1214.4 L673.0,1212.6 L674.0,1210.9 L675.0,1209.3 L676.0,1207.6 L677.0,1206.0 L678.0,1204.3 L679.0,1202.8 L680.0,1201.2 L681.0,1199.7 L682.0,1198.1 L683.0,1196.7 L684.0,1195.2 L685.0,1193.8 L686.0,1192.3 L687.0,1191.0 L688.0,1189.6 L689.0,1188.3 L690.0,1187.0 L691.0,1185.7 L692.0,1184.4 L693.0,1183.2 L694.0,1182.0 L695.0,1180.9 L696.0,1179.7 L697.0,1178.6 L698.0,1177.5 L699.0,1176.5 L700.0,1175.5 L701.0,1174.5 L702.0,1173.5 L703.0,1172.6 L704.0,1171.7 L705.0,1170.9 L706.0,1170.0 L707.0,1169.2 L708.0,1168.5 L709.0,1167.7 L710.0,1167.0 L711.0,1166.4 L712.0,1165.7 L713.0,1165.1 L714.0,1164.6 L715.0,1164.0 L716.0,1163.5 L717.0,1163.1 L718.0,1162.6 L719.0,1162.2 L720.0,1161.8 L721.0,1161.5 L722.0,1161.1 L723.0,1160.9 L724.0,1160.6 L725.0,1160.4 L726.0,1160.2 L727.0,1160.0 L728.0,1159.8 L729.0,1159.7 L730.0,1159.6 L731.0,1159.6 L732.0,1159.5 L733.0,1159.5 L734.0,1159.5 L735.0,1159.6 L736.0,1159.7 L737.0,1159.8 L738.0,1159.9 L739.0,1160.0 L740.0,1160.2 L741.0,1160.4 L742.0,1160.6 L743.0,1160.9 L744.0,1161.2 L745.0,1161.5 L746.0,1161.8 L747.0,1162.1 L748.0,1162.5 L749.0,1162.9 L750.0,1163.3 L751.0,1163.8 L752.0,1164.2 L753.0,1164.7 L754.0,1165.2 L755.0,1165.8 L756.0,1166.3 L757.0,1166.9 L758.0,1167.5 L759.0,1168.1 L760.0,1168.7 L761.0,1169.4 L762.0,1170.1 L763.0,1170.8 L764.0,1171.5 L765.0,1172.2 L766.0,1173.0 L767.0,1173.8 L768.0,1174.5 L769.0,1175.4 L770.0,1176.2 L771.0,1177.0 L772.0,1177.9 L773.0,1178.8 L774.0,1179.7 L775.0,1180.6 L776.0,1181.5 L777.0,1182.5 L778.0,1183.4 L779.0,1184.4 L780.0,1185.4 L781.0,1186.4 L782.0,1187.5 L783.0,1188.5 L784.0,1189.6 L785.0,1190.6 L786.0,1191.7 L787.0,1192.8 L788.0,1193.9 L789.0,1195.1 L790.0,1196.2 L791.0,1197.4 L792.0,1198.5 L793.0,1199.7 L794.0,1200.9 L795.0,1202.1 L796.0,1203.3 L797.0,1204.5 L798.0,1205.8 L799.0,1207.0 L800.0,1208.3 L801.0,1209.5 L802.0,1210.8 L803.0,1212.1 L804.0,1213.4 L805.0,1214.7 L806.0,1216.0 L807.0,1217.4 L808.0,1218.7 L809.0,1220.0 L810.0,1221.4 L811.0,1222.7 L812.0,1224.1 L813.0,1225.5 L814.0,1226.9 L815.0,1228.3 L816.0,1229.7 L817.0,1231.1 L818.0,1232.5 L819.0,1233.9 L820.0,1235.3 L821.0,1236.8 L822.0,1238.2 L823.0,1239.6 L824.0,1241.1 L825.0,1242.6 L826.0,1244.0 L827.0,1245.5 L828.0,1247.0 L829.0,1248.5 L830.0,1250.0 L831.0,1251.5 L832.0,1253.0 L833.0,1254.5 L834.0,1256.0 L835.0,1257.6 L836.0,1259.1 L837.0,1260.6 L838.0,1262.2 L839.0,1263.7 L840.0,1265.3 L841.0,1266.8 L842.0,1268.4 L843.0,1270.0 L844.0,1271.6 L845.0,1273.2 L846.0,1274.8 L847.0,1276.3 L848.0,1278.0 L849.0,1279.6 L850.0,1281.2 L851.0,1282.8 L852.0,1284.4 L853.0,1286.0 L854.0,1287.7 L855.0,1289.3 L856.0,1291.0 L857.0,1292.6 L858.0,1294.3 L859.0,1295.9 L860.0,1297.6 L861.0,1299.2 L862.0,1300.9 L863.0,1302.6 L864.0,1304.3 L865.0,1305.9 L866.0,1307.6 L867.0,1309.3 L868.0,1311.0 L869.0,1312.7 L870.0,1314.4 L871.0,1316.1 L872.0,1317.8 L873.0,1319.5 L874.0,1321.3 L875.0,1323.0 L876.0,1324.7 L877.0,1326.4 L878.0,1328.1 L879.0,1329.8 L880.0,1331.6 L881.0,1333.3 L882.0,1335.0 L883.0,1336.7 L884.0,1338.4 L885.0,1340.2 L886.0,1341.9 L887.0,1343.6 L888.0,1345.3 L889.0,1347.0 L890.0,1348.7 L891.0,1350.4 L892.0,1352.1 L893.0,1353.7 L894.0,1355.4 L895.0,1357.1 L896.0,1358.8 L897.0,1360.4 L898.0,1362.1 L899.0,1363.7 L900.0,1365.4 L901.0,1367.0 L902.0,1368.6 L903.0,1370.2 L904.0,1371.8 L905.0,1373.4 L906.0,1375.0 L907.0,1376.5 L908.0,1378.1 L909.0,1379.7 L910.0,1381.2 L911.0,1382.7 L912.0,1384.2 L913.0,1385.7 L914.0,1387.2 L915.0,1388.7 L916.0,1390.1 L917.0,1391.6 L918.0,1393.0 L919.0,1394.4 L920.0,1395.8 L921.0,1397.2 L922.0,1398.5 L923.0,1399.9 L924.0,1401.2 L925.0,1402.5 L926.0,1403.8 L927.0,1405.1 L928.0,1406.3 L929.0,1407.6 L930.0,1408.8 L931.0,1410.0 L932.0,1411.2 L933.0,1412.3 L934.0,1413.5 L935.0,1414.6 L936.0,1415.7 L937.0,1416.8 L938.0,1417.9 L939.0,1418.9 L940.0,1420.0 L941.0,1421.0 L942.0,1422.0 L943.0,1423.0 L944.0,1423.9 L945.0,1424.9 L946.0,1425.8 L947.0,1426.7 L948.0,1427.6 L949.0,1428.4 L950.0,1429.3 L951.0,1430.1 L952.0,1430.9 L953.0,1431.7 L954.0,1432.4 L955.0,1433.2 L956.0,1433.9 L957.0,1434.6 L958.0,1435.3 L959.0,1436.0 L960.0,1436.6 L961.0,1437.2 L962.0,1437.8 L963.0,1438.4 L964.0,1439.0 L965.0,1439.5 L966.0,1440.1 L967.0,1440.6 L968.0,1441.0 L969.0,1441.5 L970.0,1442.0 L971.0,1442.4 L972.0,1442.8 L973.0,1443.2 L974.0,1443.5 L975.0,1443.9 L976.0,1444.2 L977.0,1444.5 L978.0,1444.7 L979.0,1445.0 L980.0,1445.2 L981.0,1445.4 L982.0,1445.6 L983.0,1445.8 L984.0,1445.9 L985.0,1446.1 L986.0,1446.2 L987.0,1446.3 L988.0,1446.3 L989.0,1446.4 L990.0,1446.4 L991.0,1446.4 L992.0,1446.3 L993.0,1446.3 L994.0,1446.2 L995.0,1446.1 L996.0,1446.0 L997.0,1445.9 L998.0,1445.7 L999.0,1445.5 L1000.0,1445.3 L1001.0,1445.1 L1002.0,1444.9 L1003.0,1444.6 L1004.0,1444.4 L1005.0,1444.1 L1006.0,1443.7 L1007.0,1443.4 L1008.0,1443.0 L1009.0,1442.7 L1010.0,1442.3 L1011.0,1441.9 L1012.0,1441.4 L1013.0,1441.0 L1014.0,1440.5 L1015.0,1440.0 L1016.0,1439.5 L1017.0,1439.0 L1018.0,1438.4 L1019.0,1437.8 L1020.0,1437.3 L1021.0,1436.7 L1022.0,1436.0 L1023.0,1435.4 L1024.0,1434.7 L1025.0,1434.1 L1026.0,1433.4 L1027.0,1432.7 L1028.0,1431.9 L1029.0,1431.2 L1030.0,1430.4 L1031.0,1429.7 L1032.0,1428.9 L1033.0,1428.1 L1034.0,1427.2 L1035.0,1426.4 L1036.0,1425.5 L1037.0,1424.7 L1038.0,1423.8 L1039.0,1422.9 L1040.0,1421.9 L1041.0,1421.0 L1042.0,1420.1 L1043.0,1419.1 L1044.0,1418.1 L1045.0,1417.1 L1046.0,1416.1 L1047.0,1415.1 L1048.0,1414.0 L1049.0,1413.0 L1050.0,1411.9 L1051.0,1410.8 L1052.0,1409.7 L1053.0,1408.6 L1054.0,1407.5 L1055.0,1406.4 L1056.0,1405.2 L1057.0,1404.1 L1058.0,1402.9 L1059.0,1401.7 L1060.0,1400.5 L1061.0,1399.3 L1062.0,1398.1 L1063.0,1396.9 L1064.0,1395.7 L1065.0,1394.4 L1066.0,1393.2 L1067.0,1391.9 L1068.0,1390.7 L1069.0,1389.4 L1070.0,1388.1 L1071.0,1386.8 L1072.0,1385.5 L1073.0,1384.2 L1074.0,1382.9 L1075.0,1381.5 L1076.0,1380.2 L1077.0,1378.9 L1078.0,1377.5 L1079.0,1376.2 L1080.0,1374.8 L1081.0,1373.4 L1082.0,1372.1 L1083.0,1370.7 L1084.0,1369.3 L1085.0,1367.9 L1086.0,1366.6 L1087.0,1365.2 L1088.0,1363.8 L1089.0,1362.4 L1090.0,1361.0 L1091.0,1359.6 L1092.0,1358.2 L1093.0,1356.8 L1094.0,1355.3 L1095.0,1353.9 L1096.0,1352.5 L1097.0,1351.1 L1098.0,1349.7 L1099.0,1348.3 L1100.0,1346.8 L1101.0,1345.4 L1102.0,1344.0 L1103.0,1342.6 L1104.0,1341.2 L1105.0,1339.7 L1106.0,1338.3 L1107.0,1336.9 L1108.0,1335.5 L1109.0,1334.1 L1110.0,1332.7 L1111.0,1331.3 L1112.0,1329.9 L1113.0,1328.4 L1114.0,1327.0 L1115.0,1325.7 L1116.0,1324.3 L1117.0,1322.9 L1118.0,1321.5 L1119.0,1320.1 L1120.0,1318.7 L1121.0,1317.4 L1122.0,1316.0 L1123.0,1314.6 L1124.0,1313.3 L1125.0,1311.9 L1126.0,1310.6 L1127.0,1309.2 L1128.0,1307.9 L1129.0,1306.6 L1130.0,1305.3 L1131.0,1304.0 L1132.0,1302.7 L1133.0,1301.4 L1134.0,1300.1 L1135.0,1298.8 L1136.0,1297.5 L1137.0,1296.3 L1138.0,1295.0 L1139.0,1293.8 L1140.0,1292.6 L1141.0,1291.3 L1142.0,1290.1 L1143.0,1288.9 L1144.0,1287.7 L1145.0,1286.6 L1146.0,1285.4 L1147.0,1284.2 L1148.0,1283.1 L1149.0,1282.0 L1150.0,1280.9 L1151.0,1279.8 L1152.0,1278.7 L1153.0,1277.6 L1154.0,1276.5 L1155.0,1275.5"/>
</g>
<text x="90.9" y="1148.9" font-size="22.47" textLength="65.7" lengthAdjust="spacingAndGlyphs">45000</text>
<text x="90.9" y="1210.9" font-size="22.47" textLength="65.7" lengthAdjust="spacingAndGlyphs">40000</text>
<text x="91.1" y="1272.9" font-size="22.47" textLength="65.4" lengthAdjust="spacingAndGlyphs">35000</text>
<text x="91.1" y="1334.9" font-size="22.47" textLength="65.4" lengthAdjust="spacingAndGlyphs">30000</text>
<text x="90.7" y="1396.9" font-size="22.47" textLength="65.8" lengthAdjust="spacingAndGlyphs">25000</text>
<text x="90.7" y="1458.9" font-size="22.47" textLength="65.8" lengthAdjust="spacingAndGlyphs">20000</text>
<g transform="translate(53.4,1297.8) rotate(-90)"><text x="-87.0" y="0.0" font-size="18.75" textLength="39.3" lengthAdjust="spacingAndGlyphs" class="b" stroke="#262626" stroke-width="0.67" stroke-linejoin="round">CRF</text><text x="-39.6" y="0.0" font-size="18.75" textLength="126.7" lengthAdjust="spacingAndGlyphs" class="b" stroke="#262626" stroke-width="0.67" stroke-linejoin="round">Coordinates</text></g>
<g transform="translate(79.3,1298.3) rotate(-90)"><text x="-37.7" y="0.0" font-size="18.75" textLength="25.6" lengthAdjust="spacingAndGlyphs" class="b" stroke="#262626" stroke-width="0.67" stroke-linejoin="round">|B|</text><text x="-3.5" y="0.0" font-size="18.75" textLength="41.6" lengthAdjust="spacingAndGlyphs" class="b" stroke="#262626" stroke-width="0.67" stroke-linejoin="round">(nT)</text></g>
<g transform="translate(1176.2,1359.7) rotate(-90)"><text x="0.5" y="0.0" font-size="16.67" textLength="71.9" lengthAdjust="spacingAndGlyphs" class="b" fill="#000" stroke="#000" stroke-width="0.60" stroke-linejoin="round">Inboard</text><text x="79.5" y="0.0" font-size="16.67" textLength="11.1" lengthAdjust="spacingAndGlyphs" class="b" fill="#000" stroke="#000" stroke-width="0.60" stroke-linejoin="round">B</text></g>
<g transform="translate(1196.2,1359.0) rotate(-90)"><text x="0.3" y="0.0" font-size="16.67" textLength="88.1" lengthAdjust="spacingAndGlyphs" class="b" fill="#000" stroke="#000" stroke-width="0.60" stroke-linejoin="round">Outboard</text><text x="95.4" y="0.0" font-size="16.67" textLength="11.1" lengthAdjust="spacingAndGlyphs" class="b" fill="#000" stroke="#000" stroke-width="0.60" stroke-linejoin="round">B</text></g>
<g transform="translate(1215.4,1359.7) rotate(-90)"><text x="0.5" y="0.0" font-size="16.67" textLength="56.1" lengthAdjust="spacingAndGlyphs" class="b" fill="#000" stroke="#000" stroke-width="0.60" stroke-linejoin="round">Model</text><text x="63.6" y="0.0" font-size="16.67" textLength="11.1" lengthAdjust="spacingAndGlyphs" class="b" fill="#000" stroke="#000" stroke-width="0.60" stroke-linejoin="round">B</text></g>
<path d="M1171.5,1389.1V1405.5" stroke="#0000ff" stroke-width="2.2"/>
<path d="M1191,1389.1V1405.5" stroke="#00ff00" stroke-width="2.2"/>
<path d="M1211,1389.1V1405.5" stroke="#ff0000" stroke-width="2.2"/>
</g>
<text class="ser" x="447.9" y="42.8" font-size="32.0" textLength="103.3" lengthAdjust="spacingAndGlyphs">e-POP</text>
<text class="ser" x="557.6" y="42.8" font-size="32.0" textLength="82.1" lengthAdjust="spacingAndGlyphs">MGF</text>
<text class="ser" x="646.7" y="42.8" font-size="32.0" textLength="140.2" lengthAdjust="spacingAndGlyphs">Summary</text>
<text class="ser" x="797.1" y="42.8" font-size="32.0" textLength="61.5" lengthAdjust="spacingAndGlyphs">Plot</text>
<text class="ser" x="563.3" y="82.6" font-size="32.0" textLength="61.6" lengthAdjust="spacingAndGlyphs">July</text>
<text class="ser" x="637.4" y="82.6" font-size="32.0" textLength="44.9" lengthAdjust="spacingAndGlyphs">29,</text>
<text class="ser" x="689.9" y="82.6" font-size="32.0" textLength="65.9" lengthAdjust="spacingAndGlyphs">2021</text>
<g id="table" class="b" fill="#000">
<text x="24.7" y="1483.8" font-size="16.67" textLength="52.0" lengthAdjust="spacingAndGlyphs" class="b" fill="#000" stroke="#000" stroke-width="0.60" stroke-linejoin="round">Time:</text>
<text x="124.1" y="1483.8" font-size="16.67" textLength="81.9" lengthAdjust="spacingAndGlyphs" class="b" fill="#000" stroke="#000" stroke-width="0.60" stroke-linejoin="round">08:48:48</text>
<text x="371.1" y="1483.8" font-size="16.67" textLength="82.2" lengthAdjust="spacingAndGlyphs" class="b" fill="#000" stroke="#000" stroke-width="0.60" stroke-linejoin="round">09:12:06</text>
<text x="619.1" y="1483.8" font-size="16.67" textLength="81.7" lengthAdjust="spacingAndGlyphs" class="b" fill="#000" stroke="#000" stroke-width="0.60" stroke-linejoin="round">09:35:23</text>
<text x="866.1" y="1483.8" font-size="16.67" textLength="81.8" lengthAdjust="spacingAndGlyphs" class="b" fill="#000" stroke="#000" stroke-width="0.60" stroke-linejoin="round">09:58:41</text>
<text x="1113.7" y="1483.8" font-size="16.67" textLength="81.4" lengthAdjust="spacingAndGlyphs" class="b" fill="#000" stroke="#000" stroke-width="0.60" stroke-linejoin="round">10:21:59</text>
<text x="23.6" y="1508.4" font-size="16.67" textLength="85.6" lengthAdjust="spacingAndGlyphs" class="b" fill="#000" stroke="#000" stroke-width="0.60" stroke-linejoin="round">Rad(km):</text>
<text x="133.7" y="1508.4" font-size="16.67" textLength="63.1" lengthAdjust="spacingAndGlyphs" class="b" fill="#000" stroke="#000" stroke-width="0.60" stroke-linejoin="round">7253.7</text>
<text x="380.7" y="1508.4" font-size="16.67" textLength="62.9" lengthAdjust="spacingAndGlyphs" class="b" fill="#000" stroke="#000" stroke-width="0.60" stroke-linejoin="round">6718.1</text>
<text x="628.7" y="1508.4" font-size="16.67" textLength="62.9" lengthAdjust="spacingAndGlyphs" class="b" fill="#000" stroke="#000" stroke-width="0.60" stroke-linejoin="round">7022.2</text>
<text x="875.7" y="1508.4" font-size="16.67" textLength="62.8" lengthAdjust="spacingAndGlyphs" class="b" fill="#000" stroke="#000" stroke-width="0.60" stroke-linejoin="round">7580.4</text>
<text x="1122.7" y="1508.4" font-size="16.67" textLength="63.1" lengthAdjust="spacingAndGlyphs" class="b" fill="#000" stroke="#000" stroke-width="0.60" stroke-linejoin="round">7441.7</text>
<text x="23.6" y="1533.0" font-size="16.67" textLength="35.7" lengthAdjust="spacingAndGlyphs" class="b" fill="#000" stroke="#000" stroke-width="0.60" stroke-linejoin="round">Lat:</text>
<text x="145.3" y="1533.0" font-size="16.67" textLength="39.7" lengthAdjust="spacingAndGlyphs" class="b" fill="#000" stroke="#000" stroke-width="0.60" stroke-linejoin="round">79.5</text>
<text x="398.1" y="1533.0" font-size="16.67" textLength="28.2" lengthAdjust="spacingAndGlyphs" class="b" fill="#000" stroke="#000" stroke-width="0.60" stroke-linejoin="round">6.7</text>
<text x="636.7" y="1533.0" font-size="16.67" textLength="47.4" lengthAdjust="spacingAndGlyphs" class="b" fill="#000" stroke="#000" stroke-width="0.60" stroke-linejoin="round">-80.0</text>
<text x="883.7" y="1533.0" font-size="16.67" textLength="47.2" lengthAdjust="spacingAndGlyphs" class="b" fill="#000" stroke="#000" stroke-width="0.60" stroke-linejoin="round">-14.6</text>
<text x="1134.7" y="1533.0" font-size="16.67" textLength="39.3" lengthAdjust="spacingAndGlyphs" class="b" fill="#000" stroke="#000" stroke-width="0.60" stroke-linejoin="round">58.3</text>
<text x="23.7" y="1557.6" font-size="16.67" textLength="39.6" lengthAdjust="spacingAndGlyphs" class="b" fill="#000" stroke="#000" stroke-width="0.60" stroke-linejoin="round">Lon:</text>
<text x="135.9" y="1557.6" font-size="16.67" textLength="58.3" lengthAdjust="spacingAndGlyphs" class="b" fill="#000" stroke="#000" stroke-width="0.60" stroke-linejoin="round">-132.2</text>
<text x="388.7" y="1557.6" font-size="16.67" textLength="46.8" lengthAdjust="spacingAndGlyphs" class="b" fill="#000" stroke="#000" stroke-width="0.60" stroke-linejoin="round">-18.3</text>
<text x="640.5" y="1557.6" font-size="16.67" textLength="39.5" lengthAdjust="spacingAndGlyphs" class="b" fill="#000" stroke="#000" stroke-width="0.60" stroke-linejoin="round">41.5</text>
<text x="881.8" y="1557.6" font-size="16.67" textLength="51.1" lengthAdjust="spacingAndGlyphs" class="b" fill="#000" stroke="#000" stroke-width="0.60" stroke-linejoin="round">148.7</text>
<text x="1128.8" y="1557.6" font-size="16.67" textLength="50.9" lengthAdjust="spacingAndGlyphs" class="b" fill="#000" stroke="#000" stroke-width="0.60" stroke-linejoin="round">160.2</text>
<text x="23.5" y="1582.2" font-size="16.67" textLength="47.5" lengthAdjust="spacingAndGlyphs" class="b" fill="#000" stroke="#000" stroke-width="0.60" stroke-linejoin="round">Mlat:</text>
<text x="145.4" y="1582.2" font-size="16.67" textLength="39.6" lengthAdjust="spacingAndGlyphs" class="b" fill="#000" stroke="#000" stroke-width="0.60" stroke-linejoin="round">80.1</text>
<text x="392.6" y="1582.2" font-size="16.67" textLength="40.0" lengthAdjust="spacingAndGlyphs" class="b" fill="#000" stroke="#000" stroke-width="0.60" stroke-linejoin="round">12.0</text>
<text x="636.7" y="1582.2" font-size="16.67" textLength="46.8" lengthAdjust="spacingAndGlyphs" class="b" fill="#000" stroke="#000" stroke-width="0.60" stroke-linejoin="round">-79.5</text>
<text x="883.7" y="1582.2" font-size="16.67" textLength="46.8" lengthAdjust="spacingAndGlyphs" class="b" fill="#000" stroke="#000" stroke-width="0.60" stroke-linejoin="round">-21.5</text>
<text x="1134.7" y="1582.2" font-size="16.67" textLength="39.9" lengthAdjust="spacingAndGlyphs" class="b" fill="#000" stroke="#000" stroke-width="0.60" stroke-linejoin="round">52.0</text>
<text x="23.5" y="1606.8" font-size="16.67" textLength="36.3" lengthAdjust="spacingAndGlyphs" class="b" fill="#000" stroke="#000" stroke-width="0.60" stroke-linejoin="round">Mlt:</text>
<text x="134.0" y="1606.8" font-size="16.67" textLength="62.5" lengthAdjust="spacingAndGlyphs" class="b" fill="#000" stroke="#000" stroke-width="0.60" stroke-linejoin="round">20.141</text>
<text x="386.5" y="1606.8" font-size="16.67" textLength="51.3" lengthAdjust="spacingAndGlyphs" class="b" fill="#000" stroke="#000" stroke-width="0.60" stroke-linejoin="round">7.793</text>
<text x="634.6" y="1606.8" font-size="16.67" textLength="51.2" lengthAdjust="spacingAndGlyphs" class="b" fill="#000" stroke="#000" stroke-width="0.60" stroke-linejoin="round">8.491</text>
<text x="876.0" y="1606.8" font-size="16.67" textLength="62.6" lengthAdjust="spacingAndGlyphs" class="b" fill="#000" stroke="#000" stroke-width="0.60" stroke-linejoin="round">19.731</text>
<text x="1123.0" y="1606.8" font-size="16.67" textLength="62.5" lengthAdjust="spacingAndGlyphs" class="b" fill="#000" stroke="#000" stroke-width="0.60" stroke-linejoin="round">20.072</text>
</g>
<text x="1.7" y="1644.0" font-size="16.67" textLength="87.5" lengthAdjust="spacingAndGlyphs" class="b" fill="#000" stroke="#000" stroke-width="0.60" stroke-linejoin="round">Summary</text><text x="95.8" y="1644.0" font-size="16.67" textLength="18.3" lengthAdjust="spacingAndGlyphs" class="b" fill="#000" stroke="#000" stroke-width="0.60" stroke-linejoin="round">of</text><text x="120.7" y="1644.0" font-size="16.67" textLength="48.9" lengthAdjust="spacingAndGlyphs" class="b" fill="#000" stroke="#000" stroke-width="0.60" stroke-linejoin="round">MGF_</text><text x="171.0" y="1644.0" font-size="16.67" textLength="99.7" lengthAdjust="spacingAndGlyphs" class="b" fill="#000" stroke="#000" stroke-width="0.60" stroke-linejoin="round">20210729_</text><text x="271.5" y="1644.0" font-size="16.67" textLength="77.1" lengthAdjust="spacingAndGlyphs" class="b" fill="#000" stroke="#000" stroke-width="0.60" stroke-linejoin="round">084848_</text><text x="350.1" y="1644.0" font-size="16.67" textLength="76.5" lengthAdjust="spacingAndGlyphs" class="b" fill="#000" stroke="#000" stroke-width="0.60" stroke-linejoin="round">102158_</text><text x="427.5" y="1644.0" font-size="16.67" textLength="91.4" lengthAdjust="spacingAndGlyphs" class="b" fill="#000" stroke="#000" stroke-width="0.60" stroke-linejoin="round">v2.1.0.lv2</text><text x="526.0" y="1644.0" font-size="16.67" textLength="22.6" lengthAdjust="spacingAndGlyphs" class="b" fill="#000" stroke="#000" stroke-width="0.60" stroke-linejoin="round">on</text><text x="555.8" y="1644.0" font-size="16.67" textLength="111.5" lengthAdjust="spacingAndGlyphs" class="b" fill="#000" stroke="#000" stroke-width="0.60" stroke-linejoin="round">20-Jun-2024</text><text x="674.3" y="1644.0" font-size="16.67" textLength="81.7" lengthAdjust="spacingAndGlyphs" class="b" fill="#000" stroke="#000" stroke-width="0.60" stroke-linejoin="round">07:09:02</text><text x="763.5" y="1644.0" font-size="16.67" textLength="107.5" lengthAdjust="spacingAndGlyphs" class="b" fill="#000" stroke="#000" stroke-width="0.60" stroke-linejoin="round">(calibration</text><text x="877.4" y="1644.0" font-size="16.67" textLength="38.6" lengthAdjust="spacingAndGlyphs" class="b" fill="#000" stroke="#000" stroke-width="0.60" stroke-linejoin="round">cas_</text><text x="917.0" y="1644.0" font-size="16.67" textLength="44.0" lengthAdjust="spacingAndGlyphs" class="b" fill="#000" stroke="#000" stroke-width="0.60" stroke-linejoin="round">mgf_</text><text x="962.0" y="1644.0" font-size="16.67" textLength="52.9" lengthAdjust="spacingAndGlyphs" class="b" fill="#000" stroke="#000" stroke-width="0.60" stroke-linejoin="round">7day_</text><text x="1015.7" y="1644.0" font-size="16.67" textLength="34.4" lengthAdjust="spacingAndGlyphs" class="b" fill="#000" stroke="#000" stroke-width="0.60" stroke-linejoin="round">cal_</text><text x="1051.5" y="1644.0" font-size="16.67" textLength="53.3" lengthAdjust="spacingAndGlyphs" class="b" fill="#000" stroke="#000" stroke-width="0.60" stroke-linejoin="round">2021_</text><text x="1105.6" y="1644.0" font-size="16.67" textLength="30.7" lengthAdjust="spacingAndGlyphs" class="b" fill="#000" stroke="#000" stroke-width="0.60" stroke-linejoin="round">07_</text><text x="1137.8" y="1644.0" font-size="16.67" textLength="30.1" lengthAdjust="spacingAndGlyphs" class="b" fill="#000" stroke="#000" stroke-width="0.60" stroke-linejoin="round">23_</text><text x="1168.8" y="1644.0" font-size="16.67" textLength="82.4" lengthAdjust="spacingAndGlyphs" class="b" fill="#000" stroke="#000" stroke-width="0.60" stroke-linejoin="round">v2.1.mat</text><text x="1259.1" y="1644.0" font-size="16.67" textLength="5.0" lengthAdjust="spacingAndGlyphs" class="b" fill="#000" stroke="#000" stroke-width="0.60" stroke-linejoin="round">)</text>
<defs>
<clipPath id="hexc"><polygon points="234.2,53.5 256.3,15 301,15 323,53.5 302.6,89 252.6,87.3"/></clipPath>
<clipPath id="earthc"><path d="M226.0,77.6 L243.3,69.2 L253.5,64.9 L265.3,60.6 L277.0,57.8 L284.9,56.5 L296.7,55.5 L308.4,54.9 L321.8,54.4 L332.0,54.1 L332,100 L226,100Z"/></clipPath>
<linearGradient id="earthg" x1="0" y1="0" x2="0.2" y2="1">
<stop offset="0" stop-color="#cfe2f6"/><stop offset="0.18" stop-color="#7fb0e6"/><stop offset="0.55" stop-color="#4f8fd8"/><stop offset="1" stop-color="#8fbbe9"/>
</linearGradient>
<linearGradient id="panelg" x1="0" y1="0" x2="1" y2="1"><stop offset="0" stop-color="#4a93dc"/><stop offset="1" stop-color="#2a6fc2"/></linearGradient>
<filter id="cloudf" x="0" y="0" width="1" height="1"><feTurbulence type="fractalNoise" baseFrequency="0.09 0.22" numOctaves="3" seed="7" result="n"/>
<feColorMatrix in="n" type="matrix" values="0 0 0 0 1  0 0 0 0 1  0 0 0 0 1  0 0 0 3.2 -1.25"/></filter>
<filter id="bl1" x="-0.2" y="-0.5" width="1.4" height="2"><feGaussianBlur stdDeviation="1.1"/></filter>
<filter id="bl2" x="-0.3" y="-0.3" width="1.6" height="1.6"><feGaussianBlur stdDeviation="2.2"/></filter>
<pattern id="esastripe" width="2.05" height="2.05" patternUnits="userSpaceOnUse" patternTransform="rotate(-63)"><rect width="2.05" height="1.3" fill="#0c2368"/></pattern>
<clipPath id="esac"><circle cx="998" cy="53.7" r="20.2"/></clipPath>
</defs>
<g id="cassiope-logo">
<polygon points="228.3,53.3 253.4,10.2 304.2,10.2 329.2,53.3 304.2,96.5 253.4,96.5" fill="#fff" stroke="#b5dfea" stroke-width="0.7" stroke-dasharray="1.6 0.5"/>
<g clip-path="url(#hexc)">
<rect x="230" y="12" width="98" height="80" fill="#020308"/>
<path d="M226.0,74.0 L243.3,65.6 L253.5,61.3 L265.3,57.0 L277.0,54.2 L284.9,52.9 L296.7,51.9 L308.4,51.3 L321.8,50.8 L332.0,50.5" fill="none" stroke="#0d5c3c" stroke-width="5" opacity="0.8" stroke-linejoin="round" filter="url(#bl1)"/>
<path d="M226.0,76.0 L243.3,67.6 L253.5,63.3 L265.3,59.0 L277.0,56.2 L284.9,54.9 L296.7,53.9 L308.4,53.3 L321.8,52.8 L332.0,52.5" fill="none" stroke="#2fb574" stroke-width="2" opacity="0.9" stroke-linejoin="round" filter="url(#bl1)"/>
<path d="M226.0,77.6 L243.3,69.2 L253.5,64.9 L265.3,60.6 L277.0,57.8 L284.9,56.5 L296.7,55.5 L308.4,54.9 L321.8,54.4 L332.0,54.1 L332,100 L226,100Z" fill="#0a1a3c"/>
<path d="M226.0,78.4 L243.3,70.0 L253.5,65.7 L265.3,61.4 L277.0,58.6 L284.9,57.3 L296.7,56.3 L308.4,55.7 L321.8,55.2 L332.0,54.9 L332,100 L226,100Z" fill="url(#earthg)"/>
<g clip-path="url(#earthc)"><rect x="228" y="52" width="102" height="48" fill="#fff" filter="url(#cloudf)" opacity="0.9"/>
<ellipse cx="282" cy="84" rx="22" ry="7" fill="#fff" opacity="0.8" filter="url(#bl2)"/>
<path d="M226.0,80.8 L243.3,72.4 L253.5,68.1 L265.3,63.8 L277.0,61.0 L284.9,59.7 L296.7,58.7 L308.4,58.1 L321.8,57.6 L332.0,57.3" fill="none" stroke="#fff" stroke-width="1.6" opacity="0.7" filter="url(#bl1)"/></g>
<polygon points="310,74.3 296.7,83.3 302.4,89" fill="#2f6fc3"/>
<polygon points="283,80 310,74.2 296.7,83.3 302.4,89.5 252,89.5 252.6,87 274,86" fill="#fff" opacity="0.92"/>
<g fill="#dfe6ff"><circle cx="258.3" cy="26.5" r="0.9"/><circle cx="295.5" cy="16.7" r="0.55"/><circle cx="240.2" cy="50.4" r="0.6"/><circle cx="302.5" cy="40.5" r="0.4"/><circle cx="281" cy="21" r="0.35"/><circle cx="265.5" cy="22" r="0.4"/><circle cx="268" cy="24.5" r="0.35"/><circle cx="309" cy="33" r="0.4"/><circle cx="291" cy="47.5" r="0.4"/><circle cx="254" cy="44.5" r="0.35"/></g>
<path d="M286.3,50.3 L304,77" stroke="#f2f6fc" stroke-width="0.8"/>
<path d="M263,46.9 L253,46.4" stroke="#8a7a68" stroke-width="0.7"/><circle cx="252.7" cy="46.4" r="1.15" fill="#f2ae3c"/>
<path d="M274,54.8 L265.8,63.2" stroke="#7d6b52" stroke-width="0.8"/><circle cx="265.7" cy="63.3" r="0.8" fill="#e09a30"/>
<polygon points="267.6,30 287.4,40.3 286.4,43 280.4,43.6 266,35.6" fill="#2f74c8"/>
<polygon points="266,35.6 280.4,43.6 273.2,54.2 262.2,46.6" fill="url(#panelg)"/>
<path d="M264.6,39.4 L278,47.2 M263.4,43 L275.6,50.6 M270.6,38.2 L266,50 M275.4,40.8 L269.8,52.2" stroke="#2c68b6" stroke-width="0.35" fill="none"/>
<polygon points="280.4,43.6 288.6,42.4 285.2,52 276,56.6 273.2,54.2" fill="#c8974a"/>
<polygon points="278.4,48.4 282,47.2 280.6,52.4 277,53.6" fill="#cfe0ee"/>
<polygon points="282.4,44.4 287.4,43.6 286.4,47.4 281.8,48" fill="#2c2518"/>
<path d="M267.6,30 L266,35.6 L262.2,46.6" fill="none" stroke="#e0952e" stroke-width="1.1"/>
<path d="M273.2,54.2 L276,56.6 L285.2,52" fill="none" stroke="#e6a437" stroke-width="0.6"/>
</g>
<circle cx="278.7" cy="80.3" r="3.9" fill="#1d63b5"/><circle cx="279.6" cy="80.5" r="2" fill="#e6eef8"/><rect x="277" y="80" width="6.4" height="1.1" fill="#1d63b5"/><circle cx="279.4" cy="81.4" r="0.6" fill="#c03040"/>
<text x="278.3" y="90.5" font-size="4.1" text-anchor="middle" textLength="34.4" lengthAdjust="spacingAndGlyphs" class="b" style="fill:#27a3dc">CASSIOPE</text>
</g>
<g id="esa-logo">
<g clip-path="url(#esac)"><rect x="977" y="33" width="42" height="42" fill="url(#esastripe)"/>
<circle cx="989" cy="58" r="8" fill="#0c2368" opacity="0.35"/></g>
<circle cx="1009" cy="53.6" r="9.3" fill="#fff"/>
<circle cx="1008.4" cy="53.8" r="5.3" fill="none" stroke="#0c2368" stroke-width="1.5" stroke-dasharray="1.3 0.8"/>
<rect x="1004" y="53.2" width="12.5" height="1.3" fill="#0c2368"/>
<path d="M1011,60.3 C1014,60.2 1016.4,58.8 1017.6,56.8" fill="none" stroke="#fff" stroke-width="2"/>
<path d="M1007,61.6 C1012,62.4 1016,60.6 1018,57" fill="none" stroke="#0c2368" stroke-width="1.1"/>
<polygon points="983.2,50.6 988,53.4 983.2,56.2" fill="#fff"/>
<text x="1021.4" y="65.6" font-size="43" textLength="65.7" lengthAdjust="spacingAndGlyphs" class="b" style="fill:#0c2368;stroke:#0c2368;stroke-width:0.9">esa</text>
</g>

</svg></body></html>
